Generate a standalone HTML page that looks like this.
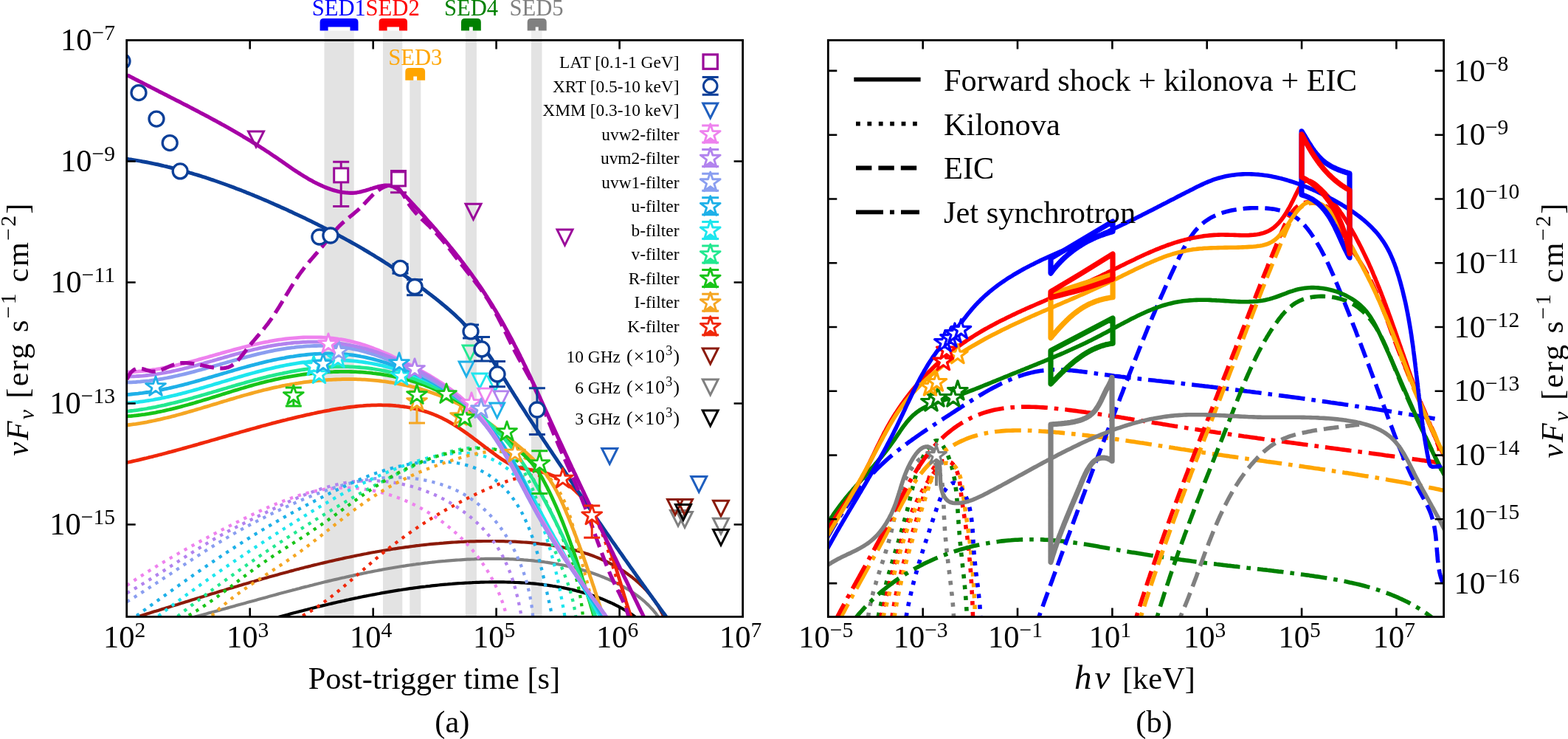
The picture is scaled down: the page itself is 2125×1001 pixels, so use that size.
<!DOCTYPE html><html><head><meta charset="utf-8"><style>html,body{margin:0;padding:0;background:#fff;}svg{display:block;}</style></head><body><svg width="2125" height="1001" viewBox="0 0 2125 1001" font-family="'Liberation Serif', serif">
<defs>
<clipPath id="clipL"><rect x="171.7" y="54.5" width="834.9000000000001" height="780.9"/></clipPath>
<clipPath id="clipR"><rect x="1122.3" y="54.5" width="834.3" height="781.0"/></clipPath>
</defs>
<rect width="2125" height="1001" fill="#fff"/>
<rect x="439.5" y="41.5" width="40.2" height="13" fill="#eeeeee"/>
<rect x="439.5" y="54.5" width="40.2" height="780.9" fill="#e3e3e3"/>
<rect x="519" y="41.5" width="26.3" height="13" fill="#eeeeee"/>
<rect x="519" y="54.5" width="26.3" height="780.9" fill="#e3e3e3"/>
<rect x="555.3" y="108.7" width="15" height="726.7" fill="#e3e3e3"/>
<rect x="630.8" y="41.5" width="15.1" height="13" fill="#eeeeee"/>
<rect x="630.8" y="54.5" width="15.1" height="780.9" fill="#e3e3e3"/>
<rect x="719.9" y="41.5" width="14.6" height="13" fill="#eeeeee"/>
<rect x="719.9" y="54.5" width="14.6" height="780.9" fill="#e3e3e3"/>
<g clip-path="url(#clipL)">
<path d="M144.9 847.7L147.8 846.9L150.7 846.0L153.6 845.2L156.5 844.3L159.4 843.5L162.2 842.6L165.1 841.8L168.0 840.9L170.9 840.0L173.8 839.2L176.7 838.3L179.6 837.4L182.5 836.6L185.3 835.7L188.2 834.8L191.1 833.9L194.0 833.1L196.9 832.2L199.8 831.3L202.7 830.4L205.5 829.5L208.4 828.6L211.3 827.8L214.2 826.9L217.1 826.0L220.0 825.1L222.9 824.2L225.8 823.3L228.6 822.4L231.5 821.5L234.4 820.6L237.3 819.7L240.2 818.9L243.1 818.0L246.0 817.1L248.9 816.2L251.7 815.3L254.6 814.4L257.5 813.5L260.4 812.6L263.3 811.7L266.2 810.8L269.1 809.9L272.0 809.1L274.9 808.2L277.7 807.3L280.6 806.4L283.5 805.5L286.4 804.6L289.3 803.8L292.2 802.9L295.1 802.0L298.0 801.1L300.9 800.2L303.8 799.4L306.7 798.5L309.6 797.6L312.5 796.8L315.4 795.9L318.3 795.0L321.2 794.2L324.1 793.3L327.0 792.5L329.9 791.6L332.8 790.8L335.7 789.9L338.6 789.1L341.5 788.2L344.4 787.4L347.3 786.5L350.2 785.7L353.1 784.9L356.0 784.0L358.9 783.2L361.8 782.4L364.7 781.6L367.6 780.8L370.5 780.0L373.4 779.2L376.3 778.4L379.2 777.6L382.1 776.8L385.1 776.0L388.0 775.2L390.9 774.4L393.8 773.6L396.7 772.9L399.6 772.1L402.6 771.3L405.5 770.6L408.4 769.8L411.3 769.1L414.2 768.3L417.2 767.6L420.1 766.9L423.0 766.1L425.9 765.4L428.8 764.7L431.8 764.0L434.7 763.3L437.6 762.6L440.6 761.9L443.5 761.2L446.4 760.5L449.4 759.9L452.3 759.2L455.2 758.5L458.2 757.9L461.1 757.2L464.0 756.6L467.0 755.9L469.9 755.3L472.9 754.7L475.8 754.1L478.8 753.5L481.7 752.9L484.6 752.3L487.6 751.7L490.5 751.1L493.5 750.5L496.4 750.0L499.4 749.4L502.4 748.8L505.3 748.3L508.3 747.8L511.2 747.2L514.2 746.7L517.2 746.2L520.1 745.7L523.1 745.2L526.0 744.7L529.0 744.3L532.0 743.8L535.0 743.3L537.9 742.9L540.9 742.4L543.9 742.0L546.8 741.6L549.8 741.2L552.8 740.8L555.8 740.4L558.8 740.0L561.8 739.6L564.7 739.2L567.7 738.9L570.7 738.5L573.7 738.2L576.7 737.8L579.7 737.5L582.7 737.2L585.7 736.9L588.7 736.6L591.7 736.3L594.7 736.1L597.7 735.8L600.7 735.6L603.7 735.3L606.7 735.1L609.7 734.9L612.7 734.7L615.7 734.5L618.8 734.3L621.8 734.1L624.8 734.0L627.8 733.8L630.8 733.7L633.9 733.6L636.9 733.4L639.9 733.3L643.0 733.3L646.0 733.2L649.0 733.1L652.1 733.1L655.1 733.0L658.1 733.0L661.2 733.0L664.2 733.0L667.3 733.0L670.3 733.0L673.4 733.0L676.4 733.1L679.5 733.1L682.5 733.2L685.6 733.3L688.7 733.4L691.7 733.5L694.8 733.6L697.8 733.7L700.9 733.9L704.0 734.1L707.0 734.3L710.1 734.5L713.1 734.7L716.2 734.9L719.2 735.2L722.3 735.5L725.3 735.8L728.4 736.1L731.4 736.5L734.4 736.8L737.5 737.2L740.5 737.6L743.5 738.0L746.5 738.5L749.5 739.0L752.5 739.5L755.5 740.0L758.4 740.6L761.4 741.1L764.4 741.8L767.3 742.4L770.2 743.1L773.2 743.7L776.1 744.5L779.0 745.2L781.9 746.0L784.8 746.8L787.6 747.6L790.5 748.5L793.3 749.4L796.2 750.3L799.0 751.3L801.8 752.3L804.5 753.3L807.3 754.4L810.1 755.5L812.8 756.6L815.5 757.8L818.2 759.0L820.9 760.2L823.6 761.5L826.2 762.8L828.8 764.2L831.5 765.6L834.0 767.0L836.6 768.5L839.2 770.0L841.7 771.5L844.2 773.1L846.7 774.8L849.1 776.4L851.5 778.2L853.9 779.9L856.3 781.7L858.6 783.6L860.9 785.4L863.2 787.4L865.4 789.3L867.6 791.4L869.8 793.4L871.9 795.5L874.0 797.7L876.0 799.9L878.0 802.1L880.0 804.4L881.9 806.7L883.7 809.1L885.5 811.6L887.3 814.0L889.0 816.6L890.7 819.1L892.3 821.7L893.8 824.4L895.3 827.1L896.8 829.9L898.1 832.7L899.5 835.6L900.7 838.5L901.9 841.5L903.1 844.5L904.1 847.5L905.2 850.7" fill="none" stroke="#8b1a0a" stroke-width="4.2" stroke-linejoin="round"/>
<path d="M214.9 848.4L217.9 847.7L220.8 846.9L223.8 846.2L226.7 845.4L229.7 844.7L232.6 843.9L235.6 843.2L238.5 842.4L241.5 841.6L244.4 840.9L247.3 840.1L250.3 839.3L253.2 838.5L256.2 837.8L259.1 837.0L262.0 836.2L265.0 835.4L267.9 834.6L270.8 833.8L273.8 833.0L276.7 832.2L279.6 831.4L282.5 830.6L285.5 829.8L288.4 829.0L291.3 828.2L294.2 827.4L297.2 826.6L300.1 825.8L303.0 825.0L305.9 824.2L308.9 823.4L311.8 822.6L314.7 821.7L317.6 820.9L320.5 820.1L323.5 819.3L326.4 818.5L329.3 817.7L332.2 816.9L335.1 816.1L338.0 815.3L341.0 814.5L343.9 813.7L346.8 812.9L349.7 812.1L352.6 811.3L355.5 810.5L358.5 809.7L361.4 808.9L364.3 808.1L367.2 807.3L370.1 806.5L373.0 805.7L376.0 804.9L378.9 804.1L381.8 803.3L384.7 802.5L387.6 801.8L390.5 801.0L393.5 800.2L396.4 799.4L399.3 798.7L402.2 797.9L405.1 797.2L408.1 796.4L411.0 795.6L413.9 794.9L416.8 794.2L419.7 793.4L422.7 792.7L425.6 791.9L428.5 791.2L431.4 790.5L434.4 789.8L437.3 789.0L440.2 788.3L443.1 787.6L446.1 786.9L449.0 786.2L451.9 785.5L454.8 784.9L457.8 784.2L460.7 783.5L463.6 782.8L466.6 782.2L469.5 781.5L472.5 780.9L475.4 780.2L478.3 779.6L481.3 778.9L484.2 778.3L487.2 777.7L490.1 777.1L493.0 776.5L496.0 775.9L498.9 775.3L501.9 774.7L504.8 774.1L507.8 773.5L510.7 773.0L513.7 772.4L516.7 771.9L519.6 771.3L522.6 770.8L525.5 770.3L528.5 769.8L531.5 769.3L534.4 768.8L537.4 768.3L540.4 767.8L543.3 767.3L546.3 766.8L549.3 766.4L552.3 765.9L555.2 765.5L558.2 765.1L561.2 764.7L564.2 764.2L567.2 763.8L570.2 763.5L573.2 763.1L576.2 762.7L579.2 762.4L582.2 762.0L585.2 761.7L588.2 761.3L591.2 761.0L594.2 760.7L597.2 760.4L600.2 760.1L603.2 759.9L606.2 759.6L609.3 759.3L612.3 759.1L615.3 758.9L618.3 758.7L621.4 758.5L624.4 758.3L627.4 758.1L630.5 757.9L633.5 757.7L636.5 757.6L639.6 757.5L642.6 757.4L645.7 757.2L648.8 757.2L651.8 757.1L654.9 757.0L657.9 756.9L661.0 756.9L664.1 756.9L667.1 756.9L670.2 756.9L673.3 756.9L676.3 756.9L679.4 757.0L682.5 757.0L685.6 757.1L688.6 757.2L691.7 757.3L694.8 757.4L697.9 757.6L700.9 757.8L704.0 757.9L707.0 758.1L710.1 758.4L713.2 758.6L716.2 758.9L719.3 759.1L722.3 759.4L725.4 759.8L728.4 760.1L731.4 760.4L734.5 760.8L737.5 761.2L740.5 761.7L743.5 762.1L746.5 762.6L749.5 763.1L752.5 763.6L755.5 764.1L758.5 764.7L761.5 765.2L764.4 765.8L767.4 766.5L770.3 767.1L773.3 767.8L776.2 768.5L779.1 769.2L782.0 770.0L784.9 770.8L787.8 771.6L790.7 772.4L793.6 773.3L796.4 774.2L799.3 775.1L802.1 776.0L804.9 777.0L807.7 778.0L810.5 779.0L813.3 780.1L816.1 781.2L818.9 782.3L821.6 783.5L824.3 784.6L827.0 785.9L829.7 787.1L832.4 788.4L835.1 789.7L837.8 791.0L840.4 792.4L843.0 793.8L845.6 795.2L848.2 796.7L850.7 798.2L853.3 799.8L855.8 801.4L858.2 803.0L860.7 804.7L863.1 806.4L865.5 808.2L867.8 810.0L870.1 811.9L872.4 813.8L874.6 815.8L876.8 817.9L879.0 819.9L881.1 822.1L883.1 824.3L885.2 826.5L887.1 828.9L889.0 831.2L890.9 833.7L892.7 836.2L894.5 838.8L896.2 841.4L897.8 844.1L899.4 846.9L900.9 849.7" fill="none" stroke="#808080" stroke-width="4.2" stroke-linejoin="round"/>
<path d="M334.9 847.9L337.8 847.1L340.7 846.2L343.6 845.4L346.6 844.6L349.5 843.7L352.4 842.9L355.3 842.1L358.2 841.2L361.2 840.4L364.1 839.6L367.0 838.8L369.9 838.0L372.9 837.2L375.8 836.4L378.7 835.6L381.6 834.8L384.5 834.0L387.5 833.2L390.4 832.4L393.3 831.6L396.2 830.8L399.2 830.0L402.1 829.3L405.0 828.5L407.9 827.7L410.9 827.0L413.8 826.2L416.7 825.5L419.7 824.7L422.6 824.0L425.5 823.3L428.5 822.5L431.4 821.8L434.3 821.1L437.3 820.4L440.2 819.7L443.1 819.0L446.1 818.3L449.0 817.6L451.9 816.9L454.9 816.2L457.8 815.5L460.8 814.9L463.7 814.2L466.6 813.6L469.6 812.9L472.5 812.3L475.5 811.6L478.4 811.0L481.4 810.4L484.3 809.8L487.3 809.1L490.2 808.5L493.2 807.9L496.1 807.4L499.1 806.8L502.0 806.2L505.0 805.6L508.0 805.1L510.9 804.5L513.9 804.0L516.8 803.4L519.8 802.9L522.8 802.4L525.7 801.9L528.7 801.4L531.7 800.9L534.6 800.4L537.6 799.9L540.6 799.4L543.6 799.0L546.6 798.5L549.5 798.1L552.5 797.6L555.5 797.2L558.5 796.8L561.5 796.4L564.5 796.0L567.4 795.6L570.4 795.2L573.4 794.8L576.4 794.5L579.4 794.1L582.4 793.8L585.4 793.4L588.4 793.1L591.4 792.8L594.4 792.5L597.4 792.2L600.4 791.9L603.5 791.6L606.5 791.4L609.5 791.1L612.5 790.9L615.5 790.6L618.5 790.4L621.6 790.2L624.6 790.0L627.6 789.8L630.7 789.6L633.7 789.5L636.7 789.3L639.8 789.2L642.8 789.0L645.8 788.9L648.9 788.8L651.9 788.7L655.0 788.6L658.0 788.5L661.1 788.5L664.1 788.4L667.2 788.4L670.3 788.4L673.3 788.4L676.4 788.4L679.4 788.4L682.5 788.4L685.5 788.5L688.6 788.6L691.7 788.6L694.7 788.7L697.8 788.9L700.8 789.0L703.9 789.1L706.9 789.3L710.0 789.5L713.0 789.7L716.0 789.9L719.1 790.2L722.1 790.4L725.1 790.7L728.2 791.0L731.2 791.4L734.2 791.7L737.2 792.1L740.2 792.5L743.2 792.9L746.2 793.3L749.2 793.8L752.2 794.2L755.2 794.7L758.2 795.3L761.1 795.8L764.1 796.4L767.0 797.0L770.0 797.6L772.9 798.3L775.8 798.9L778.8 799.6L781.7 800.4L784.6 801.1L787.5 801.9L790.4 802.7L793.2 803.6L796.1 804.4L798.9 805.3L801.8 806.2L804.6 807.2L807.5 808.2L810.3 809.2L813.1 810.3L815.8 811.3L818.6 812.4L821.4 813.6L824.1 814.8L826.8 816.0L829.5 817.2L832.2 818.5L834.9 819.8L837.5 821.2L840.2 822.6L842.8 824.0L845.4 825.5L847.9 827.0L850.5 828.6L853.0 830.2L855.5 831.8L858.0 833.5L860.4 835.2L862.8 837.0L865.2 838.8L867.6 840.6L869.9 842.6L872.2 844.5L874.5 846.5L876.7 848.5" fill="none" stroke="#000000" stroke-width="4.2" stroke-linejoin="round"/>
<path d="M172.0 792.9L174.5 791.2L177.0 789.5L179.6 787.8L182.1 786.1L184.6 784.4L187.2 782.8L189.7 781.1L192.3 779.5L194.8 777.9L197.4 776.3L199.9 774.6L202.5 773.0L205.1 771.5L207.6 769.9L210.2 768.3L212.8 766.7L215.3 765.2L217.9 763.6L220.5 762.1L223.1 760.5L225.7 759.0L228.2 757.5L230.8 756.0L233.4 754.5L236.0 753.0L238.6 751.5L241.2 750.0L243.8 748.5L246.4 747.0L249.0 745.5L251.6 744.1L254.3 742.6L256.9 741.2L259.5 739.7L262.1 738.3L264.8 736.8L267.4 735.4L270.0 734.0L272.7 732.5L275.3 731.1L278.0 729.7L280.6 728.3L283.3 726.9L285.9 725.5L288.6 724.1L291.3 722.7L293.9 721.3L296.6 719.9L299.3 718.5L302.0 717.1L304.7 715.7L307.4 714.3L310.0 712.9L312.7 711.6L315.4 710.2L318.2 708.8L320.9 707.4L323.6 706.1L326.3 704.7L329.0 703.4L331.8 702.0L334.5 700.7L337.2 699.4L340.0 698.0L342.7 696.7L345.5 695.4L348.2 694.1L351.0 692.8L353.8 691.6L356.6 690.3L359.3 689.0L362.1 687.8L364.9 686.6L367.7 685.3L370.5 684.1L373.3 683.0L376.2 681.8L379.0 680.6L381.8 679.5L384.6 678.4L387.5 677.3L390.3 676.3L393.2 675.2L396.0 674.2L398.9 673.2L401.7 672.3L404.6 671.3L407.5 670.4L410.3 669.6L413.2 668.7L416.1 667.9L419.0 667.2L421.9 666.5L424.8 665.8L427.7 665.1L430.6 664.5L433.5 663.9L436.4 663.4L439.3 662.9L442.3 662.5L445.2 662.1L448.1 661.8L451.1 661.5L454.0 661.2L457.0 661.0L459.9 660.9L462.9 660.8L465.8 660.7L468.8 660.7L471.7 660.8L474.7 660.9L477.6 661.0L480.6 661.2L483.6 661.4L486.5 661.7L489.5 662.0L492.4 662.4L495.4 662.8L498.3 663.2L501.3 663.7L504.2 664.3L507.1 664.9L510.0 665.5L513.0 666.2L515.9 666.9L518.8 667.6L521.7 668.4L524.6 669.3L527.5 670.1L530.3 671.0L533.2 672.0L536.1 673.0L538.9 674.0L541.7 675.1L544.6 676.2L547.4 677.3L550.2 678.5L553.0 679.7L555.7 681.0L558.5 682.3L561.2 683.6L564.0 685.0L566.7 686.4L569.4 687.8L572.1 689.3L574.7 690.8L577.4 692.3L580.0 693.9L582.6 695.5L585.2 697.1L587.8 698.8L590.3 700.5L592.8 702.2L595.3 704.0L597.8 705.8L600.3 707.6L602.7 709.5L605.2 711.3L607.6 713.3L609.9 715.2L612.3 717.2L614.6 719.2L616.9 721.2L619.2 723.2L621.4 725.3L623.6 727.4L625.8 729.5L628.0 731.7L630.1 733.9L632.2 736.1L634.3 738.3L636.3 740.6L638.3 742.9L640.3 745.2L642.2 747.5L644.2 749.8L646.0 752.2L647.9 754.6L649.7 757.0L651.5 759.4L653.2 761.9L654.9 764.4L656.6 766.9L658.3 769.4L659.9 771.9L661.4 774.5L663.0 777.1L664.5 779.7L665.9 782.3L667.4 784.9L668.8 787.6L670.1 790.2L671.4 792.9L672.7 795.6L674.0 798.3L675.2 801.1L676.4 803.8L677.5 806.6L678.6 809.4L679.6 812.2L680.7 815.0L681.7 817.9L682.6 820.7L683.5 823.6L684.4 826.5L685.2 829.4L686.0 832.3L686.8 835.2L687.5 838.1L688.2 841.1L688.8 844.0L689.4 847.0L690.0 850.0" fill="none" stroke="#ee82ee" stroke-width="4.3" stroke-dasharray="4.3 7.1" stroke-linejoin="round"/>
<path d="M172.0 803.3L174.6 801.8L177.2 800.4L179.8 798.9L182.5 797.3L185.1 795.8L187.7 794.3L190.3 792.7L192.9 791.2L195.4 789.6L198.0 788.0L200.6 786.4L203.2 784.9L205.7 783.3L208.3 781.7L210.9 780.0L213.4 778.4L216.0 776.8L218.6 775.2L221.1 773.6L223.7 771.9L226.2 770.3L228.8 768.7L231.3 767.0L233.9 765.4L236.4 763.8L238.9 762.1L241.5 760.5L244.0 758.8L246.6 757.2L249.1 755.6L251.7 753.9L254.2 752.3L256.8 750.7L259.4 749.1L261.9 747.5L264.5 745.9L267.0 744.3L269.6 742.7L272.2 741.1L274.8 739.5L277.3 737.9L279.9 736.4L282.5 734.8L285.1 733.3L287.7 731.8L290.3 730.2L292.9 728.7L295.5 727.2L298.2 725.7L300.8 724.3L303.4 722.8L306.1 721.4L308.7 719.9L311.4 718.5L314.0 717.1L316.7 715.7L319.4 714.4L322.1 713.0L324.8 711.6L327.5 710.3L330.2 709.0L332.9 707.6L335.6 706.3L338.3 705.0L341.0 703.6L343.8 702.3L346.5 701.0L349.2 699.6L351.9 698.3L354.7 697.0L357.4 695.7L360.2 694.3L362.9 693.0L365.7 691.7L368.4 690.3L371.2 689.0L373.9 687.7L376.7 686.4L379.4 685.1L382.2 683.8L385.0 682.5L387.8 681.2L390.5 679.9L393.3 678.7L396.1 677.4L398.9 676.2L401.7 675.0L404.5 673.8L407.3 672.6L410.1 671.5L412.9 670.3L415.7 669.2L418.6 668.1L421.4 667.0L424.2 666.0L427.1 665.0L429.9 664.0L432.8 663.0L435.7 662.1L438.5 661.2L441.4 660.3L444.3 659.5L447.2 658.7L450.1 657.9L453.0 657.2L455.9 656.5L458.8 655.8L461.7 655.2L464.6 654.6L467.6 654.0L470.5 653.5L473.5 653.1L476.4 652.7L479.4 652.3L482.4 652.0L485.4 651.7L488.4 651.5L491.4 651.3L494.4 651.2L497.4 651.1L500.4 651.1L503.4 651.1L506.4 651.1L509.4 651.2L512.5 651.4L515.5 651.6L518.5 651.8L521.5 652.1L524.6 652.4L527.6 652.8L530.6 653.2L533.6 653.6L536.6 654.1L539.6 654.7L542.6 655.3L545.6 655.9L548.6 656.6L551.6 657.3L554.6 658.0L557.5 658.8L560.5 659.7L563.4 660.6L566.4 661.5L569.3 662.4L572.2 663.4L575.1 664.5L577.9 665.6L580.8 666.7L583.6 667.8L586.5 669.0L589.3 670.3L592.1 671.6L594.8 672.9L597.6 674.2L600.3 675.6L603.0 677.0L605.7 678.5L608.4 680.0L611.0 681.6L613.6 683.1L616.2 684.8L618.8 686.4L621.3 688.1L623.8 689.8L626.3 691.6L628.8 693.4L631.2 695.2L633.6 697.0L636.0 698.9L638.3 700.9L640.6 702.8L642.9 704.8L645.1 706.9L647.3 708.9L649.5 711.0L651.6 713.2L653.7 715.3L655.8 717.5L657.8 719.8L659.8 722.0L661.7 724.3L663.6 726.6L665.5 729.0L667.3 731.4L669.1 733.8L670.8 736.2L672.5 738.7L674.1 741.2L675.7 743.7L677.3 746.3L678.8 748.9L680.2 751.5L681.7 754.1L683.0 756.8L684.3 759.5L685.6 762.2L686.9 765.0L688.1 767.7L689.2 770.5L690.4 773.3L691.5 776.2L692.5 779.0L693.5 781.9L694.5 784.7L695.4 787.6L696.4 790.5L697.2 793.5L698.1 796.4L698.9 799.3L699.7 802.3L700.4 805.2L701.2 808.2L701.9 811.2L702.6 814.2L703.2 817.1L703.8 820.1L704.5 823.1L705.0 826.1L705.6 829.1L706.1 832.1L706.7 835.1L707.2 838.1L707.7 841.1L708.1 844.1L708.6 847.0L709.0 850.0" fill="none" stroke="#b283ee" stroke-width="4.3" stroke-dasharray="4.3 7.1" stroke-linejoin="round"/>
<path d="M172.0 815.1L174.6 813.5L177.2 812.0L179.7 810.4L182.3 808.8L184.9 807.2L187.4 805.6L190.0 804.0L192.5 802.4L195.1 800.7L197.6 799.1L200.1 797.5L202.7 795.8L205.2 794.2L207.7 792.6L210.3 790.9L212.8 789.3L215.3 787.6L217.8 786.0L220.4 784.3L222.9 782.6L225.4 781.0L227.9 779.3L230.4 777.7L233.0 776.0L235.5 774.3L238.0 772.7L240.5 771.0L243.0 769.3L245.5 767.7L248.0 766.0L250.6 764.3L253.1 762.7L255.6 761.0L258.1 759.4L260.6 757.7L263.2 756.1L265.7 754.5L268.2 752.8L270.7 751.2L273.3 749.6L275.8 747.9L278.3 746.3L280.9 744.7L283.4 743.1L286.0 741.5L288.5 739.9L291.1 738.3L293.6 736.8L296.2 735.2L298.8 733.6L301.3 732.1L303.9 730.6L306.5 729.0L309.1 727.5L311.6 726.0L314.2 724.5L316.8 723.0L319.4 721.5L322.0 720.0L324.7 718.6L327.3 717.1L329.9 715.7L332.5 714.2L335.2 712.8L337.8 711.4L340.4 710.0L343.1 708.6L345.7 707.2L348.4 705.8L351.1 704.4L353.7 703.1L356.4 701.7L359.1 700.4L361.8 699.0L364.5 697.7L367.2 696.4L369.9 695.0L372.6 693.7L375.3 692.4L378.0 691.2L380.8 689.9L383.5 688.6L386.2 687.3L389.0 686.1L391.7 684.8L394.5 683.6L397.2 682.4L400.0 681.1L402.8 679.9L405.6 678.7L408.4 677.5L411.2 676.3L414.0 675.2L416.8 674.0L419.6 672.8L422.4 671.7L425.2 670.6L428.1 669.5L430.9 668.4L433.7 667.3L436.6 666.3L439.5 665.2L442.3 664.2L445.2 663.2L448.1 662.3L451.0 661.3L453.8 660.4L456.7 659.5L459.6 658.6L462.6 657.7L465.5 656.9L468.4 656.1L471.3 655.3L474.3 654.6L477.2 653.9L480.2 653.2L483.1 652.5L486.1 651.9L489.0 651.3L492.0 650.7L495.0 650.2L498.0 649.7L501.0 649.2L504.0 648.8L507.0 648.4L510.0 648.1L513.1 647.8L516.1 647.5L519.1 647.3L522.2 647.1L525.2 646.9L528.3 646.8L531.3 646.7L534.4 646.7L537.4 646.7L540.4 646.7L543.5 646.8L546.5 647.0L549.6 647.1L552.6 647.3L555.6 647.6L558.6 647.9L561.6 648.2L564.6 648.6L567.6 649.0L570.6 649.5L573.6 650.0L576.5 650.6L579.5 651.2L582.4 651.8L585.3 652.5L588.2 653.3L591.1 654.0L594.0 654.9L596.8 655.7L599.7 656.7L602.5 657.6L605.3 658.6L608.0 659.7L610.8 660.8L613.5 661.9L616.2 663.2L618.9 664.4L621.5 665.7L624.1 667.1L626.7 668.4L629.3 669.9L631.8 671.4L634.3 672.9L636.8 674.5L639.2 676.2L641.6 677.9L644.0 679.6L646.4 681.4L648.7 683.3L650.9 685.2L653.2 687.1L655.4 689.1L657.5 691.1L659.7 693.1L661.8 695.3L663.9 697.4L665.9 699.6L667.9 701.8L669.9 704.1L671.8 706.4L673.7 708.7L675.6 711.1L677.4 713.5L679.2 715.9L681.0 718.4L682.7 720.9L684.4 723.4L686.0 726.0L687.7 728.6L689.2 731.2L690.8 733.8L692.3 736.5L693.8 739.2L695.2 741.9L696.7 744.6L698.0 747.4L699.4 750.2L700.7 753.0L701.9 755.8L703.2 758.6L704.4 761.5L705.5 764.3L706.6 767.2L707.7 770.1L708.8 773.0L709.8 775.9L710.8 778.9L711.7 781.8L712.6 784.8L713.5 787.7L714.3 790.7L715.1 793.7L715.8 796.6L716.5 799.6L717.2 802.6L717.9 805.6L718.5 808.6L719.0 811.6L719.6 814.6L720.0 817.5L720.5 820.5L720.9 823.5L721.3 826.5L721.6 829.5L721.9 832.4L722.2 835.4L722.4 838.3L722.6 841.3L722.7 844.2L722.8 847.1L722.9 850.0" fill="none" stroke="#8a9ef0" stroke-width="4.3" stroke-dasharray="4.3 7.1" stroke-linejoin="round"/>
<path d="M185.1 834.1L187.6 832.4L190.0 830.6L192.4 828.8L194.8 827.1L197.3 825.3L199.7 823.5L202.1 821.8L204.5 820.0L207.0 818.3L209.4 816.5L211.8 814.7L214.3 813.0L216.7 811.2L219.2 809.4L221.6 807.7L224.1 805.9L226.5 804.2L229.0 802.4L231.4 800.7L233.9 798.9L236.3 797.2L238.8 795.4L241.2 793.7L243.7 791.9L246.2 790.2L248.6 788.4L251.1 786.7L253.6 784.9L256.0 783.2L258.5 781.5L261.0 779.7L263.5 778.0L266.0 776.3L268.4 774.6L270.9 772.9L273.4 771.1L275.9 769.4L278.4 767.7L280.9 766.0L283.4 764.3L285.9 762.6L288.4 760.9L290.9 759.2L293.4 757.5L295.9 755.9L298.4 754.2L300.9 752.5L303.5 750.8L306.0 749.2L308.5 747.5L311.0 745.9L313.6 744.2L316.1 742.6L318.6 740.9L321.2 739.3L323.7 737.7L326.3 736.0L328.8 734.4L331.3 732.8L333.9 731.2L336.4 729.6L339.0 728.0L341.6 726.4L344.1 724.8L346.7 723.2L349.3 721.7L351.8 720.1L354.4 718.5L357.0 717.0L359.6 715.4L362.1 713.9L364.7 712.4L367.3 710.9L369.9 709.3L372.5 707.8L375.1 706.3L377.7 704.8L380.3 703.3L382.9 701.9L385.5 700.4L388.1 698.9L390.8 697.5L393.4 696.0L396.0 694.6L398.6 693.2L401.2 691.7L403.9 690.3L406.5 688.9L409.2 687.5L411.8 686.1L414.4 684.7L417.1 683.4L419.7 682.0L422.4 680.6L425.1 679.3L427.7 677.9L430.4 676.6L433.0 675.2L435.7 673.9L438.4 672.5L441.1 671.2L443.7 669.9L446.4 668.5L449.1 667.2L451.8 665.9L454.5 664.6L457.2 663.3L459.9 662.0L462.6 660.7L465.3 659.4L468.0 658.2L470.8 656.9L473.5 655.6L476.2 654.4L479.0 653.2L481.8 652.0L484.5 650.8L487.3 649.6L490.1 648.4L492.9 647.3L495.7 646.2L498.6 645.0L501.4 644.0L504.3 642.9L507.1 641.8L510.0 640.8L512.9 639.8L515.8 638.8L518.8 637.9L521.7 636.9L524.7 636.0L527.6 635.2L530.6 634.3L533.6 633.5L536.7 632.7L539.7 632.0L542.7 631.3L545.8 630.6L548.8 629.9L551.9 629.3L554.9 628.7L558.0 628.2L561.0 627.7L564.1 627.2L567.2 626.8L570.3 626.4L573.3 626.1L576.4 625.8L579.4 625.6L582.5 625.4L585.5 625.2L588.6 625.1L591.6 625.1L594.6 625.1L597.6 625.1L600.6 625.2L603.6 625.4L606.6 625.6L609.6 625.8L612.5 626.2L615.4 626.6L618.3 627.0L621.2 627.5L624.1 628.1L626.9 628.7L629.7 629.4L632.5 630.1L635.3 630.9L638.1 631.8L640.8 632.8L643.5 633.8L646.1 634.9L648.7 636.0L651.3 637.3L653.9 638.6L656.4 639.9L658.9 641.4L661.4 642.9L663.8 644.5L666.2 646.1L668.6 647.9L670.9 649.6L673.1 651.5L675.4 653.4L677.6 655.3L679.7 657.3L681.8 659.4L683.9 661.5L685.9 663.7L687.9 665.9L689.8 668.2L691.7 670.5L693.5 672.9L695.3 675.3L697.1 677.7L698.8 680.2L700.4 682.7L702.0 685.3L703.6 687.9L705.1 690.5L706.5 693.1L708.0 695.8L709.3 698.5L710.7 701.3L712.0 704.1L713.2 706.8L714.5 709.6L715.7 712.5L716.8 715.3L718.0 718.2L719.1 721.1L720.1 724.0L721.2 726.9L722.2 729.8L723.2 732.7L724.1 735.7L725.1 738.6L726.0 741.6L726.9 744.5L727.7 747.5L728.6 750.4L729.4 753.4L730.2 756.3L731.0 759.3L731.8 762.2L732.6 765.2L733.3 768.1L734.1 771.1L734.8 774.0L735.5 777.0L736.2 779.9L736.9 782.9L737.6 785.8L738.3 788.7L738.9 791.7L739.6 794.6L740.2 797.5L740.9 800.4L741.5 803.4L742.2 806.3L742.8 809.2L743.4 812.1L744.1 815.0L744.7 817.9L745.4 820.7L746.0 823.6L746.6 826.5L747.3 829.3L747.9 832.2L748.6 835.0L749.2 837.9L749.9 840.7L750.6 843.5L751.3 846.3L752.0 849.1" fill="none" stroke="#1eb0e8" stroke-width="4.3" stroke-dasharray="4.3 7.1" stroke-linejoin="round"/>
<path d="M214.6 834.4L216.9 832.6L219.3 830.8L221.6 829.0L224.0 827.2L226.4 825.4L228.7 823.6L231.1 821.8L233.5 820.0L235.9 818.2L238.3 816.4L240.7 814.6L243.1 812.9L245.5 811.1L247.9 809.3L250.4 807.5L252.8 805.7L255.2 804.0L257.7 802.2L260.1 800.4L262.6 798.7L265.0 796.9L267.5 795.1L269.9 793.4L272.4 791.6L274.9 789.9L277.3 788.1L279.8 786.4L282.3 784.6L284.8 782.9L287.2 781.1L289.7 779.4L292.2 777.6L294.7 775.9L297.2 774.2L299.7 772.5L302.2 770.7L304.7 769.0L307.2 767.3L309.7 765.6L312.3 763.9L314.8 762.2L317.3 760.4L319.8 758.7L322.3 757.0L324.9 755.4L327.4 753.7L329.9 752.0L332.4 750.3L335.0 748.6L337.5 746.9L340.0 745.2L342.6 743.6L345.1 741.9L347.6 740.2L350.2 738.6L352.7 736.9L355.2 735.3L357.8 733.6L360.3 732.0L362.9 730.3L365.4 728.7L368.0 727.0L370.5 725.4L373.0 723.8L375.6 722.2L378.1 720.5L380.7 718.9L383.2 717.3L385.7 715.7L388.3 714.1L390.8 712.5L393.4 710.9L395.9 709.3L398.4 707.7L401.0 706.2L403.5 704.6L406.0 703.0L408.6 701.4L411.1 699.9L413.6 698.3L416.2 696.8L418.7 695.2L421.3 693.7L423.8 692.1L426.3 690.6L428.9 689.1L431.4 687.6L434.0 686.0L436.6 684.5L439.1 683.0L441.7 681.6L444.3 680.1L446.8 678.6L449.4 677.1L452.0 675.7L454.6 674.2L457.2 672.8L459.8 671.3L462.4 669.9L465.0 668.5L467.7 667.0L470.3 665.6L472.9 664.2L475.6 662.8L478.2 661.5L480.9 660.1L483.6 658.7L486.3 657.4L489.0 656.0L491.7 654.7L494.4 653.4L497.1 652.1L499.9 650.8L502.6 649.5L505.4 648.2L508.2 646.9L510.9 645.7L513.7 644.4L516.6 643.2L519.4 641.9L522.2 640.7L525.1 639.5L527.9 638.3L530.8 637.1L533.7 636.0L536.6 634.8L539.6 633.7L542.5 632.5L545.5 631.4L548.5 630.3L551.4 629.2L554.4 628.2L557.4 627.1L560.5 626.1L563.5 625.1L566.5 624.2L569.6 623.2L572.6 622.3L575.7 621.5L578.7 620.6L581.8 619.8L584.8 619.1L587.9 618.4L590.9 617.7L594.0 617.1L597.0 616.5L600.1 616.0L603.1 615.5L606.1 615.1L609.2 614.7L612.2 614.4L615.2 614.1L618.2 613.9L621.1 613.8L624.1 613.7L627.1 613.7L630.0 613.8L632.9 613.9L635.8 614.2L638.7 614.4L641.5 614.8L644.4 615.2L647.2 615.8L650.0 616.4L652.8 617.1L655.5 617.8L658.2 618.7L660.9 619.6L663.6 620.7L666.2 621.8L668.8 623.0L671.4 624.2L673.9 625.6L676.4 627.0L678.8 628.5L681.2 630.1L683.6 631.8L685.9 633.5L688.2 635.3L690.4 637.1L692.6 639.1L694.7 641.1L696.8 643.1L698.8 645.2L700.8 647.4L702.7 649.7L704.6 652.0L706.4 654.3L708.2 656.7L709.9 659.2L711.6 661.7L713.2 664.2L714.8 666.8L716.4 669.5L717.9 672.1L719.3 674.8L720.8 677.6L722.2 680.3L723.5 683.1L724.8 685.9L726.1 688.8L727.3 691.6L728.6 694.5L729.8 697.4L730.9 700.3L732.0 703.3L733.1 706.2L734.2 709.1L735.3 712.1L736.3 715.0L737.3 717.9L738.3 720.9L739.3 723.8L740.3 726.7L741.2 729.7L742.1 732.6L743.0 735.5L743.9 738.4L744.7 741.4L745.6 744.3L746.4 747.2L747.2 750.1L748.0 753.0L748.8 755.9L749.6 758.9L750.3 761.8L751.1 764.7L751.8 767.6L752.5 770.5L753.2 773.4L753.9 776.4L754.5 779.3L755.2 782.2L755.8 785.1L756.5 788.0L757.1 790.9L757.7 793.8L758.3 796.8L758.9 799.7L759.5 802.6L760.0 805.5L760.6 808.4L761.2 811.4L761.7 814.3L762.2 817.2L762.8 820.1L763.3 823.1L763.8 826.0L764.3 828.9L764.9 831.9L765.4 834.8L765.9 837.7L766.4 840.7L766.8 843.6L767.3 846.6L767.8 849.5" fill="none" stroke="#1ee6ee" stroke-width="4.3" stroke-dasharray="4.3 7.1" stroke-linejoin="round"/>
<path d="M240.6 834.7L243.0 832.9L245.3 831.0L247.7 829.2L250.1 827.3L252.5 825.5L254.9 823.7L257.3 821.8L259.6 820.0L262.0 818.2L264.4 816.3L266.8 814.5L269.3 812.7L271.7 810.9L274.1 809.1L276.5 807.3L278.9 805.5L281.3 803.6L283.7 801.8L286.2 800.0L288.6 798.3L291.0 796.5L293.5 794.7L295.9 792.9L298.3 791.1L300.8 789.3L303.2 787.6L305.7 785.8L308.1 784.0L310.6 782.3L313.0 780.5L315.5 778.7L317.9 777.0L320.4 775.2L322.9 773.5L325.3 771.7L327.8 770.0L330.3 768.3L332.8 766.5L335.2 764.8L337.7 763.1L340.2 761.4L342.7 759.6L345.2 757.9L347.7 756.2L350.1 754.5L352.6 752.8L355.1 751.1L357.6 749.4L360.1 747.7L362.6 746.0L365.1 744.3L367.7 742.7L370.2 741.0L372.7 739.3L375.2 737.6L377.7 736.0L380.2 734.3L382.7 732.7L385.3 731.0L387.8 729.4L390.3 727.7L392.8 726.1L395.4 724.4L397.9 722.8L400.4 721.2L403.0 719.5L405.5 717.9L408.1 716.3L410.6 714.7L413.1 713.1L415.7 711.5L418.2 709.9L420.8 708.3L423.3 706.7L425.9 705.1L428.5 703.5L431.0 702.0L433.6 700.4L436.1 698.8L438.7 697.3L441.3 695.7L443.8 694.2L446.4 692.6L449.0 691.1L451.5 689.5L454.1 688.0L456.7 686.5L459.3 684.9L461.9 683.4L464.5 681.9L467.1 680.4L469.6 678.9L472.2 677.4L474.8 675.9L477.4 674.4L480.1 672.9L482.7 671.5L485.3 670.0L487.9 668.5L490.5 667.1L493.1 665.6L495.8 664.2L498.4 662.7L501.1 661.3L503.7 659.9L506.3 658.4L509.0 657.0L511.7 655.6L514.3 654.2L517.0 652.8L519.6 651.4L522.3 650.0L525.0 648.6L527.7 647.2L530.4 645.9L533.1 644.5L535.8 643.2L538.5 641.8L541.2 640.5L543.9 639.1L546.6 637.8L549.4 636.5L552.1 635.2L554.9 633.8L557.6 632.5L560.4 631.2L563.1 630.0L565.9 628.7L568.7 627.4L571.4 626.2L574.2 624.9L577.0 623.7L579.8 622.5L582.7 621.3L585.5 620.2L588.3 619.1L591.2 618.0L594.0 616.9L596.9 615.9L599.8 614.9L602.7 614.0L605.6 613.1L608.5 612.2L611.5 611.4L614.4 610.6L617.4 609.9L620.4 609.3L623.4 608.7L626.4 608.2L629.4 607.7L632.5 607.3L635.5 606.9L638.6 606.7L641.6 606.5L644.7 606.3L647.7 606.3L650.8 606.3L653.8 606.4L656.8 606.6L659.8 606.9L662.7 607.3L665.6 607.8L668.5 608.4L671.3 609.1L674.1 609.9L676.8 610.8L679.4 611.8L682.0 612.9L684.5 614.1L687.0 615.5L689.4 616.9L691.7 618.5L693.9 620.2L696.0 622.1L698.1 624.0L700.1 626.0L702.0 628.2L703.9 630.4L705.7 632.7L707.4 635.1L709.1 637.6L710.7 640.1L712.2 642.7L713.7 645.4L715.2 648.1L716.6 650.9L717.9 653.7L719.3 656.6L720.5 659.5L721.8 662.4L723.0 665.3L724.1 668.3L725.3 671.3L726.3 674.3L727.4 677.3L728.5 680.2L729.5 683.2L730.5 686.2L731.5 689.2L732.4 692.1L733.4 695.1L734.4 698.0L735.3 700.9L736.3 703.9L737.2 706.8L738.2 709.7L739.2 712.6L740.2 715.4L741.2 718.3L742.3 721.2L743.3 724.0L744.4 726.8L745.5 729.6L746.6 732.5L747.7 735.3L748.9 738.1L750.0 740.9L751.1 743.6L752.3 746.4L753.4 749.2L754.6 752.0L755.7 754.7L756.8 757.5L758.0 760.3L759.1 763.1L760.2 765.8L761.3 768.6L762.4 771.4L763.5 774.2L764.6 776.9L765.6 779.7L766.7 782.5L767.7 785.3L768.7 788.1L769.7 790.9L770.6 793.8L771.5 796.6L772.4 799.4L773.3 802.3L774.1 805.2L774.9 808.1L775.6 810.9L776.4 813.9L777.1 816.8L777.7 819.7L778.3 822.7L778.8 825.7L779.4 828.7L779.8 831.7L780.2 834.7L780.6 837.8L780.9 840.8L781.1 843.9L781.3 847.1L781.5 850.2" fill="none" stroke="#22e890" stroke-width="4.3" stroke-dasharray="4.3 7.1" stroke-linejoin="round"/>
<path d="M255.7 833.6L258.4 832.1L261.0 830.6L263.5 829.1L266.1 827.5L268.6 825.9L271.2 824.3L273.7 822.7L276.2 821.0L278.7 819.4L281.2 817.7L283.7 816.0L286.1 814.2L288.6 812.5L291.0 810.7L293.5 809.0L295.9 807.2L298.3 805.4L300.8 803.6L303.2 801.8L305.6 800.0L308.0 798.2L310.4 796.4L312.8 794.6L315.2 792.7L317.6 790.9L320.0 789.1L322.4 787.3L324.8 785.4L327.2 783.6L329.6 781.8L332.0 780.0L334.4 778.2L336.9 776.4L339.3 774.6L341.7 772.8L344.2 771.0L346.6 769.3L349.1 767.5L351.5 765.8L354.0 764.1L356.5 762.4L359.0 760.7L361.5 759.0L364.0 757.3L366.5 755.6L369.0 753.9L371.5 752.3L374.0 750.6L376.6 749.0L379.1 747.4L381.6 745.7L384.2 744.1L386.7 742.5L389.2 740.9L391.8 739.2L394.3 737.6L396.9 736.0L399.4 734.4L402.0 732.8L404.5 731.1L407.0 729.5L409.6 727.9L412.1 726.2L414.6 724.6L417.2 723.0L419.7 721.3L422.2 719.7L424.7 718.0L427.2 716.3L429.7 714.6L432.2 713.0L434.7 711.3L437.2 709.5L439.7 707.8L442.1 706.1L444.6 704.4L447.1 702.6L449.5 700.9L452.0 699.1L454.4 697.4L456.9 695.6L459.3 693.9L461.8 692.1L464.2 690.3L466.7 688.6L469.1 686.8L471.5 685.1L474.0 683.3L476.4 681.6L478.9 679.8L481.3 678.1L483.8 676.3L486.2 674.6L488.7 672.9L491.2 671.1L493.6 669.4L496.1 667.7L498.6 666.0L501.1 664.3L503.5 662.7L506.0 661.0L508.5 659.3L511.0 657.7L513.6 656.1L516.1 654.5L518.6 652.9L521.2 651.3L523.7 649.7L526.3 648.2L528.9 646.7L531.5 645.1L534.1 643.7L536.7 642.2L539.3 640.7L541.9 639.3L544.6 637.9L547.2 636.5L549.9 635.2L552.6 633.9L555.3 632.5L558.0 631.3L560.8 630.0L563.5 628.8L566.3 627.6L569.1 626.4L571.9 625.3L574.7 624.2L577.6 623.1L580.4 622.0L583.3 621.0L586.2 620.0L589.1 619.1L592.0 618.1L594.9 617.2L597.8 616.4L600.8 615.6L603.8 614.8L606.7 614.0L609.7 613.3L612.7 612.6L615.8 611.9L618.8 611.3L621.9 610.7L624.9 610.1L628.0 609.6L631.1 609.1L634.2 608.6L637.3 608.3L640.4 607.9L643.5 607.6L646.6 607.4L649.6 607.2L652.7 607.2L655.7 607.2L658.7 607.2L661.7 607.4L664.6 607.7L667.5 608.1L670.3 608.6L673.1 609.2L675.8 609.9L678.5 610.7L681.1 611.7L683.7 612.7L686.2 613.9L688.6 615.2L691.0 616.6L693.4 618.1L695.7 619.7L697.9 621.3L700.1 623.1L702.3 625.0L704.4 626.9L706.5 628.9L708.5 631.0L710.5 633.2L712.4 635.4L714.3 637.7L716.2 640.1L718.0 642.5L719.8 645.0L721.6 647.5L723.3 650.1L725.0 652.7L726.6 655.3L728.3 658.0L729.9 660.8L731.4 663.5L733.0 666.3L734.5 669.1L736.0 671.9L737.5 674.7L739.0 677.6L740.4 680.4L741.8 683.3L743.2 686.1L744.6 689.0L746.0 691.8L747.3 694.7L748.7 697.5L750.0 700.3L751.3 703.1L752.6 705.9L753.9 708.7L755.2 711.5L756.4 714.3L757.6 717.1L758.8 719.9L760.0 722.7L761.2 725.5L762.4 728.3L763.5 731.1L764.6 733.8L765.7 736.6L766.8 739.4L767.9 742.2L768.9 745.0L770.0 747.7L771.0 750.5L772.0 753.3L772.9 756.1L773.9 758.9L774.8 761.7L775.7 764.5L776.6 767.3L777.4 770.1L778.2 773.0L779.0 775.8L779.8 778.6L780.6 781.5L781.3 784.3L782.0 787.2L782.7 790.1L783.4 792.9L784.0 795.8L784.6 798.7L785.2 801.6L785.8 804.6L786.3 807.5L786.8 810.5L787.3 813.4L787.8 816.4L788.2 819.4L788.6 822.4L789.0 825.4L789.3 828.5L789.6 831.5L789.9 834.6L790.2 837.7L790.4 840.8L790.6 843.9L790.8 847.1L790.9 850.2" fill="none" stroke="#18c418" stroke-width="4.3" stroke-dasharray="4.3 7.1" stroke-linejoin="round"/>
<path d="M287.0 834.0L289.2 831.9L291.5 829.8L293.7 827.7L296.0 825.7L298.2 823.6L300.5 821.7L302.9 819.7L305.2 817.8L307.5 815.8L309.9 813.9L312.3 812.1L314.6 810.2L317.0 808.4L319.4 806.6L321.9 804.8L324.3 803.0L326.7 801.3L329.2 799.5L331.6 797.8L334.1 796.1L336.6 794.4L339.1 792.7L341.5 791.0L344.0 789.3L346.5 787.7L349.0 786.0L351.5 784.4L354.0 782.7L356.6 781.1L359.1 779.4L361.6 777.8L364.1 776.1L366.6 774.5L369.1 772.9L371.7 771.2L374.2 769.6L376.7 767.9L379.2 766.3L381.7 764.6L384.2 762.9L386.7 761.3L389.2 759.6L391.7 757.9L394.2 756.2L396.6 754.5L399.1 752.7L401.6 751.0L404.0 749.2L406.5 747.4L408.9 745.6L411.3 743.8L413.8 742.0L416.2 740.2L418.6 738.4L421.0 736.5L423.4 734.7L425.8 732.8L428.2 731.0L430.6 729.1L433.0 727.2L435.4 725.4L437.8 723.5L440.1 721.6L442.5 719.7L444.9 717.9L447.3 716.0L449.7 714.1L452.1 712.2L454.4 710.3L456.8 708.5L459.2 706.6L461.6 704.7L464.0 702.9L466.4 701.0L468.8 699.2L471.2 697.4L473.6 695.5L476.0 693.7L478.4 691.9L480.8 690.1L483.2 688.3L485.7 686.6L488.1 684.8L490.6 683.1L493.0 681.3L495.5 679.6L497.9 677.9L500.4 676.3L502.9 674.6L505.4 673.0L507.9 671.3L510.4 669.8L512.9 668.2L515.5 666.6L518.0 665.1L520.6 663.6L523.1 662.1L525.7 660.6L528.3 659.1L530.9 657.7L533.5 656.3L536.1 654.9L538.8 653.5L541.4 652.2L544.1 650.8L546.7 649.5L549.4 648.2L552.1 646.9L554.8 645.7L557.5 644.4L560.2 643.2L563.0 642.0L565.7 640.8L568.5 639.6L571.3 638.4L574.1 637.3L576.9 636.2L579.7 635.1L582.5 634.0L585.3 632.9L588.2 631.8L591.1 630.8L593.9 629.7L596.8 628.7L599.7 627.7L602.6 626.8L605.6 625.8L608.5 624.8L611.5 623.9L614.4 623.0L617.4 622.1L620.4 621.2L623.4 620.3L626.5 619.4L629.5 618.6L632.6 617.7L635.6 616.9L638.7 616.2L641.8 615.4L644.8 614.7L647.9 614.1L651.0 613.5L654.1 612.9L657.1 612.5L660.2 612.1L663.2 611.7L666.3 611.5L669.3 611.3L672.3 611.2L675.3 611.2L678.3 611.3L681.2 611.5L684.1 611.9L687.0 612.3L689.9 612.8L692.7 613.5L695.6 614.2L698.3 615.0L701.1 616.0L703.8 617.0L706.5 618.1L709.2 619.3L711.8 620.6L714.4 622.0L716.9 623.4L719.4 625.0L721.9 626.6L724.3 628.3L726.7 630.0L729.0 631.8L731.3 633.7L733.6 635.7L735.8 637.7L737.9 639.8L740.0 642.0L742.1 644.2L744.1 646.4L746.1 648.7L748.0 651.1L749.8 653.5L751.6 656.0L753.3 658.5L755.0 661.0L756.6 663.6L758.2 666.2L759.7 668.8L761.1 671.5L762.5 674.2L763.8 676.9L765.1 679.7L766.3 682.5L767.4 685.3L768.5 688.1L769.6 690.9L770.6 693.8L771.6 696.7L772.6 699.6L773.5 702.5L774.3 705.4L775.2 708.4L776.0 711.3L776.8 714.3L777.6 717.2L778.4 720.2L779.1 723.2L779.8 726.2L780.6 729.1L781.3 732.1L782.0 735.1L782.7 738.1L783.4 741.1L784.1 744.0L784.8 747.0L785.5 749.9L786.3 752.9L787.0 755.8L787.8 758.7L788.5 761.6L789.3 764.6L790.1 767.4L790.9 770.3L791.6 773.2L792.4 776.1L793.2 779.0L794.0 781.8L794.7 784.7L795.5 787.6L796.2 790.5L796.9 793.3L797.6 796.2L798.3 799.1L799.0 802.0L799.6 804.9L800.2 807.8L800.8 810.7L801.3 813.7L801.9 816.6L802.3 819.6L802.8 822.6L803.2 825.5L803.5 828.6L803.8 831.6L804.1 834.6L804.3 837.7L804.4 840.8L804.5 843.9L804.5 847.1L804.5 850.2" fill="none" stroke="#f5a623" stroke-width="4.3" stroke-dasharray="4.3 7.1" stroke-linejoin="round"/>
<path d="M410.1 834.1L412.7 832.6L415.2 831.2L417.8 829.7L420.4 828.2L422.9 826.6L425.4 825.0L427.9 823.4L430.4 821.7L432.9 820.0L435.4 818.3L437.8 816.5L440.3 814.8L442.7 813.0L445.1 811.1L447.5 809.3L450.0 807.4L452.4 805.5L454.7 803.6L457.1 801.7L459.5 799.8L461.9 797.8L464.2 795.9L466.6 793.9L468.9 791.9L471.3 789.9L473.6 787.9L475.9 785.9L478.3 783.9L480.6 781.9L482.9 779.9L485.2 777.8L487.5 775.8L489.8 773.8L492.2 771.8L494.5 769.8L496.8 767.8L499.1 765.8L501.4 763.8L503.7 761.8L506.0 759.8L508.4 757.8L510.7 755.9L513.0 754.0L515.3 752.0L517.7 750.1L520.0 748.2L522.3 746.4L524.7 744.5L527.0 742.6L529.4 740.8L531.7 739.0L534.1 737.2L536.5 735.4L538.8 733.6L541.2 731.8L543.6 730.0L546.0 728.3L548.4 726.5L550.8 724.8L553.2 723.1L555.6 721.4L558.1 719.7L560.5 718.0L562.9 716.3L565.4 714.7L567.8 713.0L570.3 711.4L572.8 709.8L575.3 708.2L577.8 706.6L580.3 705.0L582.8 703.4L585.3 701.8L587.9 700.3L590.4 698.7L593.0 697.2L595.5 695.7L598.1 694.1L600.7 692.6L603.3 691.1L605.9 689.7L608.6 688.2L611.2 686.7L613.9 685.3L616.6 683.8L619.2 682.4L621.9 680.9L624.7 679.5L627.4 678.1L630.1 676.7L632.9 675.3L635.7 673.9L638.4 672.6L641.2 671.2L644.1 669.8L646.9 668.5L649.8 667.1L652.6 665.8L655.5 664.5L658.4 663.2L661.3 661.9L664.2 660.6L667.2 659.4L670.1 658.2L673.1 657.0L676.0 655.8L679.0 654.7L682.0 653.6L684.9 652.6L687.9 651.6L690.9 650.7L693.8 649.8L696.8 648.9L699.8 648.1L702.7 647.4L705.7 646.8L708.6 646.2L711.5 645.7L714.5 645.2L717.4 644.8L720.3 644.5L723.1 644.3L726.0 644.2L728.9 644.2L731.7 644.2L734.5 644.4L737.3 644.6L740.1 644.9L742.8 645.4L745.5 646.0L748.2 646.6L750.9 647.4L753.5 648.3L756.1 649.3L758.7 650.4L761.2 651.7L763.7 653.1L766.2 654.6L768.7 656.2L771.1 657.9L773.4 659.7L775.7 661.6L778.0 663.6L780.2 665.6L782.4 667.8L784.6 670.0L786.7 672.3L788.7 674.7L790.7 677.1L792.7 679.6L794.6 682.2L796.4 684.7L798.2 687.4L799.9 690.0L801.6 692.7L803.2 695.4L804.8 698.2L806.3 700.9L807.7 703.7L809.1 706.5L810.4 709.3L811.7 712.1L813.0 714.9L814.1 717.8L815.3 720.7L816.4 723.5L817.5 726.4L818.6 729.3L819.6 732.2L820.6 735.1L821.5 738.0L822.5 740.9L823.4 743.8L824.3 746.7L825.2 749.6L826.1 752.5L827.0 755.4L827.9 758.3L828.7 761.2L829.6 764.1L830.5 767.0L831.4 769.9L832.2 772.8L833.1 775.6L834.0 778.5L834.9 781.3L835.9 784.2L836.8 787.0L837.7 789.8L838.7 792.7L839.6 795.5L840.6 798.3L841.6 801.1L842.5 803.9L843.5 806.8L844.4 809.6L845.4 812.4L846.4 815.2L847.3 818.1L848.3 820.9L849.3 823.8L850.2 826.6L851.2 829.5L852.1 832.3L853.1 835.2L854.0 838.1L854.9 841.0L855.8 844.0L856.7 846.9L857.6 849.9" fill="none" stroke="#f0280a" stroke-width="4.3" stroke-dasharray="4.3 7.1" stroke-linejoin="round"/>
<path d="M171.5 626.7L174.5 626.0L177.6 625.4L180.6 624.7L183.6 624.0L186.6 623.3L189.6 622.6L192.6 621.9L195.6 621.2L198.5 620.5L201.5 619.7L204.5 619.0L207.4 618.3L210.4 617.5L213.3 616.8L216.3 616.0L219.2 615.3L222.2 614.5L225.1 613.7L228.0 612.9L230.9 612.2L233.9 611.4L236.8 610.6L239.7 609.8L242.6 609.0L245.5 608.2L248.4 607.4L251.3 606.6L254.2 605.8L257.0 605.0L259.9 604.2L262.8 603.4L265.7 602.6L268.6 601.8L271.4 600.9L274.3 600.1L277.2 599.3L280.1 598.5L282.9 597.7L285.8 596.8L288.7 596.0L291.5 595.2L294.4 594.4L297.3 593.5L300.1 592.7L303.0 591.9L305.8 591.1L308.7 590.2L311.6 589.4L314.4 588.6L317.3 587.8L320.2 587.0L323.0 586.2L325.9 585.3L328.8 584.5L331.6 583.7L334.5 582.9L337.4 582.1L340.2 581.3L343.1 580.5L346.0 579.7L348.9 578.9L351.8 578.1L354.6 577.3L357.5 576.5L360.4 575.8L363.3 575.0L366.2 574.2L369.1 573.4L372.0 572.7L374.9 571.9L377.8 571.2L380.8 570.4L383.7 569.7L386.6 569.0L389.5 568.2L392.5 567.5L395.4 566.8L398.3 566.1L401.3 565.4L404.3 564.7L407.2 564.0L410.2 563.3L413.2 562.6L416.1 561.9L419.1 561.3L422.1 560.6L425.1 560.0L428.1 559.3L431.1 558.7L434.1 558.1L437.1 557.5L440.2 556.9L443.2 556.3L446.2 555.8L449.3 555.2L452.3 554.7L455.3 554.2L458.4 553.7L461.4 553.2L464.4 552.8L467.5 552.3L470.5 551.9L473.6 551.5L476.6 551.1L479.6 550.8L482.7 550.5L485.7 550.2L488.8 549.9L491.8 549.7L494.8 549.4L497.9 549.2L500.9 549.1L503.9 548.9L506.9 548.8L509.9 548.8L512.9 548.7L516.0 548.7L518.9 548.8L521.9 548.8L524.9 548.9L527.9 549.0L530.9 549.2L533.8 549.4L536.8 549.7L539.8 549.9L542.7 550.3L545.6 550.6L548.6 551.0L551.5 551.5L554.4 552.0L557.3 552.5L560.2 553.1L563.0 553.7L565.9 554.4L568.7 555.1L571.6 555.9L574.4 556.7L577.2 557.6L580.0 558.5L582.8 559.5L585.6 560.5L588.3 561.6L591.1 562.7L593.8 563.9L596.5 565.1L599.2 566.4L601.9 567.8L604.6 569.2L607.2 570.6L609.9 572.1L612.5 573.7L615.1 575.3L617.7 576.9L620.3 578.6L622.9 580.3L625.4 582.0L628.0 583.7L630.5 585.5L633.0 587.3L635.6 589.1L638.1 591.0L640.6 592.8L643.0 594.7L645.5 596.5L648.0 598.4L650.4 600.3L652.9 602.1L655.3 604.0L657.8 605.9L660.2 607.7L662.7 609.5L665.1 611.3L667.5 613.1L669.9 614.9L672.3 616.7L674.7 618.4L677.1 620.1L679.5 621.7L682.0 623.3L684.4 624.8L686.9 626.3L689.4 627.7L692.0 629.0L694.6 630.2L697.2 631.3L700.0 632.3L702.8 633.2L705.6 633.9L708.5 634.6L711.5 635.2L714.5 635.7L717.5 636.2L720.5 636.7L723.5 637.2L726.6 637.7L729.6 638.3L732.6 638.9L735.5 639.6L738.4 640.4L741.3 641.3L744.1 642.3L746.9 643.4L749.7 644.5L752.4 645.8L755.0 647.1L757.6 648.5L760.2 650.0L762.7 651.5L765.1 653.1L767.6 654.8L769.9 656.5L772.2 658.3L774.5 660.2L776.7 662.1L778.9 664.1L781.0 666.1L783.1 668.1L785.1 670.2L787.1 672.4L789.0 674.6L790.9 676.8L792.7 679.1L794.5 681.4L796.3 683.8L798.0 686.2L799.7 688.6L801.3 691.1L802.9 693.6L804.4 696.1L805.9 698.7L807.4 701.3L808.9 703.9L810.3 706.6L811.7 709.3L813.0 712.0L814.3 714.7L815.6 717.5L816.9 720.2L818.1 723.0L819.3 725.9L820.5 728.7L821.6 731.6L822.8 734.4L823.9 737.3L825.0 740.2L826.0 743.1L827.1 746.1L828.1 749.0L829.1 751.9L830.1 754.9L831.1 757.9L832.1 760.8L833.0 763.8L834.0 766.8L834.9 769.8L835.8 772.7L836.7 775.7L837.6 778.7L838.5 781.7L839.4 784.6L840.3 787.6L841.2 790.6L842.0 793.5L842.9 796.5L843.8 799.4L844.6 802.3L845.5 805.2L846.4 808.1L847.3 811.0L848.1 813.9L849.0 816.7L849.9 819.6L850.8 822.4L851.7 825.2L852.6 827.9L853.5 830.7L854.5 833.4L855.4 836.1L856.4 838.8L857.4 841.4L858.3 844.0L859.3 846.6L860.4 849.2" fill="none" stroke="#f0280a" stroke-width="4.8" stroke-linejoin="round"/>
<path d="M171.9 575.9L174.9 575.5L177.9 575.1L180.9 574.7L183.9 574.3L186.9 573.8L189.9 573.4L192.9 572.8L195.8 572.3L198.8 571.8L201.8 571.2L204.7 570.6L207.7 570.0L210.7 569.4L213.6 568.7L216.6 568.1L219.5 567.4L222.4 566.7L225.4 566.0L228.3 565.3L231.2 564.6L234.1 563.8L237.1 563.1L240.0 562.3L242.9 561.5L245.8 560.7L248.7 559.9L251.6 559.1L254.5 558.3L257.4 557.4L260.3 556.6L263.2 555.8L266.1 554.9L269.0 554.0L271.9 553.2L274.8 552.3L277.7 551.4L280.6 550.6L283.5 549.7L286.4 548.8L289.3 547.9L292.2 547.1L295.1 546.2L298.0 545.3L300.9 544.4L303.8 543.5L306.7 542.7L309.6 541.8L312.5 540.9L315.4 540.1L318.3 539.2L321.2 538.3L324.1 537.5L327.0 536.6L329.9 535.8L332.8 535.0L335.7 534.2L338.7 533.4L341.6 532.6L344.5 531.8L347.4 531.0L350.4 530.2L353.3 529.5L356.2 528.7L359.2 528.0L362.1 527.3L365.1 526.6L368.0 525.9L371.0 525.2L373.9 524.6L376.9 524.0L379.9 523.3L382.8 522.7L385.8 522.2L388.8 521.6L391.8 521.1L394.8 520.5L397.8 520.0L400.8 519.5L403.8 519.1L406.8 518.6L409.8 518.2L412.8 517.7L415.8 517.3L418.8 517.0L421.8 516.6L424.8 516.3L427.8 515.9L430.8 515.6L433.8 515.4L436.9 515.1L439.9 514.9L442.9 514.6L445.9 514.4L448.9 514.3L451.9 514.1L455.0 514.0L458.0 513.9L461.0 513.8L464.0 513.7L467.0 513.7L470.0 513.6L473.0 513.6L476.1 513.6L479.1 513.7L482.1 513.7L485.1 513.8L488.1 513.9L491.1 514.1L494.1 514.2L497.1 514.4L500.1 514.6L503.0 514.8L506.0 515.1L509.0 515.4L512.0 515.7L515.0 516.0L517.9 516.4L520.9 516.7L523.9 517.1L526.8 517.6L529.8 518.0L532.7 518.5L535.6 519.0L538.6 519.5L541.5 520.1L544.4 520.7L547.4 521.3L550.3 521.9L553.2 522.6L556.1 523.2L559.0 524.0L561.9 524.7L564.7 525.5L567.6 526.3L570.5 527.1L573.3 528.0L576.2 528.8L579.0 529.7L581.9 530.7L584.7 531.7L587.5 532.7L590.3 533.7L593.1 534.7L595.9 535.8L598.7 536.9L601.5 538.1L604.2 539.3L607.0 540.5L609.7 541.7L612.5 543.0L615.2 544.2L617.9 545.6L620.6 546.9L623.3 548.3L626.0 549.7L628.7 551.2L631.3 552.7L634.0 554.2L636.6 555.7L639.2 557.3L641.8 558.9L644.5 560.5L647.0 562.2L649.6 563.9L652.2 565.6L654.7 567.4L657.3 569.1L659.8 570.9L662.3 572.7L664.9 574.5L667.4 576.3L669.8 578.2L672.3 580.1L674.8 581.9L677.2 583.8L679.7 585.7L682.1 587.6L684.5 589.5L687.0 591.4L689.4 593.4L691.7 595.3L694.1 597.2L696.5 599.1L698.9 601.1L701.2 603.0L703.5 604.9L705.8 606.8L708.1 608.8L710.4 610.8L712.6 612.7L714.8 614.7L717.0 616.7L719.2 618.8L721.3 620.8L723.4 622.9L725.4 625.0L727.4 627.2L729.4 629.3L731.3 631.5L733.2 633.8L735.0 636.0L736.8 638.3L738.6 640.6L740.4 643.0L742.1 645.4L743.7 647.8L745.4 650.2L746.9 652.7L748.5 655.2L750.0 657.7L751.5 660.2L752.9 662.8L754.4 665.4L755.7 668.1L757.1 670.8L758.4 673.5L759.7 676.2L760.9 678.9L762.2 681.7L763.4 684.4L764.6 687.2L765.8 690.0L767.0 692.8L768.1 695.6L769.3 698.4L770.5 701.2L771.6 704.0L772.7 706.9L773.9 709.7L775.0 712.5L776.1 715.4L777.2 718.2L778.3 721.0L779.4 723.9L780.5 726.7L781.6 729.6L782.6 732.4L783.7 735.3L784.8 738.1L785.8 741.0L786.9 743.9L787.9 746.7L788.9 749.6L790.0 752.4L791.0 755.3L792.0 758.2L793.0 761.0L794.0 763.9L795.0 766.8L796.0 769.7L797.0 772.5L798.0 775.4L799.0 778.3L799.9 781.2L800.9 784.0L801.9 786.9L802.8 789.8L803.8 792.7L804.8 795.5L805.7 798.4L806.6 801.3L807.6 804.1L808.5 807.0L809.4 809.9L810.4 812.7L811.3 815.6L812.2 818.5L813.1 821.3L814.0 824.2L814.9 827.0L815.9 829.9L816.8 832.7L817.7 835.6L818.6 838.4L819.4 841.3L820.3 844.1L821.2 847.0L822.1 849.8" fill="none" stroke="#f5a623" stroke-width="4.8" stroke-linejoin="round"/>
<path d="M171.7 563.9L174.8 563.7L177.8 563.5L180.9 563.2L183.9 562.8L186.9 562.5L190.0 562.1L193.0 561.7L196.0 561.3L199.0 560.8L202.0 560.4L204.9 559.8L207.9 559.3L210.9 558.8L213.8 558.2L216.8 557.6L219.8 557.0L222.7 556.3L225.6 555.7L228.6 555.0L231.5 554.3L234.4 553.6L237.4 552.9L240.3 552.1L243.2 551.4L246.1 550.6L249.0 549.8L251.9 549.0L254.8 548.2L257.7 547.4L260.6 546.6L263.5 545.8L266.4 544.9L269.3 544.0L272.1 543.2L275.0 542.3L277.9 541.4L280.8 540.6L283.7 539.7L286.5 538.8L289.4 537.9L292.3 537.0L295.2 536.1L298.1 535.2L300.9 534.3L303.8 533.4L306.7 532.5L309.6 531.6L312.5 530.7L315.3 529.8L318.2 528.9L321.1 528.1L324.0 527.2L326.9 526.3L329.8 525.5L332.7 524.6L335.6 523.8L338.5 522.9L341.4 522.1L344.3 521.3L347.2 520.5L350.1 519.7L353.0 518.9L355.9 518.2L358.9 517.4L361.8 516.7L364.7 516.0L367.7 515.3L370.6 514.6L373.6 513.9L376.5 513.3L379.5 512.6L382.5 512.0L385.5 511.4L388.4 510.9L391.4 510.3L394.4 509.8L397.4 509.3L400.4 508.8L403.4 508.3L406.4 507.9L409.4 507.4L412.4 507.0L415.4 506.6L418.4 506.3L421.4 505.9L424.4 505.6L427.5 505.3L430.5 505.0L433.5 504.7L436.5 504.5L439.5 504.3L442.6 504.1L445.6 503.9L448.6 503.8L451.6 503.7L454.6 503.5L457.7 503.5L460.7 503.4L463.7 503.4L466.7 503.4L469.7 503.4L472.7 503.4L475.8 503.5L478.8 503.6L481.8 503.7L484.8 503.8L487.8 504.0L490.8 504.2L493.7 504.4L496.7 504.7L499.7 504.9L502.7 505.2L505.7 505.6L508.6 505.9L511.6 506.3L514.6 506.7L517.5 507.1L520.5 507.6L523.4 508.0L526.4 508.6L529.3 509.1L532.2 509.7L535.1 510.3L538.0 510.9L540.9 511.5L543.8 512.2L546.7 512.9L549.6 513.7L552.5 514.4L555.3 515.2L558.2 516.1L561.0 516.9L563.9 517.8L566.7 518.7L569.5 519.7L572.3 520.6L575.1 521.6L577.9 522.7L580.7 523.8L583.4 524.9L586.2 526.0L588.9 527.2L591.7 528.4L594.4 529.6L597.1 530.8L599.8 532.1L602.5 533.5L605.2 534.8L607.8 536.2L610.5 537.6L613.1 539.1L615.7 540.6L618.3 542.1L620.9 543.7L623.5 545.3L626.0 546.9L628.6 548.6L631.1 550.3L633.6 552.0L636.1 553.8L638.6 555.6L641.1 557.4L643.6 559.3L646.0 561.2L648.4 563.1L650.8 565.0L653.2 567.0L655.6 568.9L658.0 570.9L660.4 573.0L662.8 575.0L665.1 577.0L667.5 579.0L669.8 581.1L672.1 583.1L674.5 585.2L676.8 587.2L679.1 589.2L681.4 591.3L683.7 593.3L686.0 595.3L688.3 597.3L690.6 599.3L692.9 601.2L695.2 603.2L697.5 605.1L699.8 607.1L702.0 609.0L704.3 610.9L706.5 612.9L708.6 614.9L710.8 616.9L712.9 618.9L714.9 621.0L716.9 623.1L718.9 625.3L720.8 627.5L722.7 629.7L724.5 632.0L726.2 634.4L727.9 636.8L729.6 639.2L731.2 641.7L732.8 644.2L734.3 646.8L735.8 649.3L737.2 652.0L738.6 654.6L740.0 657.3L741.4 659.9L742.7 662.6L744.1 665.3L745.4 668.1L746.7 670.8L748.0 673.5L749.2 676.2L750.5 679.0L751.7 681.7L753.0 684.5L754.2 687.3L755.4 690.0L756.6 692.8L757.8 695.6L758.9 698.4L760.1 701.2L761.2 704.0L762.4 706.8L763.5 709.6L764.6 712.5L765.7 715.3L766.8 718.1L767.9 721.0L768.9 723.8L770.0 726.6L771.0 729.5L772.1 732.3L773.1 735.2L774.1 738.1L775.2 740.9L776.2 743.8L777.2 746.6L778.2 749.5L779.1 752.4L780.1 755.3L781.1 758.1L782.0 761.0L783.0 763.9L783.9 766.8L784.9 769.7L785.8 772.5L786.8 775.4L787.7 778.3L788.6 781.2L789.5 784.1L790.4 787.0L791.3 789.8L792.2 792.7L793.1 795.6L794.0 798.5L794.9 801.4L795.8 804.3L796.7 807.1L797.5 810.0L798.4 812.9L799.3 815.7L800.2 818.6L801.0 821.5L801.9 824.3L802.8 827.2L803.6 830.1L804.5 832.9L805.4 835.8L806.2 838.6L807.1 841.4L808.0 844.3L808.8 847.1L809.7 849.9" fill="none" stroke="#18c418" stroke-width="4.8" stroke-linejoin="round"/>
<path d="M172.0 557.2L175.0 556.9L178.0 556.5L181.0 556.2L184.0 555.8L187.0 555.4L190.0 554.9L192.9 554.5L195.9 554.0L198.9 553.5L201.8 552.9L204.8 552.4L207.7 551.8L210.7 551.3L213.6 550.7L216.6 550.0L219.5 549.4L222.5 548.8L225.4 548.1L228.3 547.4L231.3 546.7L234.2 546.0L237.1 545.3L240.0 544.6L243.0 543.8L245.9 543.1L248.8 542.3L251.7 541.5L254.6 540.8L257.5 540.0L260.4 539.2L263.3 538.3L266.2 537.5L269.1 536.7L272.0 535.9L274.9 535.0L277.8 534.2L280.7 533.4L283.6 532.5L286.5 531.7L289.4 530.8L292.3 530.0L295.2 529.1L298.1 528.2L301.0 527.4L303.9 526.5L306.8 525.7L309.7 524.8L312.6 524.0L315.5 523.1L318.4 522.3L321.3 521.4L324.2 520.6L327.1 519.8L330.0 519.0L332.9 518.1L335.8 517.3L338.7 516.5L341.6 515.7L344.5 514.9L347.4 514.2L350.3 513.4L353.3 512.6L356.2 511.9L359.1 511.2L362.0 510.4L364.9 509.7L367.9 509.0L370.8 508.3L373.7 507.7L376.7 507.0L379.6 506.4L382.6 505.8L385.5 505.1L388.5 504.6L391.4 504.0L394.4 503.4L397.3 502.9L400.3 502.4L403.2 501.9L406.2 501.4L409.1 500.9L412.1 500.5L415.1 500.1L418.0 499.7L421.0 499.3L424.0 498.9L426.9 498.6L429.9 498.3L432.9 498.0L435.9 497.7L438.9 497.5L441.8 497.3L444.8 497.1L447.8 497.0L450.8 496.8L453.8 496.7L456.8 496.7L459.8 496.6L462.7 496.6L465.7 496.6L468.7 496.6L471.7 496.7L474.7 496.8L477.7 496.9L480.7 497.1L483.7 497.3L486.7 497.5L489.7 497.8L492.7 498.1L495.7 498.4L498.7 498.7L501.7 499.1L504.7 499.5L507.7 500.0L510.7 500.5L513.7 501.0L516.7 501.5L519.7 502.1L522.7 502.7L525.6 503.3L528.6 504.0L531.6 504.6L534.5 505.4L537.5 506.1L540.4 506.9L543.4 507.7L546.3 508.5L549.2 509.4L552.1 510.3L555.0 511.2L557.9 512.1L560.8 513.1L563.7 514.1L566.5 515.2L569.4 516.2L572.2 517.3L575.1 518.4L577.9 519.6L580.7 520.8L583.5 522.0L586.3 523.2L589.0 524.4L591.8 525.7L594.5 527.0L597.2 528.4L599.9 529.7L602.6 531.1L605.3 532.5L608.0 534.0L610.6 535.4L613.2 536.9L615.8 538.5L618.4 540.0L621.0 541.6L623.5 543.2L626.1 544.8L628.6 546.4L631.1 548.1L633.6 549.8L636.0 551.5L638.5 553.3L640.9 555.0L643.3 556.8L645.7 558.7L648.0 560.5L650.4 562.4L652.7 564.3L655.0 566.2L657.2 568.1L659.5 570.1L661.7 572.1L663.9 574.1L666.1 576.1L668.3 578.2L670.4 580.3L672.5 582.4L674.6 584.5L676.7 586.7L678.7 588.8L680.7 591.0L682.7 593.2L684.7 595.5L686.6 597.7L688.5 600.0L690.4 602.3L692.3 604.7L694.1 607.0L695.9 609.4L697.7 611.8L699.5 614.2L701.2 616.6L703.0 619.0L704.7 621.5L706.4 624.0L708.0 626.5L709.7 629.0L711.3 631.5L712.9 634.0L714.5 636.5L716.1 639.1L717.7 641.7L719.2 644.2L720.8 646.8L722.3 649.4L723.8 652.0L725.3 654.7L726.8 657.3L728.3 659.9L729.8 662.5L731.2 665.2L732.7 667.8L734.2 670.5L735.6 673.1L737.0 675.8L738.5 678.5L739.9 681.1L741.3 683.8L742.7 686.5L744.1 689.2L745.5 691.9L746.9 694.5L748.3 697.2L749.6 699.9L751.0 702.6L752.4 705.3L753.7 708.1L755.0 710.8L756.4 713.5L757.7 716.2L759.0 718.9L760.3 721.7L761.6 724.4L762.9 727.1L764.2 729.9L765.5 732.6L766.8 735.4L768.0 738.1L769.3 740.9L770.5 743.6L771.8 746.4L773.0 749.1L774.2 751.9L775.4 754.6L776.7 757.4L777.9 760.2L779.1 763.0L780.2 765.7L781.4 768.5L782.6 771.3L783.7 774.1L784.9 776.9L786.0 779.6L787.2 782.4L788.3 785.2L789.4 788.0L790.6 790.8L791.7 793.6L792.8 796.4L793.9 799.2L794.9 802.0L796.0 804.8L797.1 807.6L798.1 810.4L799.2 813.2L800.2 816.0L801.3 818.8L802.3 821.6L803.3 824.4L804.3 827.3L805.3 830.1L806.3 832.9L807.3 835.7L808.3 838.5L809.2 841.3L810.2 844.1L811.2 847.0L812.1 849.8" fill="none" stroke="#22e890" stroke-width="4.8" stroke-linejoin="round"/>
<path d="M172.1 546.0L175.1 545.7L178.1 545.5L181.1 545.2L184.0 544.9L187.0 544.6L190.0 544.2L193.0 543.8L196.0 543.4L198.9 542.9L201.9 542.5L204.9 542.0L207.8 541.5L210.8 540.9L213.7 540.4L216.7 539.8L219.6 539.2L222.6 538.6L225.5 538.0L228.5 537.3L231.4 536.7L234.3 536.0L237.3 535.3L240.2 534.6L243.1 533.8L246.0 533.1L249.0 532.3L251.9 531.6L254.8 530.8L257.7 530.0L260.6 529.2L263.5 528.4L266.5 527.6L269.4 526.8L272.3 525.9L275.2 525.1L278.1 524.2L281.0 523.4L283.9 522.5L286.8 521.7L289.7 520.8L292.6 519.9L295.5 519.1L298.4 518.2L301.3 517.3L304.2 516.5L307.1 515.6L310.0 514.7L312.9 513.9L315.8 513.0L318.7 512.1L321.7 511.3L324.6 510.4L327.5 509.6L330.4 508.7L333.3 507.9L336.2 507.1L339.1 506.3L342.0 505.5L344.9 504.7L347.9 503.9L350.8 503.1L353.7 502.4L356.6 501.6L359.5 500.9L362.5 500.2L365.4 499.5L368.3 498.8L371.3 498.1L374.2 497.4L377.1 496.8L380.1 496.2L383.0 495.6L385.9 495.0L388.9 494.4L391.8 493.9L394.8 493.3L397.7 492.8L400.7 492.4L403.7 491.9L406.6 491.4L409.6 491.0L412.5 490.6L415.5 490.3L418.5 489.9L421.4 489.6L424.4 489.3L427.4 489.0L430.3 488.8L433.3 488.6L436.3 488.4L439.3 488.2L442.2 488.1L445.2 488.0L448.2 487.9L451.2 487.9L454.1 487.8L457.1 487.9L460.1 487.9L463.1 488.0L466.1 488.1L469.0 488.2L472.0 488.4L475.0 488.6L478.0 488.8L481.0 489.1L483.9 489.4L486.9 489.8L489.9 490.2L492.9 490.6L495.9 491.0L498.9 491.5L501.8 492.0L504.8 492.5L507.8 493.1L510.8 493.7L513.7 494.3L516.7 495.0L519.7 495.7L522.6 496.4L525.6 497.2L528.5 497.9L531.5 498.7L534.4 499.6L537.4 500.4L540.3 501.3L543.3 502.2L546.2 503.1L549.1 504.1L552.1 505.1L555.0 506.1L557.9 507.1L560.8 508.2L563.7 509.3L566.6 510.4L569.4 511.5L572.3 512.7L575.1 513.9L578.0 515.1L580.8 516.4L583.6 517.6L586.4 518.9L589.1 520.3L591.9 521.6L594.6 523.0L597.3 524.5L600.0 525.9L602.7 527.4L605.3 528.9L607.9 530.4L610.5 532.0L613.1 533.6L615.6 535.2L618.2 536.9L620.7 538.6L623.1 540.3L625.6 542.1L628.0 543.8L630.3 545.7L632.7 547.5L635.0 549.4L637.3 551.3L639.5 553.2L641.7 555.2L643.9 557.2L646.1 559.2L648.2 561.3L650.3 563.4L652.3 565.5L654.4 567.7L656.4 569.8L658.3 572.0L660.3 574.2L662.2 576.5L664.1 578.8L666.0 581.1L667.8 583.4L669.6 585.7L671.4 588.1L673.2 590.5L675.0 592.9L676.7 595.3L678.4 597.7L680.1 600.2L681.8 602.7L683.4 605.1L685.1 607.7L686.7 610.2L688.3 612.7L689.9 615.3L691.5 617.8L693.0 620.4L694.6 623.0L696.1 625.6L697.6 628.2L699.1 630.9L700.6 633.5L702.1 636.1L703.6 638.8L705.1 641.5L706.5 644.1L708.0 646.8L709.4 649.5L710.9 652.2L712.3 654.8L713.7 657.5L715.1 660.2L716.5 662.9L718.0 665.6L719.4 668.3L720.8 671.0L722.2 673.8L723.6 676.5L725.0 679.2L726.4 681.9L727.8 684.6L729.2 687.3L730.6 689.9L732.0 692.6L733.5 695.3L734.9 698.0L736.3 700.7L737.8 703.3L739.2 706.0L740.6 708.6L742.1 711.3L743.5 713.9L745.0 716.6L746.4 719.2L747.9 721.8L749.4 724.5L750.8 727.1L752.3 729.7L753.8 732.3L755.2 734.9L756.7 737.5L758.2 740.1L759.7 742.7L761.2 745.3L762.7 747.9L764.1 750.5L765.6 753.1L767.1 755.7L768.6 758.3L770.1 760.9L771.6 763.5L773.1 766.1L774.6 768.7L776.1 771.3L777.7 773.8L779.2 776.4L780.7 779.0L782.2 781.6L783.7 784.2L785.2 786.8L786.7 789.3L788.2 791.9L789.7 794.5L791.3 797.1L792.8 799.7L794.3 802.3L795.8 804.9L797.3 807.5L798.8 810.1L800.4 812.7L801.9 815.3L803.4 817.9L804.9 820.5L806.4 823.1L807.9 825.7L809.4 828.3L811.0 830.9L812.5 833.5L814.0 836.1L815.5 838.8L817.0 841.4L818.5 844.0L820.0 846.7L821.5 849.3" fill="none" stroke="#1ee6ee" stroke-width="4.8" stroke-linejoin="round"/>
<path d="M172.1 534.5L175.1 534.3L178.1 534.0L181.1 533.7L184.1 533.4L187.1 533.1L190.0 532.7L193.0 532.4L196.0 531.9L199.0 531.5L201.9 531.1L204.9 530.6L207.8 530.1L210.8 529.5L213.7 529.0L216.7 528.4L219.6 527.8L222.5 527.2L225.5 526.6L228.4 526.0L231.3 525.3L234.2 524.7L237.1 524.0L240.0 523.3L243.0 522.5L245.9 521.8L248.8 521.1L251.7 520.3L254.6 519.6L257.5 518.8L260.4 518.0L263.3 517.2L266.1 516.4L269.0 515.6L271.9 514.8L274.8 513.9L277.7 513.1L280.6 512.3L283.5 511.4L286.4 510.6L289.3 509.7L292.1 508.9L295.0 508.1L297.9 507.2L300.8 506.4L303.7 505.5L306.6 504.7L309.5 503.8L312.4 503.0L315.3 502.1L318.2 501.3L321.0 500.5L323.9 499.6L326.8 498.8L329.7 498.0L332.6 497.2L335.6 496.4L338.5 495.6L341.4 494.8L344.3 494.1L347.2 493.3L350.1 492.6L353.0 491.8L356.0 491.1L358.9 490.4L361.8 489.7L364.8 489.0L367.7 488.4L370.6 487.7L373.6 487.1L376.5 486.5L379.5 485.9L382.5 485.3L385.4 484.8L388.4 484.2L391.4 483.7L394.3 483.2L397.3 482.8L400.3 482.3L403.3 481.9L406.3 481.5L409.2 481.1L412.2 480.8L415.2 480.5L418.2 480.2L421.2 479.9L424.2 479.7L427.2 479.5L430.2 479.3L433.2 479.2L436.2 479.1L439.1 479.0L442.1 478.9L445.1 478.9L448.1 478.9L451.1 479.0L454.1 479.0L457.1 479.2L460.1 479.3L463.0 479.5L466.0 479.7L469.0 480.0L472.0 480.3L474.9 480.6L477.9 481.0L480.9 481.4L483.8 481.9L486.8 482.4L489.7 483.0L492.7 483.5L495.6 484.1L498.6 484.8L501.5 485.5L504.4 486.2L507.3 486.9L510.3 487.7L513.2 488.5L516.1 489.4L519.0 490.3L521.9 491.1L524.8 492.1L527.6 493.0L530.5 494.0L533.4 495.0L536.2 496.0L539.1 497.0L541.9 498.1L544.8 499.2L547.6 500.3L550.4 501.4L553.2 502.5L556.0 503.7L558.8 504.9L561.6 506.1L564.4 507.3L567.1 508.5L569.9 509.8L572.6 511.1L575.3 512.4L578.0 513.7L580.7 515.1L583.4 516.5L586.1 517.9L588.7 519.3L591.3 520.8L594.0 522.3L596.6 523.8L599.1 525.3L601.7 526.8L604.3 528.4L606.8 530.0L609.3 531.7L611.8 533.3L614.3 535.0L616.7 536.7L619.2 538.5L621.6 540.2L624.0 542.0L626.3 543.8L628.7 545.7L631.0 547.6L633.3 549.5L635.6 551.4L637.8 553.4L640.1 555.4L642.3 557.4L644.5 559.5L646.6 561.5L648.8 563.6L650.9 565.8L653.0 567.9L655.0 570.1L657.1 572.3L659.1 574.6L661.1 576.8L663.0 579.1L665.0 581.4L666.9 583.7L668.8 586.1L670.7 588.5L672.5 590.9L674.3 593.3L676.1 595.7L677.9 598.1L679.6 600.6L681.4 603.1L683.1 605.6L684.7 608.1L686.4 610.7L688.0 613.2L689.6 615.8L691.2 618.4L692.8 621.0L694.3 623.6L695.8 626.2L697.3 628.8L698.7 631.5L700.2 634.1L701.6 636.8L702.9 639.5L704.3 642.2L705.6 644.8L707.0 647.6L708.3 650.3L709.6 653.0L710.9 655.7L712.1 658.4L713.4 661.1L714.7 663.9L715.9 666.6L717.2 669.3L718.5 672.1L719.7 674.8L721.0 677.5L722.2 680.2L723.5 682.9L724.8 685.7L726.1 688.4L727.4 691.1L728.7 693.8L730.1 696.4L731.4 699.1L732.8 701.8L734.2 704.4L735.6 707.1L737.0 709.7L738.5 712.3L739.9 714.9L741.4 717.5L742.9 720.1L744.4 722.7L746.0 725.3L747.5 727.9L749.0 730.5L750.6 733.0L752.2 735.6L753.8 738.2L755.3 740.7L757.0 743.3L758.6 745.8L760.2 748.3L761.8 750.9L763.4 753.4L765.1 755.9L766.7 758.4L768.4 760.9L770.0 763.5L771.7 766.0L773.4 768.5L775.0 771.0L776.7 773.5L778.4 776.0L780.1 778.5L781.7 781.0L783.4 783.5L785.1 786.0L786.8 788.5L788.4 791.0L790.1 793.5L791.8 796.0L793.5 798.5L795.1 801.0L796.8 803.5L798.4 806.1L800.1 808.6L801.7 811.1L803.3 813.6L805.0 816.1L806.6 818.7L808.2 821.2L809.8 823.7L811.4 826.3L813.0 828.8L814.5 831.4L816.1 833.9L817.6 836.5L819.2 839.1L820.7 841.6L822.2 844.2L823.7 846.8L825.1 849.4" fill="none" stroke="#1eb0e8" stroke-width="4.8" stroke-linejoin="round"/>
<path d="M171.9 517.9L175.0 517.9L178.0 517.8L181.1 517.6L184.1 517.5L187.1 517.2L190.1 517.0L193.2 516.7L196.2 516.4L199.2 516.1L202.2 515.8L205.1 515.4L208.1 515.0L211.1 514.5L214.1 514.1L217.0 513.6L220.0 513.1L223.0 512.5L225.9 512.0L228.9 511.4L231.8 510.8L234.8 510.2L237.7 509.5L240.6 508.9L243.6 508.2L246.5 507.5L249.4 506.8L252.3 506.1L255.2 505.4L258.2 504.6L261.1 503.9L264.0 503.1L266.9 502.3L269.8 501.5L272.7 500.8L275.6 500.0L278.5 499.1L281.4 498.3L284.3 497.5L287.2 496.7L290.1 495.9L293.0 495.0L295.9 494.2L298.8 493.4L301.7 492.5L304.6 491.7L307.5 490.9L310.4 490.0L313.3 489.2L316.3 488.4L319.2 487.6L322.1 486.8L325.0 486.0L327.9 485.2L330.8 484.4L333.7 483.6L336.6 482.8L339.6 482.1L342.5 481.3L345.4 480.6L348.3 479.9L351.3 479.2L354.2 478.5L357.1 477.8L360.1 477.2L363.0 476.5L366.0 475.9L368.9 475.3L371.9 474.7L374.8 474.2L377.8 473.6L380.8 473.1L383.8 472.6L386.7 472.2L389.7 471.7L392.7 471.3L395.7 470.9L398.7 470.6L401.7 470.2L404.7 469.9L407.6 469.6L410.6 469.4L413.6 469.1L416.6 468.9L419.6 468.8L422.6 468.6L425.6 468.5L428.6 468.5L431.6 468.4L434.6 468.4L437.6 468.4L440.5 468.5L443.5 468.6L446.5 468.7L449.5 468.9L452.4 469.1L455.4 469.4L458.4 469.6L461.3 470.0L464.3 470.3L467.2 470.7L470.1 471.2L473.1 471.7L476.0 472.2L478.9 472.8L481.8 473.4L484.7 474.0L487.6 474.7L490.5 475.4L493.4 476.2L496.3 477.0L499.1 477.9L502.0 478.7L504.9 479.6L507.7 480.6L510.6 481.6L513.4 482.5L516.3 483.6L519.1 484.6L521.9 485.7L524.8 486.8L527.6 487.9L530.4 489.1L533.2 490.2L536.1 491.4L538.9 492.6L541.7 493.8L544.5 495.0L547.3 496.3L550.1 497.5L552.9 498.8L555.7 500.1L558.5 501.4L561.2 502.7L564.0 504.1L566.8 505.4L569.5 506.8L572.3 508.2L575.0 509.6L577.7 511.0L580.4 512.5L583.1 514.0L585.7 515.5L588.4 517.0L591.0 518.5L593.7 520.1L596.3 521.7L598.8 523.3L601.4 524.9L603.9 526.6L606.4 528.3L608.9 530.0L611.4 531.7L613.9 533.5L616.3 535.2L618.7 537.0L621.0 538.9L623.4 540.7L625.7 542.6L628.0 544.6L630.2 546.5L632.5 548.5L634.6 550.5L636.8 552.5L638.9 554.6L641.0 556.7L643.1 558.8L645.1 561.0L647.1 563.2L649.1 565.4L651.0 567.6L652.9 569.9L654.8 572.2L656.6 574.5L658.5 576.8L660.3 579.2L662.1 581.5L663.8 583.9L665.5 586.4L667.3 588.8L668.9 591.3L670.6 593.7L672.3 596.2L673.9 598.7L675.5 601.3L677.1 603.8L678.7 606.4L680.3 608.9L681.8 611.5L683.3 614.1L684.9 616.7L686.4 619.3L687.9 621.9L689.4 624.6L690.8 627.2L692.3 629.9L693.8 632.5L695.2 635.2L696.6 637.9L698.1 640.5L699.5 643.2L700.9 645.9L702.4 648.6L703.8 651.3L705.2 654.0L706.6 656.7L708.0 659.3L709.4 662.0L710.9 664.7L712.3 667.4L713.7 670.1L715.1 672.8L716.5 675.4L718.0 678.1L719.4 680.8L720.9 683.4L722.3 686.1L723.8 688.7L725.2 691.4L726.7 694.0L728.1 696.6L729.6 699.3L731.1 701.9L732.6 704.5L734.1 707.1L735.6 709.7L737.1 712.3L738.6 714.9L740.2 717.5L741.7 720.0L743.2 722.6L744.8 725.2L746.3 727.7L747.9 730.3L749.5 732.9L751.1 735.4L752.7 737.9L754.3 740.5L755.9 743.0L757.5 745.5L759.1 748.0L760.8 750.5L762.4 753.1L764.1 755.6L765.8 758.0L767.5 760.5L769.2 763.0L770.9 765.5L772.6 768.0L774.3 770.4L776.1 772.9L777.8 775.4L779.6 777.8L781.3 780.3L783.1 782.7L784.9 785.1L786.7 787.6L788.5 790.0L790.3 792.4L792.1 794.9L793.9 797.3L795.7 799.7L797.5 802.2L799.2 804.6L801.0 807.1L802.8 809.5L804.6 811.9L806.3 814.4L808.1 816.8L809.8 819.3L811.5 821.8L813.2 824.2L814.9 826.7L816.5 829.2L818.2 831.7L819.8 834.2L821.4 836.7L823.0 839.2L824.5 841.7L826.1 844.3L827.6 846.8L829.0 849.4" fill="none" stroke="#8a9ef0" stroke-width="4.8" stroke-linejoin="round"/>
<path d="M172.0 504.0L175.1 503.9L178.1 503.8L181.1 503.6L184.1 503.4L187.2 503.2L190.2 502.9L193.2 502.6L196.2 502.3L199.2 502.0L202.1 501.6L205.1 501.2L208.1 500.7L211.1 500.3L214.0 499.8L217.0 499.3L219.9 498.7L222.9 498.2L225.8 497.6L228.8 497.0L231.7 496.4L234.7 495.7L237.6 495.1L240.5 494.4L243.5 493.7L246.4 493.0L249.3 492.3L252.2 491.5L255.1 490.8L258.1 490.0L261.0 489.3L263.9 488.5L266.8 487.7L269.7 486.9L272.6 486.1L275.5 485.3L278.4 484.5L281.3 483.7L284.2 482.9L287.1 482.1L290.0 481.2L293.0 480.4L295.9 479.6L298.8 478.8L301.7 477.9L304.6 477.1L307.5 476.3L310.4 475.5L313.3 474.7L316.2 473.9L319.1 473.1L322.1 472.3L325.0 471.6L327.9 470.8L330.8 470.0L333.8 469.3L336.7 468.6L339.6 467.9L342.6 467.2L345.5 466.5L348.4 465.8L351.4 465.2L354.3 464.5L357.3 463.9L360.3 463.3L363.2 462.8L366.2 462.2L369.2 461.7L372.1 461.2L375.1 460.7L378.1 460.2L381.1 459.8L384.1 459.4L387.1 459.0L390.1 458.7L393.1 458.4L396.1 458.1L399.1 457.8L402.1 457.6L405.1 457.4L408.1 457.2L411.2 457.0L414.2 456.9L417.2 456.8L420.2 456.8L423.2 456.8L426.2 456.8L429.2 456.8L432.2 456.9L435.2 457.0L438.2 457.2L441.1 457.4L444.1 457.6L447.1 457.8L450.1 458.1L453.0 458.5L456.0 458.8L458.9 459.3L461.9 459.7L464.8 460.2L467.7 460.7L470.6 461.3L473.5 461.9L476.4 462.6L479.3 463.3L482.2 464.0L485.0 464.8L487.9 465.6L490.7 466.5L493.5 467.4L496.4 468.3L499.2 469.3L502.0 470.3L504.8 471.3L507.6 472.4L510.4 473.5L513.2 474.6L515.9 475.7L518.7 476.9L521.5 478.1L524.3 479.3L527.0 480.5L529.8 481.8L532.5 483.1L535.3 484.4L538.1 485.7L540.8 487.0L543.6 488.3L546.3 489.6L549.1 491.0L551.8 492.4L554.6 493.7L557.3 495.1L560.1 496.6L562.8 498.0L565.5 499.4L568.2 500.9L570.9 502.3L573.6 503.8L576.3 505.3L579.0 506.9L581.7 508.4L584.3 510.0L586.9 511.6L589.6 513.2L592.2 514.8L594.7 516.4L597.3 518.1L599.9 519.8L602.4 521.5L604.9 523.2L607.4 525.0L609.8 526.7L612.3 528.5L614.7 530.3L617.1 532.2L619.5 534.1L621.8 535.9L624.1 537.9L626.4 539.8L628.7 541.8L630.9 543.8L633.1 545.8L635.2 547.8L637.4 549.9L639.5 552.0L641.5 554.2L643.6 556.3L645.6 558.5L647.5 560.7L649.5 563.0L651.4 565.2L653.3 567.5L655.1 569.8L657.0 572.1L658.8 574.5L660.5 576.9L662.3 579.3L664.0 581.7L665.8 584.1L667.5 586.5L669.1 589.0L670.8 591.5L672.4 594.0L674.0 596.5L675.6 599.0L677.2 601.6L678.8 604.1L680.3 606.7L681.9 609.3L683.4 611.9L684.9 614.5L686.4 617.1L687.9 619.7L689.4 622.3L690.9 624.9L692.3 627.6L693.8 630.2L695.2 632.9L696.7 635.6L698.1 638.2L699.5 640.9L701.0 643.6L702.4 646.2L703.8 648.9L705.3 651.6L706.7 654.3L708.1 656.9L709.5 659.6L711.0 662.3L712.4 665.0L713.8 667.6L715.3 670.3L716.7 673.0L718.2 675.6L719.6 678.3L721.1 680.9L722.6 683.6L724.1 686.2L725.5 688.8L727.0 691.5L728.5 694.1L730.0 696.7L731.5 699.3L733.1 701.9L734.6 704.5L736.1 707.1L737.6 709.7L739.2 712.3L740.7 714.9L742.3 717.5L743.8 720.1L745.4 722.6L747.0 725.2L748.5 727.8L750.1 730.3L751.7 732.9L753.3 735.4L754.9 738.0L756.5 740.5L758.1 743.1L759.7 745.6L761.3 748.1L763.0 750.7L764.6 753.2L766.2 755.7L767.9 758.2L769.5 760.7L771.2 763.2L772.8 765.7L774.5 768.2L776.2 770.7L777.8 773.2L779.5 775.7L781.2 778.2L782.9 780.7L784.6 783.2L786.3 785.6L788.0 788.1L789.7 790.6L791.4 793.1L793.1 795.5L794.8 798.0L796.5 800.4L798.2 802.9L800.0 805.3L801.7 807.8L803.5 810.2L805.2 812.7L806.9 815.1L808.7 817.6L810.5 820.0L812.2 822.4L814.0 824.9L815.8 827.3L817.5 829.7L819.3 832.1L821.1 834.5L822.9 837.0L824.7 839.4L826.4 841.8L828.2 844.2L830.0 846.6L831.8 849.0" fill="none" stroke="#ee82ee" stroke-width="4.8" stroke-linejoin="round"/>
<path d="M172.1 510.0L175.1 510.0L178.1 509.9L181.2 509.8L184.2 509.7L187.2 509.5L190.2 509.3L193.2 509.1L196.2 508.8L199.1 508.5L202.1 508.2L205.1 507.8L208.1 507.4L211.1 507.0L214.0 506.5L217.0 506.0L219.9 505.5L222.9 505.0L225.9 504.4L228.8 503.9L231.7 503.3L234.7 502.6L237.6 502.0L240.6 501.3L243.5 500.7L246.4 500.0L249.4 499.2L252.3 498.5L255.2 497.8L258.2 497.0L261.1 496.3L264.0 495.5L266.9 494.7L269.8 493.9L272.8 493.1L275.7 492.3L278.6 491.4L281.5 490.6L284.4 489.8L287.3 489.0L290.3 488.1L293.2 487.3L296.1 486.4L299.0 485.6L301.9 484.8L304.8 483.9L307.8 483.1L310.7 482.3L313.6 481.4L316.5 480.6L319.4 479.8L322.3 479.0L325.3 478.2L328.2 477.5L331.1 476.7L334.0 475.9L337.0 475.2L339.9 474.5L342.8 473.7L345.8 473.0L348.7 472.4L351.6 471.7L354.6 471.0L357.5 470.4L360.5 469.8L363.4 469.2L366.4 468.7L369.3 468.1L372.3 467.6L375.3 467.1L378.2 466.7L381.2 466.3L384.2 465.8L387.2 465.5L390.1 465.1L393.1 464.8L396.1 464.5L399.1 464.2L402.1 464.0L405.0 463.8L408.0 463.6L411.0 463.4L414.0 463.3L417.0 463.2L420.0 463.1L423.0 463.1L426.0 463.1L428.9 463.1L431.9 463.2L434.9 463.3L437.9 463.4L440.9 463.5L443.9 463.7L446.8 463.9L449.8 464.2L452.8 464.5L455.7 464.8L458.7 465.1L461.7 465.5L464.6 465.9L467.6 466.4L470.5 466.9L473.5 467.4L476.4 468.0L479.3 468.5L482.3 469.2L485.2 469.8L488.1 470.5L491.0 471.3L493.9 472.0L496.8 472.8L499.7 473.7L502.6 474.5L505.5 475.4L508.4 476.4L511.3 477.3L514.1 478.3L517.0 479.3L519.8 480.3L522.7 481.4L525.5 482.5L528.3 483.6L531.1 484.8L533.9 485.9L536.7 487.1L539.5 488.4L542.3 489.6L545.1 490.9L547.9 492.1L550.6 493.5L553.4 494.8L556.1 496.1L558.8 497.5L561.5 498.9L564.2 500.3L566.9 501.8L569.6 503.3L572.3 504.8L574.9 506.3L577.6 507.8L580.2 509.4L582.8 510.9L585.4 512.5L588.0 514.2L590.5 515.8L593.1 517.5L595.6 519.2L598.1 520.9L600.6 522.6L603.0 524.4L605.5 526.2L607.9 528.0L610.3 529.8L612.7 531.6L615.1 533.5L617.5 535.4L619.8 537.3L622.1 539.3L624.4 541.2L626.6 543.2L628.9 545.2L631.1 547.2L633.3 549.3L635.5 551.4L637.6 553.4L639.7 555.6L641.8 557.7L643.9 559.8L645.9 562.0L647.9 564.2L649.9 566.4L651.9 568.7L653.8 570.9L655.7 573.2L657.6 575.5L659.5 577.8L661.3 580.2L663.2 582.5L665.0 584.9L666.7 587.3L668.5 589.7L670.2 592.2L671.9 594.6L673.6 597.1L675.2 599.6L676.9 602.1L678.5 604.6L680.0 607.1L681.6 609.7L683.2 612.2L684.7 614.8L686.2 617.4L687.7 620.0L689.2 622.6L690.7 625.2L692.1 627.9L693.6 630.5L695.0 633.2L696.4 635.8L697.8 638.5L699.3 641.1L700.7 643.8L702.1 646.5L703.5 649.2L704.9 651.9L706.3 654.6L707.6 657.2L709.0 659.9L710.4 662.6L711.8 665.3L713.2 668.0L714.6 670.7L716.0 673.3L717.5 676.0L718.9 678.7L720.3 681.4L721.7 684.0L723.2 686.7L724.6 689.3L726.1 692.0L727.6 694.6L729.1 697.2L730.5 699.9L732.0 702.5L733.5 705.1L735.0 707.7L736.6 710.3L738.1 712.9L739.6 715.5L741.2 718.1L742.7 720.7L744.3 723.3L745.8 725.9L747.4 728.5L749.0 731.0L750.6 733.6L752.2 736.1L753.8 738.7L755.4 741.2L757.0 743.8L758.6 746.3L760.3 748.8L761.9 751.4L763.6 753.9L765.3 756.4L766.9 758.9L768.6 761.4L770.3 763.9L772.0 766.4L773.7 768.8L775.4 771.3L777.2 773.8L778.9 776.2L780.6 778.7L782.4 781.2L784.1 783.6L785.9 786.0L787.7 788.5L789.4 790.9L791.2 793.3L793.0 795.8L794.8 798.2L796.6 800.6L798.3 803.0L800.1 805.5L801.9 807.9L803.7 810.3L805.5 812.7L807.3 815.1L809.0 817.5L810.8 819.9L812.6 822.4L814.3 824.8L816.1 827.2L817.8 829.6L819.6 832.0L821.3 834.5L823.0 836.9L824.8 839.3L826.5 841.8L828.2 844.2L829.9 846.6L831.5 849.1" fill="none" stroke="#b283ee" stroke-width="4.8" stroke-linejoin="round"/>
<path d="M171.9 215.2L174.9 215.7L177.9 216.1L180.9 216.6L183.9 217.1L186.9 217.6L189.9 218.1L192.9 218.7L195.9 219.2L198.8 219.8L201.8 220.4L204.8 221.0L207.7 221.6L210.7 222.2L213.6 222.8L216.6 223.5L219.5 224.2L222.4 224.9L225.4 225.5L228.3 226.3L231.2 227.0L234.2 227.7L237.1 228.5L240.0 229.2L242.9 230.0L245.8 230.8L248.7 231.6L251.6 232.4L254.5 233.2L257.4 234.1L260.3 234.9L263.2 235.8L266.1 236.6L268.9 237.5L271.8 238.4L274.7 239.3L277.5 240.2L280.4 241.2L283.3 242.1L286.1 243.1L289.0 244.0L291.8 245.0L294.7 246.0L297.5 247.0L300.4 248.0L303.2 249.0L306.0 250.0L308.8 251.0L311.7 252.1L314.5 253.1L317.3 254.2L320.1 255.3L322.9 256.3L325.8 257.4L328.6 258.5L331.4 259.6L334.2 260.8L337.0 261.9L339.8 263.0L342.6 264.1L345.3 265.3L348.1 266.4L350.9 267.6L353.7 268.8L356.5 270.0L359.2 271.1L362.0 272.3L364.8 273.5L367.5 274.7L370.3 275.9L373.1 277.2L375.8 278.4L378.6 279.6L381.3 280.9L384.1 282.1L386.8 283.3L389.6 284.6L392.3 285.9L395.1 287.1L397.8 288.4L400.5 289.7L403.3 291.0L406.0 292.2L408.7 293.5L411.4 294.8L414.2 296.1L416.9 297.5L419.6 298.8L422.3 300.1L425.0 301.4L427.7 302.8L430.4 304.1L433.1 305.5L435.8 306.8L438.5 308.2L441.2 309.5L443.8 310.9L446.5 312.3L449.2 313.7L451.9 315.1L454.5 316.5L457.2 317.9L459.9 319.3L462.5 320.8L465.2 322.2L467.8 323.6L470.4 325.1L473.1 326.5L475.7 328.0L478.3 329.5L480.9 330.9L483.6 332.4L486.2 333.9L488.8 335.4L491.4 336.9L494.0 338.5L496.6 340.0L499.1 341.5L501.7 343.1L504.3 344.6L506.9 346.2L509.4 347.8L512.0 349.3L514.5 350.9L517.1 352.5L519.6 354.1L522.1 355.8L524.7 357.4L527.2 359.0L529.7 360.7L532.2 362.3L534.7 364.0L537.2 365.6L539.7 367.3L542.2 369.0L544.7 370.7L547.1 372.4L549.6 374.1L552.0 375.9L554.5 377.6L556.9 379.4L559.4 381.1L561.8 382.9L564.2 384.6L566.7 386.4L569.1 388.2L571.5 390.0L573.9 391.8L576.3 393.6L578.7 395.4L581.1 397.2L583.5 399.1L585.9 400.9L588.2 402.8L590.6 404.6L593.0 406.5L595.3 408.4L597.6 410.3L599.9 412.2L602.3 414.1L604.5 416.0L606.8 418.0L609.1 419.9L611.3 421.9L613.6 423.9L615.8 425.9L618.0 427.9L620.1 430.0L622.3 432.0L624.4 434.1L626.5 436.2L628.6 438.4L630.7 440.5L632.7 442.7L634.7 444.9L636.7 447.1L638.7 449.3L640.6 451.6L642.5 453.9L644.4 456.2L646.3 458.5L648.1 460.9L649.9 463.3L651.8 465.6L653.5 468.0L655.3 470.5L657.1 472.9L658.8 475.3L660.5 477.8L662.2 480.3L663.9 482.7L665.6 485.2L667.3 487.7L668.9 490.3L670.6 492.8L672.2 495.3L673.9 497.9L675.5 500.4L677.1 503.0L678.7 505.5L680.3 508.1L681.9 510.7L683.5 513.2L685.1 515.8L686.7 518.4L688.3 521.0L689.9 523.5L691.5 526.1L693.1 528.7L694.7 531.2L696.3 533.8L697.9 536.4L699.6 538.9L701.2 541.5L702.8 544.0L704.4 546.6L706.0 549.1L707.7 551.7L709.3 554.2L711.0 556.7L712.6 559.3L714.2 561.8L715.9 564.3L717.5 566.9L719.2 569.4L720.8 571.9L722.5 574.4L724.1 577.0L725.8 579.5L727.5 582.0L729.1 584.5L730.8 587.0L732.4 589.6L734.1 592.1L735.8 594.6L737.4 597.1L739.1 599.6L740.8 602.1L742.4 604.6L744.1 607.1L745.8 609.7L747.5 612.2L749.1 614.7L750.8 617.2L752.5 619.7L754.2 622.2L755.8 624.7L757.5 627.2L759.2 629.7L760.9 632.2L762.5 634.7L764.2 637.2L765.9 639.7L767.6 642.2L769.3 644.7L771.0 647.2L772.7 649.7L774.3 652.2L776.0 654.7L777.7 657.2L779.4 659.7L781.1 662.2L782.8 664.7L784.5 667.2L786.2 669.7L787.9 672.2L789.6 674.7L791.3 677.2L793.0 679.7L794.7 682.2L796.4 684.7L798.1 687.1L799.8 689.6L801.5 692.1L803.2 694.6L804.9 697.1L806.6 699.6L808.3 702.1L810.0 704.5L811.7 707.0L813.5 709.5L815.2 712.0L816.9 714.5L818.6 716.9L820.3 719.4L822.0 721.9L823.8 724.4L825.5 726.8L827.2 729.3L828.9 731.8L830.6 734.3L832.4 736.7L834.1 739.2L835.8 741.7L837.6 744.1L839.3 746.6L841.0 749.1L842.8 751.5L844.5 754.0L846.2 756.5L848.0 758.9L849.7 761.4L851.4 763.8L853.2 766.3L854.9 768.8L856.7 771.2L858.4 773.7L860.2 776.1L861.9 778.6L863.6 781.0L865.4 783.5L867.1 785.9L868.9 788.4L870.7 790.8L872.4 793.3L874.2 795.7L875.9 798.2L877.7 800.6L879.4 803.1L881.2 805.5L883.0 807.9L884.7 810.4L886.5 812.8L888.3 815.3L890.0 817.7L891.8 820.1L893.6 822.6L895.3 825.0L897.1 827.4L898.9 829.9L900.7 832.3L902.4 834.7L904.2 837.2L906.0 839.6L907.8 842.0L909.6 844.4L911.3 846.9L913.1 849.3" fill="none" stroke="#0b3f98" stroke-width="5.0" stroke-linejoin="round"/>
<path d="M172.0 513.9L174.4 509.0L176.8 505.3L179.4 502.5L181.9 500.7L184.6 499.6L187.2 499.1L189.9 499.2L192.7 499.6L195.4 500.3L198.2 501.2L201.0 502.0L203.8 502.7L206.7 503.2L209.5 503.2L212.3 502.9L215.1 502.3L218.0 501.3L220.8 500.2L223.6 499.0L226.5 497.7L229.3 496.4L232.2 495.2L235.1 494.1L238.0 493.2L240.9 492.5L243.8 492.0L246.7 491.7L249.6 491.6L252.6 491.7L255.5 491.8L258.5 492.1L261.5 492.5L264.5 493.0L267.5 493.6L270.6 494.2L273.6 494.8L276.7 495.5L279.7 496.1L282.8 496.8L285.9 497.4L289.0 497.9L292.0 498.3L295.1 498.7L298.1 498.8L301.0 498.8L303.9 498.6L306.7 498.1L309.4 497.4L312.0 496.3L314.5 494.9L316.9 493.3L319.2 491.3L321.4 489.2L323.5 486.9L325.5 484.6L327.4 482.2L329.3 479.8L331.2 477.4L333.0 475.0L334.9 472.6L336.7 470.2L338.6 467.8L340.5 465.5L342.4 463.2L344.4 460.9L346.3 458.6L348.3 456.3L350.3 454.0L352.2 451.7L354.1 449.4L356.1 447.2L358.0 444.8L359.8 442.5L361.7 440.1L363.5 437.8L365.3 435.3L367.0 432.9L368.7 430.4L370.4 428.0L372.1 425.5L373.7 422.9L375.3 420.4L376.9 417.8L378.5 415.3L380.1 412.7L381.7 410.1L383.2 407.5L384.8 404.9L386.4 402.3L387.9 399.7L389.5 397.2L391.0 394.6L392.6 392.0L394.2 389.4L395.8 386.8L397.4 384.3L399.0 381.7L400.7 379.2L402.3 376.7L404.0 374.2L405.7 371.7L407.5 369.3L409.3 366.9L411.1 364.5L412.9 362.1L414.8 359.8L416.7 357.5L418.6 355.1L420.6 352.8L422.5 350.6L424.5 348.3L426.4 346.0L428.4 343.7L430.4 341.5L432.4 339.2L434.3 336.9L436.3 334.6L438.2 332.2L440.1 329.9L442.0 327.5L443.9 325.2L445.7 322.8L447.6 320.4L449.5 318.0L451.4 315.7L453.3 313.4L455.3 311.1L457.3 308.9L459.4 306.7L461.5 304.6L463.7 302.5L465.9 300.5L468.2 298.6L470.5 296.6L472.8 294.7L475.2 292.8L477.5 290.9L479.8 289.0L482.1 287.1L484.4 285.1L486.6 283.1L488.8 281.1L491.0 279.0L493.0 276.8L495.1 274.6L497.1 272.4L499.2 270.2L501.2 268.0L503.4 265.8L505.5 263.7L507.8 261.6L510.2 259.6L512.7 257.8L515.3 256.0L518.1 254.4L520.9 253.1L523.8 252.0L526.7 251.3L529.5 251.0L532.2 251.2L534.8 251.9L537.2 253.0L539.3 254.6L541.4 256.6L543.3 258.9L545.0 261.4L546.8 264.1L548.5 266.9L550.1 269.8L551.8 272.7L553.5 275.5L555.3 278.2L557.2 280.8L559.1 283.3L561.1 285.7L563.1 288.0L565.1 290.2L567.2 292.4L569.3 294.5L571.4 296.6L573.5 298.7L575.7 300.7L577.8 302.7L579.9 304.7L582.1 306.7L584.2 308.8L586.3 310.8L588.3 312.9L590.4 315.1L592.4 317.2L594.4 319.4L596.4 321.7L598.3 323.9L600.3 326.2L602.2 328.5L604.1 330.9L606.0 333.2L607.9 335.6L609.8 338.0L611.6 340.3L613.5 342.7L615.3 345.2L617.2 347.6L619.0 350.0L620.9 352.4L622.8 354.8L624.6 357.2L626.5 359.6L628.4 362.0L630.3 364.4L632.1 366.8L634.0 369.1L635.9 371.5L637.8 373.9L639.7 376.2L641.5 378.6L643.4 381.0L645.2 383.4L647.1 385.8L648.9 388.2L650.7 390.6L652.4 393.0L654.2 395.5L655.9 397.9L657.6 400.4L659.2 402.9L660.9 405.4L662.5 407.9L664.0 410.5L665.6 413.1L667.1 415.7L668.6 418.3L670.0 420.9L671.5 423.5L672.9 426.2L674.3 428.8L675.7 431.5L677.1 434.2L678.4 436.9L679.8 439.6L681.1 442.3L682.5 445.0L683.8 447.7L685.1 450.4L686.5 453.1L687.8 455.8L689.1 458.5L690.4 461.2L691.8 464.0L693.1 466.7L694.5 469.4L695.9 472.0L697.2 474.7L698.6 477.4L700.1 480.1L701.5 482.7L702.9 485.4L704.4 488.0L705.9 490.6L707.3 493.2L708.8 495.9L710.3 498.5L711.8 501.1L713.2 503.7L714.7 506.4L716.1 509.0L717.6 511.6L719.0 514.3L720.4 517.0L721.7 519.6L723.1 522.3L724.4 525.0L725.6 527.8L726.9 530.5L728.1 533.2L729.3 536.0L730.5 538.8L731.7 541.5L732.8 544.3L734.0 547.1L735.1 549.9L736.3 552.7L737.4 555.5L738.5 558.3L739.6 561.1L740.7 563.9L741.8 566.7L743.0 569.5L744.1 572.3L745.2 575.1L746.4 577.9L747.5 580.7L748.7 583.5L749.8 586.2L751.0 589.0L752.2 591.8L753.4 594.6L754.6 597.3L755.8 600.1L757.0 602.9L758.2 605.6L759.4 608.4L760.6 611.1L761.8 613.9L763.0 616.6L764.3 619.4L765.5 622.2L766.7 624.9L767.9 627.7L769.1 630.4L770.4 633.2L771.6 635.9L772.8 638.7L774.0 641.4L775.2 644.2L776.4 647.0L777.6 649.7L778.8 652.5L780.0 655.3L781.2 658.0L782.3 660.8L783.5 663.6L784.7 666.3L785.8 669.1L787.0 671.9L788.1 674.7L789.2 677.5L790.3 680.3L791.4 683.1L792.5 685.9L793.6 688.7L794.7 691.5L795.7 694.3L796.8 697.1L797.8 700.0L798.9 702.8L799.9 705.6L800.9 708.5L801.9 711.3L802.9 714.1L804.0 717.0L805.0 719.8L806.0 722.6L807.0 725.5L808.0 728.3L809.0 731.2L810.0 734.0L811.1 736.8L812.1 739.7L813.1 742.5L814.2 745.3L815.2 748.1L816.3 751.0L817.3 753.8L818.4 756.6L819.5 759.4L820.6 762.2L821.7 765.0L822.8 767.8L824.0 770.6L825.1 773.4L826.3 776.1L827.5 778.9L828.7 781.6L830.0 784.4L831.2 787.1L832.5 789.9L833.8 792.6L835.1 795.3L836.5 798.0L837.8 800.7L839.2 803.4L840.5 806.1L841.8 808.8L843.1 811.6L844.4 814.3L845.6 817.1L846.8 819.8L847.9 822.6L848.9 825.5L849.9 828.3L850.7 831.2L851.5 834.1L852.2 837.1L852.8 840.1" fill="none" stroke="#a600a6" stroke-width="5.2" stroke-dasharray="19 8.3" stroke-linejoin="round"/>
<path d="M172.5 101.7L175.2 103.1L177.9 104.5L180.5 105.9L183.2 107.3L185.9 108.6L188.6 110.0L191.3 111.4L194.0 112.8L196.6 114.2L199.3 115.5L202.0 116.9L204.7 118.3L207.4 119.7L210.1 121.0L212.7 122.4L215.4 123.8L218.1 125.1L220.8 126.5L223.5 127.9L226.2 129.2L228.9 130.6L231.5 132.0L234.2 133.3L236.9 134.7L239.6 136.1L242.3 137.4L244.9 138.8L247.6 140.2L250.3 141.6L253.0 142.9L255.6 144.3L258.3 145.7L261.0 147.1L263.6 148.5L266.3 149.9L269.0 151.3L271.6 152.7L274.3 154.1L277.0 155.5L279.6 156.9L282.3 158.3L284.9 159.7L287.6 161.2L290.2 162.6L292.9 164.0L295.5 165.5L298.1 166.9L300.8 168.4L303.4 169.8L306.0 171.3L308.7 172.8L311.3 174.3L313.9 175.8L316.5 177.3L319.1 178.8L321.7 180.3L324.3 181.8L326.9 183.3L329.5 184.9L332.1 186.4L334.7 188.0L337.3 189.5L339.9 191.1L342.4 192.7L345.0 194.3L347.6 195.9L350.1 197.5L352.7 199.1L355.2 200.8L357.8 202.4L360.3 204.1L362.9 205.7L365.4 207.4L367.9 209.1L370.4 210.8L373.0 212.5L375.5 214.2L378.0 216.0L380.5 217.7L383.0 219.4L385.5 221.2L388.0 222.9L390.5 224.7L393.0 226.4L395.5 228.1L398.0 229.8L400.6 231.5L403.1 233.1L405.7 234.8L408.2 236.4L410.8 238.0L413.4 239.6L416.0 241.1L418.6 242.7L421.2 244.1L423.8 245.6L426.5 247.0L429.2 248.3L431.9 249.7L434.6 250.9L437.3 252.2L440.1 253.3L442.9 254.5L445.7 255.5L448.5 256.5L451.4 257.4L454.2 258.3L457.1 259.0L460.0 259.7L463.0 260.3L465.9 260.7L468.8 261.0L471.8 261.2L474.8 261.3L477.7 261.3L480.7 261.1L483.7 260.8L486.7 260.3L489.7 259.6L492.7 258.8L495.7 258.0L498.7 257.1L501.6 256.1L504.6 255.2L507.5 254.2L510.3 253.4L513.2 252.6L516.0 252.0L518.7 251.5L521.4 251.2L524.1 251.1L526.7 251.3L529.2 251.7L531.6 252.4L534.0 253.4L536.3 254.6L538.6 256.0L540.9 257.6L543.1 259.4L545.2 261.4L547.4 263.4L549.5 265.6L551.6 267.8L553.6 270.0L555.7 272.3L557.8 274.5L559.9 276.7L561.9 279.0L564.0 281.3L566.1 283.5L568.1 285.8L570.2 288.0L572.2 290.3L574.3 292.6L576.3 294.8L578.3 297.1L580.3 299.4L582.4 301.7L584.4 304.0L586.4 306.3L588.4 308.5L590.4 310.8L592.4 313.1L594.3 315.5L596.3 317.8L598.3 320.1L600.2 322.4L602.2 324.7L604.1 327.0L606.1 329.4L608.0 331.7L609.9 334.1L611.9 336.4L613.8 338.8L615.7 341.1L617.5 343.5L619.4 345.8L621.3 348.2L623.2 350.6L625.0 353.0L626.9 355.4L628.7 357.8L630.5 360.2L632.3 362.6L634.1 365.0L635.9 367.4L637.7 369.8L639.5 372.3L641.2 374.7L643.0 377.2L644.7 379.6L646.5 382.1L648.2 384.6L649.9 387.0L651.6 389.5L653.3 392.0L654.9 394.5L656.6 397.0L658.2 399.5L659.9 402.0L661.5 404.6L663.1 407.1L664.7 409.6L666.3 412.2L667.9 414.7L669.4 417.3L671.0 419.9L672.5 422.4L674.1 425.0L675.6 427.6L677.1 430.2L678.6 432.8L680.1 435.4L681.6 438.0L683.0 440.6L684.5 443.3L685.9 445.9L687.4 448.5L688.8 451.2L690.2 453.8L691.7 456.5L693.1 459.1L694.5 461.8L695.9 464.4L697.2 467.1L698.6 469.8L700.0 472.5L701.4 475.1L702.7 477.8L704.1 480.5L705.4 483.2L706.8 485.9L708.1 488.6L709.4 491.3L710.7 494.0L712.1 496.7L713.4 499.5L714.7 502.2L716.0 504.9L717.3 507.6L718.6 510.3L719.9 513.1L721.1 515.8L722.4 518.5L723.7 521.3L725.0 524.0L726.2 526.7L727.5 529.5L728.8 532.2L730.0 535.0L731.3 537.7L732.6 540.5L733.8 543.2L735.1 546.0L736.3 548.7L737.6 551.5L738.8 554.2L740.1 557.0L741.3 559.7L742.6 562.5L743.8 565.2L745.1 568.0L746.3 570.7L747.6 573.5L748.8 576.2L750.1 579.0L751.3 581.7L752.6 584.5L753.8 587.2L755.1 590.0L756.3 592.7L757.6 595.5L758.8 598.2L760.1 600.9L761.4 603.7L762.6 606.4L763.9 609.2L765.2 611.9L766.4 614.7L767.7 617.4L769.0 620.1L770.2 622.9L771.5 625.6L772.8 628.3L774.1 631.1L775.3 633.8L776.6 636.5L777.9 639.3L779.2 642.0L780.5 644.7L781.7 647.4L783.0 650.2L784.3 652.9L785.6 655.6L786.9 658.4L788.2 661.1L789.5 663.8L790.8 666.5L792.1 669.3L793.3 672.0L794.6 674.7L795.9 677.4L797.2 680.1L798.5 682.9L799.8 685.6L801.1 688.3L802.4 691.0L803.7 693.7L805.0 696.5L806.3 699.2L807.6 701.9L808.9 704.6L810.3 707.3L811.6 710.0L812.9 712.8L814.2 715.5L815.5 718.2L816.8 720.9L818.1 723.6L819.4 726.3L820.7 729.0L822.0 731.8L823.3 734.5L824.7 737.2L826.0 739.9L827.3 742.6L828.6 745.3L829.9 748.0L831.2 750.7L832.5 753.5L833.9 756.2L835.2 758.9L836.5 761.6L837.8 764.3L839.1 767.0L840.4 769.7L841.8 772.4L843.1 775.1L844.4 777.9L845.7 780.6L847.0 783.3L848.4 786.0L849.7 788.7L851.0 791.4L852.3 794.1L853.6 796.8L854.9 799.6L856.3 802.3L857.6 805.0L858.9 807.7L860.2 810.4L861.5 813.1L862.9 815.8L864.2 818.6L865.5 821.3L866.8 824.0L868.1 826.7L869.5 829.4L870.8 832.1L872.1 834.8L873.4 837.6L874.7 840.3L876.1 843.0" fill="none" stroke="#a600a6" stroke-width="5.2" stroke-linejoin="round"/>
<path d="M627 468L647 468L637 488Z" fill="none" stroke="#22e890" stroke-width="2.8"/>
<path d="M622 490L642 490L632 510Z" fill="none" stroke="#1eb0e8" stroke-width="2.8"/>
<path d="M640 506L660 506L650 526Z" fill="none" stroke="#1ee6ee" stroke-width="2.8"/>
<path d="M661 509.8L681 509.8L671 529.8Z" fill="none" stroke="#1ee6ee" stroke-width="2.8"/>
<path d="M647.5 526.2L667.5 526.2L657.5 546.2Z" fill="none" stroke="#ee82ee" stroke-width="2.8"/>
<path d="M669.1 529.8L689.1 529.8L679.1 549.8Z" fill="none" stroke="#b283ee" stroke-width="2.8"/>
<path d="M663.7 546L683.7 546L673.7 566Z" fill="none" stroke="#1eb0e8" stroke-width="2.8"/>
<path d="M211 509.9L214.2 519.6L224.4 519.6L216.1 525.7L219.3 535.4L211 529.4L202.7 535.4L205.9 525.7L197.6 519.6L207.8 519.6Z" fill="#fff" stroke="#1eb0e8" stroke-width="2.9" stroke-linejoin="round"/>
<path d="M397.8 525V550M386.8 525h22M386.8 550h22" stroke="#18c418" stroke-width="3" fill="none"/>
<path d="M397.8 521.9L401 531.6L411.2 531.6L402.9 537.7L406.1 547.4L397.8 541.4L389.5 547.4L392.7 537.7L384.4 531.6L394.6 531.6Z" fill="#fff" stroke="#18c418" stroke-width="2.9" stroke-linejoin="round"/>
<path d="M425.2 482.2L428.4 491.9L438.6 491.9L430.3 498L433.5 507.7L425.2 501.7L416.9 507.7L420.1 498L411.8 491.9L422 491.9Z" fill="#fff" stroke="#1ee6ee" stroke-width="2.9" stroke-linejoin="round"/>
<path d="M432.4 493L435.6 502.7L445.8 502.7L437.5 508.8L440.7 518.5L432.4 512.5L424.1 518.5L427.3 508.8L419 502.7L429.2 502.7Z" fill="#fff" stroke="#1ee6ee" stroke-width="2.9" stroke-linejoin="round"/>
<path d="M438 478.9L441.2 488.6L451.4 488.6L443.1 494.7L446.3 504.4L438 498.4L429.7 504.4L432.9 494.7L424.6 488.6L434.8 488.6Z" fill="#fff" stroke="#1eb0e8" stroke-width="2.9" stroke-linejoin="round"/>
<path d="M458 471.9L461.2 481.6L471.4 481.6L463.1 487.7L466.3 497.4L458 491.4L449.7 497.4L452.9 487.7L444.6 481.6L454.8 481.6Z" fill="#fff" stroke="#1ee6ee" stroke-width="2.9" stroke-linejoin="round"/>
<path d="M459 461.9L462.2 471.6L472.4 471.6L464.1 477.7L467.3 487.4L459 481.4L450.7 487.4L453.9 477.7L445.6 471.6L455.8 471.6Z" fill="#fff" stroke="#8a9ef0" stroke-width="2.9" stroke-linejoin="round"/>
<path d="M445 451.9L448.2 461.6L458.4 461.6L450.1 467.7L453.3 477.4L445 471.4L436.7 477.4L439.9 467.7L431.6 461.6L441.8 461.6Z" fill="#fff" stroke="#ee82ee" stroke-width="2.9" stroke-linejoin="round"/>
<path d="M565 530V573M554 530h22M554 573h22" stroke="#f5a623" stroke-width="3" fill="none"/>
<path d="M565 529.9L568.2 539.6L578.4 539.6L570.1 545.7L573.3 555.4L565 549.4L556.7 555.4L559.9 545.7L551.6 539.6L561.8 539.6Z" fill="#fff" stroke="#f5a623" stroke-width="2.9" stroke-linejoin="round"/>
<path d="M543.8 495.4L547 505.1L557.2 505.1L548.9 511.2L552.1 520.9L543.8 514.9L535.5 520.9L538.7 511.2L530.4 505.1L540.6 505.1Z" fill="#fff" stroke="#1ee6ee" stroke-width="2.9" stroke-linejoin="round"/>
<path d="M541 477.9L544.2 487.6L554.4 487.6L546.1 493.7L549.3 503.4L541 497.4L532.7 503.4L535.9 493.7L527.6 487.6L537.8 487.6Z" fill="#fff" stroke="#1eb0e8" stroke-width="2.9" stroke-linejoin="round"/>
<path d="M562 485.9L565.2 495.6L575.4 495.6L567.1 501.7L570.3 511.4L562 505.4L553.7 511.4L556.9 501.7L548.6 495.6L558.8 495.6Z" fill="#fff" stroke="#b283ee" stroke-width="2.9" stroke-linejoin="round"/>
<path d="M565 520.9L568.2 530.6L578.4 530.6L570.1 536.7L573.3 546.4L565 540.4L556.7 546.4L559.9 536.7L551.6 530.6L561.8 530.6Z" fill="#fff" stroke="#18c418" stroke-width="2.9" stroke-linejoin="round"/>
<path d="M605 519.9L608.2 529.6L618.4 529.6L610.1 535.7L613.3 545.4L605 539.4L596.7 545.4L599.9 535.7L591.6 529.6L601.8 529.6Z" fill="#fff" stroke="#18c418" stroke-width="2.9" stroke-linejoin="round"/>
<path d="M624 549.9L627.2 559.6L637.4 559.6L629.1 565.7L632.3 575.4L624 569.4L615.7 575.4L618.9 565.7L610.6 559.6L620.8 559.6Z" fill="#fff" stroke="#f5a623" stroke-width="2.9" stroke-linejoin="round"/>
<path d="M630 551.9L633.2 561.6L643.4 561.6L635.1 567.7L638.3 577.4L630 571.4L621.7 577.4L624.9 567.7L616.6 561.6L626.8 561.6Z" fill="#fff" stroke="#18c418" stroke-width="2.9" stroke-linejoin="round"/>
<path d="M639 531.9L642.2 541.6L652.4 541.6L644.1 547.7L647.3 557.4L639 551.4L630.7 557.4L633.9 547.7L625.6 541.6L635.8 541.6Z" fill="#fff" stroke="#ee82ee" stroke-width="2.9" stroke-linejoin="round"/>
<path d="M652 539.9L655.2 549.6L665.4 549.6L657.1 555.7L660.3 565.4L652 559.4L643.7 565.4L646.9 555.7L638.6 549.6L648.8 549.6Z" fill="#fff" stroke="#8a9ef0" stroke-width="2.9" stroke-linejoin="round"/>
<path d="M687 570.9L690.2 580.6L700.4 580.6L692.1 586.7L695.3 596.4L687 590.4L678.7 596.4L681.9 586.7L673.6 580.6L683.8 580.6Z" fill="#fff" stroke="#18c418" stroke-width="2.9" stroke-linejoin="round"/>
<path d="M698 599.4L701.2 609.1L711.4 609.1L703.1 615.2L706.3 624.9L698 618.9L689.7 624.9L692.9 615.2L684.6 609.1L694.8 609.1Z" fill="#fff" stroke="#f5a623" stroke-width="2.9" stroke-linejoin="round"/>
<path d="M731.3 610.8V668.4M720.3 610.8h22M720.3 668.4h22" stroke="#18c418" stroke-width="3" fill="none"/>
<path d="M731.3 613.9L734.5 623.6L744.7 623.6L736.4 629.7L739.6 639.4L731.3 633.4L723 639.4L726.2 629.7L717.9 623.6L728.1 623.6Z" fill="#fff" stroke="#18c418" stroke-width="2.9" stroke-linejoin="round"/>
<path d="M762.7 634.5L765.9 644.2L776.1 644.2L767.8 650.3L771 660L762.7 654L754.4 660L757.6 650.3L749.3 644.2L759.5 644.2Z" fill="#fff" stroke="#f0280a" stroke-width="2.9" stroke-linejoin="round"/>
<path d="M802.2 685.1V728.2M791.2 685.1h22M791.2 728.2h22" stroke="#f0280a" stroke-width="3" fill="none"/>
<path d="M802.2 684.2L805.4 693.9L815.6 693.9L807.3 700L810.5 709.7L802.2 703.7L793.9 709.7L797.1 700L788.8 693.9L799 693.9Z" fill="#fff" stroke="#f0280a" stroke-width="2.9" stroke-linejoin="round"/>
<path d="M336.5 178L357.5 178L347 199Z" fill="none" stroke="#9a0a9a" stroke-width="3"/>
<path d="M631 276.2L652 276.2L641.5 297.2Z" fill="none" stroke="#9a0a9a" stroke-width="3"/>
<path d="M755 311.1L776 311.1L765.5 332.1Z" fill="none" stroke="#9a0a9a" stroke-width="3"/>
<path d="M815.7 607.5L836.7 607.5L826.2 628.5Z" fill="none" stroke="#1f5fbf" stroke-width="3"/>
<path d="M936.7 645.5L957.7 645.5L947.2 666.5Z" fill="none" stroke="#1f5fbf" stroke-width="3"/>
<path d="M908.5 691.5L929.5 691.5L919 712.5Z" fill="none" stroke="#808080" stroke-width="3"/>
<path d="M917.5 693.5L938.5 693.5L928 714.5Z" fill="none" stroke="#808080" stroke-width="3"/>
<path d="M904.5 676.5L925.5 676.5L915 697.5Z" fill="none" stroke="#8b1a0a" stroke-width="3"/>
<path d="M917.5 676.5L938.5 676.5L928 697.5Z" fill="none" stroke="#8b1a0a" stroke-width="3"/>
<path d="M915.5 683.5L936.5 683.5L926 704.5Z" fill="none" stroke="#000000" stroke-width="3"/>
<path d="M966.5 678.2L987.5 678.2L977 699.2Z" fill="none" stroke="#8b1a0a" stroke-width="3"/>
<path d="M966.5 702.2L987.5 702.2L977 723.2Z" fill="none" stroke="#808080" stroke-width="3"/>
<path d="M966.5 717.5L987.5 717.5L977 738.5Z" fill="none" stroke="#000000" stroke-width="3"/>
<circle cx="166" cy="83" r="10" fill="#fff" stroke="#0b3f98" stroke-width="3.3"/>
<circle cx="188" cy="125.6" r="10" fill="#fff" stroke="#0b3f98" stroke-width="3.3"/>
<circle cx="212" cy="161.1" r="10" fill="#fff" stroke="#0b3f98" stroke-width="3.3"/>
<circle cx="230.2" cy="193.6" r="10" fill="#fff" stroke="#0b3f98" stroke-width="3.3"/>
<circle cx="244.2" cy="231.9" r="10" fill="#fff" stroke="#0b3f98" stroke-width="3.3"/>
<circle cx="432.9" cy="321" r="10" fill="#fff" stroke="#0b3f98" stroke-width="3.3"/>
<circle cx="447.9" cy="319" r="10" fill="#fff" stroke="#0b3f98" stroke-width="3.3"/>
<path d="M542.5 357.7V370.3M531.5 357.7h22M531.5 370.3h22" stroke="#0b3f98" stroke-width="3" fill="none"/>
<circle cx="542.5" cy="363.3" r="10" fill="#fff" stroke="#0b3f98" stroke-width="3.3"/>
<path d="M562.1 378.7V399.7M551.1 378.7h22M551.1 399.7h22" stroke="#0b3f98" stroke-width="3" fill="none"/>
<circle cx="562.1" cy="388.5" r="10" fill="#fff" stroke="#0b3f98" stroke-width="3.3"/>
<path d="M638 439.9V457.9M627 439.9h22M627 457.9h22" stroke="#0b3f98" stroke-width="3" fill="none"/>
<circle cx="638" cy="448.9" r="10" fill="#fff" stroke="#0b3f98" stroke-width="3.3"/>
<path d="M653 456.5V488.9M642 456.5h22M642 488.9h22" stroke="#0b3f98" stroke-width="3" fill="none"/>
<circle cx="653" cy="472.9" r="10" fill="#fff" stroke="#0b3f98" stroke-width="3.3"/>
<path d="M674 489.5V523.8M663 489.5h22M663 523.8h22" stroke="#0b3f98" stroke-width="3" fill="none"/>
<circle cx="674" cy="506.9" r="10" fill="#fff" stroke="#0b3f98" stroke-width="3.3"/>
<path d="M727.9 525.8V588.5M716.9 525.8h22M716.9 588.5h22" stroke="#0b3f98" stroke-width="3" fill="none"/>
<circle cx="727.9" cy="555" r="10" fill="#fff" stroke="#0b3f98" stroke-width="3.3"/>
<path d="M462.2 219.2V279.4M451.2 219.2h22M451.2 279.4h22" stroke="#9a0a9a" stroke-width="3" fill="none"/>
<rect x="452.7" y="227.9" width="19" height="19" fill="#fff" stroke="#9a0a9a" stroke-width="3"/>
<path d="M540 231.6V260.8M529 231.6h22M529 260.8h22" stroke="#9a0a9a" stroke-width="3" fill="none"/>
<rect x="530.5" y="232.9" width="19" height="19" fill="#fff" stroke="#9a0a9a" stroke-width="3"/>
</g>
<path d="M433.6 41.5L433.6 30Q433.6 25 438.6 25L480.5 25Q485.5 25 485.5 30L485.5 41.5L474.5 41.5L474.5 36.5L444.6 36.5L444.6 41.5Z" fill="#0000ff"/>
<path d="M513.6 41.5L513.6 30Q513.6 25 518.6 25L547 25Q552 25 552 30L552 41.5L541 41.5L541 36.5L524.6 36.5L524.6 41.5Z" fill="#ff0000"/>
<path d="M549.3 108.7L549.3 97.1Q549.3 92.1 554.3 92.1L571.1 92.1Q576.1 92.1 576.1 97.1L576.1 108.7L565.1 108.7L565.1 103.6L560.3 103.6L560.3 108.7Z" fill="#ffa500"/>
<path d="M625 41.5L625 30Q625 25 630 25L646.8 25Q651.8 25 651.8 30L651.8 41.5L640.8 41.5L640.8 36.5L636 36.5L636 41.5Z" fill="#008000"/>
<path d="M714.7 41.5L714.7 30Q714.7 25 719.7 25L735.7 25Q740.7 25 740.7 30L740.7 41.5L729.7 41.5L729.7 36.5L725.7 36.5L725.7 41.5Z" fill="#808080"/>
<text x="422.8" y="20.6" fill="#0000ff" font-size="30.6">SED1</text>
<text x="495.6" y="20.6" fill="#ff0000" font-size="30.6">SED2</text>
<text x="526.3" y="87.6" fill="#ffa500" font-size="30.6">SED3</text>
<text x="602" y="20.6" fill="#008000" font-size="30.6">SED4</text>
<text x="690.5" y="20.6" fill="#808080" font-size="30.6">SED5</text>
<path d="M338.7 54.5v12M338.7 835.4v-12M505.7 54.5v12M505.7 835.4v-12M672.6 54.5v12M672.6 835.4v-12M839.6 54.5v12M839.6 835.4v-12" stroke="#000" stroke-width="2.6" fill="none"/>
<path d="M171.7 218.5h12M1006.6 218.5h-12M171.7 382.5h12M1006.6 382.5h-12M171.7 546.5h12M1006.6 546.5h-12M171.7 710.5h12M1006.6 710.5h-12" stroke="#000" stroke-width="2.6" fill="none"/>
<rect x="171.7" y="54.5" width="834.9" height="780.9" fill="none" stroke="#000" stroke-width="2.8"/>
<text x="168.7" y="876.8" text-anchor="middle" font-size="42.4">10<tspan dy="-14" font-size="29.6">2</tspan></text>
<text x="335.7" y="876.8" text-anchor="middle" font-size="42.4">10<tspan dy="-14" font-size="29.6">3</tspan></text>
<text x="502.7" y="876.8" text-anchor="middle" font-size="42.4">10<tspan dy="-14" font-size="29.6">4</tspan></text>
<text x="669.6" y="876.8" text-anchor="middle" font-size="42.4">10<tspan dy="-14" font-size="29.6">5</tspan></text>
<text x="836.6" y="876.8" text-anchor="middle" font-size="42.4">10<tspan dy="-14" font-size="29.6">6</tspan></text>
<text x="1003.6" y="876.8" text-anchor="middle" font-size="42.4">10<tspan dy="-14" font-size="29.6">7</tspan></text>
<text x="156" y="68.4" text-anchor="end" font-size="42.4">10<tspan dy="-14" font-size="29.6">−7</tspan></text>
<text x="156" y="232.4" text-anchor="end" font-size="42.4">10<tspan dy="-14" font-size="29.6">−9</tspan></text>
<text x="156" y="396.4" text-anchor="end" font-size="42.4">10<tspan dy="-14" font-size="29.6">−11</tspan></text>
<text x="156" y="560.4" text-anchor="end" font-size="42.4">10<tspan dy="-14" font-size="29.6">−13</tspan></text>
<text x="156" y="724.4" text-anchor="end" font-size="42.4">10<tspan dy="-14" font-size="29.6">−15</tspan></text>
<text x="920.5" y="92.1" text-anchor="end" font-size="23.4">LAT [0.1-1 GeV]</text>
<text x="920.5" y="124.6" text-anchor="end" font-size="23.4">XRT [0.5-10 keV]</text>
<text x="920.5" y="157.1" text-anchor="end" font-size="23.4">XMM [0.3-10 keV]</text>
<text x="920.5" y="189.6" text-anchor="end" font-size="23.4">uvw2-filter</text>
<text x="920.5" y="222.1" text-anchor="end" font-size="23.4">uvm2-filter</text>
<text x="920.5" y="254.6" text-anchor="end" font-size="23.4">uvw1-filter</text>
<text x="920.5" y="287.1" text-anchor="end" font-size="23.4">u-filter</text>
<text x="920.5" y="319.6" text-anchor="end" font-size="23.4">b-filter</text>
<text x="920.5" y="352.1" text-anchor="end" font-size="23.4">v-filter</text>
<text x="920.5" y="384.6" text-anchor="end" font-size="23.4">R-filter</text>
<text x="920.5" y="417.1" text-anchor="end" font-size="23.4">I-filter</text>
<text x="920.5" y="449.6" text-anchor="end" font-size="23.4">K-filter</text>
<text x="841" y="490.5" text-anchor="end" font-size="23.4">10 GHz</text>
<text x="849" y="490.5" font-size="25.5" letter-spacing="1.2">(×10<tspan dy="-10" font-size="18">3</tspan><tspan dy="10">)</tspan></text>
<text x="841" y="532.5" text-anchor="end" font-size="23.4">6 GHz</text>
<text x="849" y="532.5" font-size="25.5" letter-spacing="1.2">(×10<tspan dy="-10" font-size="18">3</tspan><tspan dy="10">)</tspan></text>
<text x="841" y="574.5" text-anchor="end" font-size="23.4">3 GHz</text>
<text x="849" y="574.5" font-size="25.5" letter-spacing="1.2">(×10<tspan dy="-10" font-size="18">3</tspan><tspan dy="10">)</tspan></text>
<rect x="953.0" y="73.89999999999999" width="19.4" height="19.4" fill="none" stroke="#9a0a9a" stroke-width="3.2"/>
<path d="M962.7 104.5V128.2M951.7 104.5h22M951.7 128.2h22" stroke="#0b3f98" stroke-width="3" fill="none"/>
<circle cx="962.7" cy="116.4" r="9.3" fill="#fff" stroke="#0b3f98" stroke-width="3"/>
<path d="M952.7 140L972.7 140L962.7 160Z" fill="none" stroke="#1f5fbf" stroke-width="3"/>
<path d="M962.7 170V193M951.2 170h23M951.2 193h23" stroke="#ee82ee" stroke-width="3" fill="none"/>
<path d="M962.7 167.9L965.9 177.6L976.1 177.6L967.8 183.7L971 193.4L962.7 187.4L954.4 193.4L957.6 183.7L949.3 177.6L959.5 177.6Z" fill="#fff" stroke="#ee82ee" stroke-width="2.9" stroke-linejoin="round"/>
<path d="M954.2 193.0L962.7 187.0L971.2 193.0Z" fill="#ee82ee"/>
<path d="M962.7 202.6V225.6M951.2 202.6h23M951.2 225.6h23" stroke="#b283ee" stroke-width="3" fill="none"/>
<path d="M962.7 200.5L965.9 210.2L976.1 210.2L967.8 216.3L971 226L962.7 220L954.4 226L957.6 216.3L949.3 210.2L959.5 210.2Z" fill="#fff" stroke="#b283ee" stroke-width="2.9" stroke-linejoin="round"/>
<path d="M954.2 225.6L962.7 219.6L971.2 225.6Z" fill="#b283ee"/>
<path d="M962.7 235.2V258.2M951.2 235.2h23M951.2 258.2h23" stroke="#8a9ef0" stroke-width="3" fill="none"/>
<path d="M962.7 233.1L965.9 242.8L976.1 242.8L967.8 248.9L971 258.6L962.7 252.6L954.4 258.6L957.6 248.9L949.3 242.8L959.5 242.8Z" fill="#fff" stroke="#8a9ef0" stroke-width="2.9" stroke-linejoin="round"/>
<path d="M954.2 258.2L962.7 252.2L971.2 258.2Z" fill="#8a9ef0"/>
<path d="M962.7 267.8V290.8M951.2 267.8h23M951.2 290.8h23" stroke="#1eb0e8" stroke-width="3" fill="none"/>
<path d="M962.7 265.7L965.9 275.4L976.1 275.4L967.8 281.5L971 291.2L962.7 285.2L954.4 291.2L957.6 281.5L949.3 275.4L959.5 275.4Z" fill="#fff" stroke="#1eb0e8" stroke-width="2.9" stroke-linejoin="round"/>
<path d="M954.2 290.8L962.7 284.8L971.2 290.8Z" fill="#1eb0e8"/>
<path d="M962.7 300.4V323.4M951.2 300.4h23M951.2 323.4h23" stroke="#1ee6ee" stroke-width="3" fill="none"/>
<path d="M962.7 298.3L965.9 308L976.1 308L967.8 314.1L971 323.8L962.7 317.8L954.4 323.8L957.6 314.1L949.3 308L959.5 308Z" fill="#fff" stroke="#1ee6ee" stroke-width="2.9" stroke-linejoin="round"/>
<path d="M954.2 323.4L962.7 317.4L971.2 323.4Z" fill="#1ee6ee"/>
<path d="M962.7 333V356M951.2 333h23M951.2 356h23" stroke="#22e890" stroke-width="3" fill="none"/>
<path d="M962.7 330.9L965.9 340.6L976.1 340.6L967.8 346.7L971 356.4L962.7 350.4L954.4 356.4L957.6 346.7L949.3 340.6L959.5 340.6Z" fill="#fff" stroke="#22e890" stroke-width="2.9" stroke-linejoin="round"/>
<path d="M954.2 356.0L962.7 350.0L971.2 356.0Z" fill="#22e890"/>
<path d="M962.7 365.6V388.6M951.2 365.6h23M951.2 388.6h23" stroke="#18c418" stroke-width="3" fill="none"/>
<path d="M962.7 363.5L965.9 373.2L976.1 373.2L967.8 379.3L971 389L962.7 383L954.4 389L957.6 379.3L949.3 373.2L959.5 373.2Z" fill="#fff" stroke="#18c418" stroke-width="2.9" stroke-linejoin="round"/>
<path d="M954.2 388.6L962.7 382.6L971.2 388.6Z" fill="#18c418"/>
<path d="M962.7 398.2V421.2M951.2 398.2h23M951.2 421.2h23" stroke="#f5a623" stroke-width="3" fill="none"/>
<path d="M962.7 396.1L965.9 405.8L976.1 405.8L967.8 411.9L971 421.6L962.7 415.6L954.4 421.6L957.6 411.9L949.3 405.8L959.5 405.8Z" fill="#fff" stroke="#f5a623" stroke-width="2.9" stroke-linejoin="round"/>
<path d="M954.2 421.20000000000005L962.7 415.20000000000005L971.2 421.20000000000005Z" fill="#f5a623"/>
<path d="M962.7 430.8V453.8M951.2 430.8h23M951.2 453.8h23" stroke="#f0280a" stroke-width="3" fill="none"/>
<path d="M962.7 428.7L965.9 438.4L976.1 438.4L967.8 444.5L971 454.2L962.7 448.2L954.4 454.2L957.6 444.5L949.3 438.4L959.5 438.4Z" fill="#fff" stroke="#f0280a" stroke-width="2.9" stroke-linejoin="round"/>
<path d="M954.2 453.8L962.7 447.8L971.2 453.8Z" fill="#f0280a"/>
<path d="M952.2 472L973.2 472L962.7 493Z" fill="none" stroke="#8b1a0a" stroke-width="3"/>
<path d="M952.2 514L973.2 514L962.7 535Z" fill="none" stroke="#808080" stroke-width="3"/>
<path d="M952.2 556L973.2 556L962.7 577Z" fill="none" stroke="#000000" stroke-width="3"/>
<text x="588.5" y="932.9" text-anchor="middle" font-size="42.4">Post-trigger time [s]</text>
<text x="612.8" y="992" text-anchor="middle" font-size="42.4">(a)</text>
<text transform="translate(38,446.5) rotate(-90)" text-anchor="middle" font-size="42.4" textLength="342" lengthAdjust="spacing"><tspan font-style="italic">νF</tspan><tspan font-style="italic" font-size="29.6" dy="8">ν</tspan><tspan dy="-8"> [erg s</tspan><tspan dy="-17" font-size="29.6">−1</tspan><tspan dy="17"> cm</tspan><tspan dy="-17" font-size="29.6">−2</tspan><tspan dy="17">]</tspan></text>
<g clip-path="url(#clipR)">
<path d="M1175.2 850.1L1175.4 847.0L1175.6 843.9L1175.9 840.9L1176.3 837.8L1176.7 834.8L1177.1 831.8L1177.6 828.7L1178.1 825.7L1178.6 822.8L1179.2 819.8L1179.9 816.8L1180.5 813.9L1181.2 810.9L1181.9 808.0L1182.7 805.1L1183.4 802.1L1184.2 799.2L1185.1 796.3L1185.9 793.4L1186.8 790.5L1187.6 787.6L1188.5 784.7L1189.4 781.9L1190.3 779.0L1191.2 776.1L1192.2 773.2L1193.1 770.4L1194.0 767.5L1194.9 764.6L1195.9 761.7L1196.8 758.9L1197.7 756.0L1198.6 753.1L1199.5 750.2L1200.4 747.3L1201.3 744.4L1202.2 741.5L1203.1 738.6L1203.9 735.7L1204.7 732.8L1205.5 729.8L1206.3 726.9L1207.0 723.9L1207.7 721.0L1208.4 718.0L1209.1 715.0L1209.7 712.1L1210.4 709.1L1211.0 706.1L1211.6 703.1L1212.2 700.1L1212.8 697.1L1213.4 694.1L1214.1 691.0L1214.7 688.0L1215.4 685.0L1216.1 682.1L1216.8 679.1L1217.6 676.1L1218.4 673.1L1219.3 670.1L1220.2 667.2L1221.1 664.3L1222.1 661.3L1223.2 658.4L1224.3 655.5L1225.5 652.6L1226.8 649.8L1228.2 646.9L1229.7 644.1L1231.2 641.3L1232.8 638.6L1234.6 635.8L1236.4 633.2L1238.3 630.6L1240.2 628.2L1242.2 625.9L1244.3 623.9L1246.3 622.1L1248.4 620.6L1250.5 619.4L1252.6 618.6L1254.7 618.2L1256.7 618.2L1258.7 618.7L1260.7 619.7L1262.6 621.2L1264.4 623.1L1266.2 625.4L1267.8 627.9L1269.3 630.7L1270.8 633.7L1272.0 636.8L1273.2 639.9L1274.2 643.0L1275.1 646.1L1275.8 649.3L1276.5 652.5L1277.0 655.6L1277.4 658.8L1277.8 662.0L1278.1 665.1L1278.3 668.3L1278.5 671.5L1278.7 674.7L1278.8 677.8L1278.9 681.0L1278.9 684.1L1279.0 687.2L1279.1 690.4L1279.2 693.4L1279.3 696.5L1279.4 699.6L1279.6 702.6L1279.7 705.7L1279.9 708.7L1280.1 711.7L1280.3 714.7L1280.5 717.7L1280.7 720.7L1281.0 723.7L1281.2 726.6L1281.5 729.6L1281.8 732.6L1282.0 735.5L1282.3 738.5L1282.6 741.5L1282.9 744.4L1283.2 747.4L1283.6 750.3L1283.9 753.3L1284.2 756.3L1284.6 759.2L1284.9 762.2L1285.3 765.2L1285.6 768.2L1286.0 771.2L1286.4 774.2L1286.7 777.2L1287.1 780.2L1287.5 783.3L1287.9 786.3L1288.2 789.4L1288.6 792.4L1289.0 795.5L1289.3 798.5L1289.6 801.6L1290.0 804.6L1290.3 807.7L1290.6 810.7L1290.9 813.8L1291.2 816.8L1291.5 819.9L1291.7 822.9L1291.9 825.9L1292.1 829.0L1292.3 832.0L1292.5 835.0L1292.6 838.0L1292.7 841.0L1292.8 844.0L1292.9 847.0L1292.9 849.9" fill="none" stroke="#808080" stroke-width="5.6" stroke-dasharray="5.6 9.2" stroke-linejoin="round"/>
<path d="M1187.7 849.9L1188.2 846.9L1188.7 843.9L1189.2 841.0L1189.7 838.0L1190.3 835.1L1190.9 832.1L1191.5 829.1L1192.1 826.2L1192.8 823.2L1193.4 820.3L1194.1 817.3L1194.8 814.4L1195.5 811.4L1196.2 808.5L1196.9 805.6L1197.7 802.6L1198.4 799.7L1199.2 796.7L1200.0 793.8L1200.8 790.9L1201.6 787.9L1202.4 785.0L1203.2 782.1L1204.0 779.2L1204.8 776.2L1205.7 773.3L1206.5 770.4L1207.4 767.5L1208.2 764.6L1209.1 761.6L1209.9 758.7L1210.8 755.8L1211.7 752.9L1212.5 750.0L1213.4 747.1L1214.3 744.2L1215.2 741.2L1216.0 738.3L1216.9 735.4L1217.8 732.5L1218.6 729.6L1219.5 726.7L1220.3 723.8L1221.2 720.9L1222.0 718.0L1222.9 715.1L1223.7 712.2L1224.5 709.3L1225.3 706.4L1226.1 703.5L1226.9 700.6L1227.7 697.7L1228.5 694.8L1229.3 691.9L1230.0 689.0L1230.8 686.0L1231.5 683.1L1232.2 680.2L1232.9 677.3L1233.6 674.4L1234.3 671.5L1234.9 668.6L1235.6 665.7L1236.3 662.8L1237.0 659.9L1237.7 656.9L1238.4 654.0L1239.2 651.1L1240.0 648.1L1240.9 645.1L1241.8 642.2L1242.7 639.2L1243.8 636.1L1244.9 633.1L1246.0 630.1L1247.3 627.0L1248.6 623.9L1250.1 620.8L1251.6 617.7L1253.2 614.5L1255.0 611.4L1256.8 608.4L1258.7 605.5L1260.6 602.9L1262.5 600.7L1264.5 598.9L1266.5 597.5L1268.4 596.8L1270.3 596.7L1272.1 597.3L1273.8 598.6L1275.5 600.4L1277.1 602.5L1278.6 604.9L1280.0 607.4L1281.4 610.0L1282.7 612.5L1283.9 615.2L1285.0 617.9L1286.1 620.6L1287.1 623.3L1288.1 626.1L1288.9 628.9L1289.8 631.8L1290.5 634.7L1291.3 637.6L1291.9 640.5L1292.5 643.5L1293.1 646.5L1293.7 649.5L1294.1 652.6L1294.6 655.6L1295.0 658.7L1295.4 661.8L1295.8 664.9L1296.1 668.0L1296.4 671.1L1296.7 674.2L1297.0 677.4L1297.2 680.5L1297.4 683.7L1297.7 686.8L1297.9 690.0L1298.1 693.1L1298.3 696.2L1298.5 699.4L1298.7 702.5L1298.9 705.6L1299.1 708.7L1299.3 711.8L1299.6 714.9L1299.8 717.9L1300.1 721.0L1300.3 724.0L1300.6 727.0L1300.9 730.1L1301.1 733.1L1301.4 736.1L1301.7 739.0L1302.0 742.0L1302.3 745.0L1302.6 748.0L1302.9 750.9L1303.3 753.9L1303.6 756.8L1303.9 759.8L1304.2 762.7L1304.5 765.7L1304.8 768.6L1305.2 771.6L1305.5 774.5L1305.8 777.4L1306.1 780.4L1306.4 783.3L1306.7 786.3L1307.0 789.2L1307.3 792.2L1307.6 795.2L1307.8 798.1L1308.1 801.1L1308.4 804.1L1308.6 807.1L1308.9 810.1L1309.1 813.1L1309.3 816.1L1309.5 819.2L1309.7 822.2L1309.9 825.3L1310.1 828.4L1310.3 831.5L1310.4 834.6L1310.6 837.7L1310.7 840.8L1310.8 844.0L1310.9 847.1L1310.9 850.3" fill="none" stroke="#008000" stroke-width="5.6" stroke-dasharray="5.6 9.2" stroke-linejoin="round"/>
<path d="M1207.0 850.5L1207.4 847.3L1207.8 844.1L1208.2 840.9L1208.7 837.7L1209.1 834.6L1209.6 831.4L1210.1 828.3L1210.6 825.3L1211.1 822.2L1211.6 819.1L1212.2 816.1L1212.7 813.1L1213.3 810.1L1213.9 807.1L1214.5 804.2L1215.1 801.2L1215.7 798.3L1216.4 795.4L1217.0 792.5L1217.7 789.6L1218.4 786.7L1219.1 783.8L1219.8 780.9L1220.5 778.1L1221.2 775.2L1221.9 772.4L1222.7 769.5L1223.4 766.7L1224.2 763.9L1225.0 761.0L1225.8 758.2L1226.6 755.4L1227.4 752.6L1228.2 749.7L1229.0 746.9L1229.8 744.1L1230.6 741.3L1231.5 738.4L1232.3 735.6L1233.2 732.8L1234.0 729.9L1234.9 727.1L1235.8 724.2L1236.6 721.3L1237.5 718.5L1238.4 715.6L1239.3 712.7L1240.2 709.8L1241.1 706.9L1242.0 704.0L1242.9 701.0L1243.8 698.1L1244.7 695.1L1245.6 692.1L1246.5 689.1L1247.4 686.1L1248.4 683.1L1249.3 680.0L1250.2 677.0L1251.1 673.9L1252.0 670.8L1253.0 667.6L1253.9 664.5L1254.8 661.3L1255.7 658.1L1256.7 654.9L1257.6 651.8L1258.7 648.7L1259.7 645.6L1260.9 642.7L1262.1 639.9L1263.4 637.3L1264.9 634.8L1266.4 632.5L1268.1 630.5L1270.0 628.7L1272.1 627.2L1274.3 626.0L1276.6 625.1L1279.1 624.6L1281.6 624.4L1284.1 624.6L1286.4 625.3L1288.6 626.3L1290.6 627.8L1292.4 629.8L1294.0 632.0L1295.3 634.6L1296.5 637.4L1297.6 640.4L1298.5 643.6L1299.3 646.9L1300.0 650.2L1300.6 653.5L1301.1 656.8L1301.5 660.0L1301.9 663.2L1302.2 666.4L1302.6 669.5L1303.0 672.5L1303.4 675.6L1303.8 678.6L1304.2 681.6L1304.6 684.6L1305.0 687.6L1305.5 690.5L1305.9 693.5L1306.4 696.4L1306.8 699.3L1307.3 702.3L1307.7 705.2L1308.2 708.1L1308.6 711.1L1309.0 714.0L1309.4 716.9L1309.8 719.9L1310.2 722.9L1310.6 725.8L1311.0 728.8L1311.4 731.8L1311.7 734.8L1312.1 737.8L1312.4 740.8L1312.7 743.8L1313.1 746.9L1313.4 749.9L1313.7 752.9L1313.9 755.9L1314.2 759.0L1314.5 762.0L1314.8 765.1L1315.0 768.1L1315.3 771.2L1315.5 774.2L1315.7 777.3L1315.9 780.3L1316.1 783.4L1316.3 786.4L1316.5 789.5L1316.7 792.5L1316.9 795.6L1317.1 798.7L1317.2 801.7L1317.4 804.7L1317.5 807.8L1317.7 810.8L1317.8 813.9L1317.9 816.9L1318.0 819.9L1318.1 823.0L1318.2 826.0L1318.3 829.0L1318.4 832.0L1318.5 835.0L1318.6 838.0L1318.7 841.0L1318.7 844.0L1318.8 846.9L1318.8 849.9" fill="none" stroke="#ff0000" stroke-width="5.6" stroke-dasharray="5.6 9.2" stroke-linejoin="round"/>
<path d="M1209.9 850.5L1210.4 847.3L1210.8 844.1L1211.2 840.9L1211.7 837.7L1212.2 834.6L1212.7 831.4L1213.2 828.3L1213.7 825.2L1214.2 822.2L1214.8 819.1L1215.3 816.1L1215.9 813.1L1216.5 810.1L1217.1 807.1L1217.7 804.2L1218.3 801.2L1218.9 798.3L1219.6 795.3L1220.2 792.4L1220.9 789.5L1221.5 786.6L1222.2 783.7L1222.9 780.9L1223.6 778.0L1224.3 775.1L1225.0 772.3L1225.8 769.4L1226.5 766.6L1227.2 763.7L1228.0 760.9L1228.8 758.1L1229.5 755.2L1230.3 752.4L1231.1 749.6L1231.9 746.7L1232.7 743.9L1233.5 741.1L1234.4 738.2L1235.2 735.4L1236.0 732.5L1236.9 729.7L1237.7 726.8L1238.6 724.0L1239.5 721.1L1240.4 718.2L1241.2 715.3L1242.1 712.4L1243.0 709.5L1243.9 706.6L1244.8 703.7L1245.7 700.7L1246.7 697.8L1247.6 694.8L1248.5 691.8L1249.5 688.8L1250.4 685.8L1251.3 682.7L1252.3 679.7L1253.3 676.6L1254.2 673.5L1255.2 670.4L1256.1 667.3L1257.1 664.1L1258.1 660.9L1259.1 657.7L1260.1 654.6L1261.1 651.4L1262.2 648.4L1263.4 645.4L1264.6 642.5L1265.9 639.8L1267.4 637.3L1268.9 635.0L1270.6 633.0L1272.4 631.2L1274.4 629.7L1276.6 628.5L1279.0 627.7L1281.4 627.3L1283.9 627.2L1286.4 627.5L1288.8 628.2L1291.0 629.3L1293.1 630.8L1294.9 632.7L1296.6 635.0L1298.0 637.5L1299.3 640.3L1300.4 643.3L1301.4 646.4L1302.3 649.6L1303.0 652.9L1303.6 656.2L1304.1 659.5L1304.6 662.7L1305.0 665.9L1305.3 669.1L1305.7 672.2L1306.0 675.3L1306.4 678.3L1306.8 681.4L1307.2 684.4L1307.6 687.4L1308.1 690.4L1308.5 693.3L1308.9 696.3L1309.4 699.2L1309.8 702.2L1310.2 705.1L1310.7 708.0L1311.1 711.0L1311.6 713.9L1312.0 716.8L1312.4 719.8L1312.8 722.7L1313.2 725.7L1313.6 728.7L1314.0 731.7L1314.3 734.7L1314.7 737.7L1315.0 740.7L1315.4 743.7L1315.7 746.7L1316.0 749.7L1316.3 752.8L1316.6 755.8L1316.9 758.8L1317.2 761.9L1317.5 764.9L1317.8 768.0L1318.0 771.0L1318.3 774.1L1318.5 777.1L1318.7 780.2L1319.0 783.3L1319.2 786.3L1319.4 789.4L1319.6 792.4L1319.8 795.5L1319.9 798.5L1320.1 801.6L1320.3 804.7L1320.4 807.7L1320.6 810.8L1320.7 813.8L1320.9 816.8L1321.0 819.9L1321.1 822.9L1321.2 825.9L1321.3 829.0L1321.4 832.0L1321.5 835.0L1321.6 838.0L1321.7 841.0L1321.7 844.0L1321.8 846.9L1321.8 849.9" fill="none" stroke="#ffa500" stroke-width="5.6" stroke-dasharray="5.6 9.2" stroke-linejoin="round"/>
<path d="M1189.7 849.8L1190.6 846.9L1191.4 844.0L1192.2 841.1L1193.1 838.2L1193.9 835.2L1194.7 832.3L1195.4 829.3L1196.2 826.4L1197.0 823.4L1197.8 820.5L1198.5 817.5L1199.3 814.5L1200.1 811.6L1200.8 808.6L1201.6 805.6L1202.3 802.6L1203.1 799.6L1203.8 796.6L1204.6 793.6L1205.4 790.7L1206.1 787.7L1206.9 784.7L1207.6 781.7L1208.4 778.7L1209.2 775.7L1210.0 772.7L1210.8 769.7L1211.5 766.7L1212.3 763.7L1213.2 760.7L1214.0 757.7L1214.8 754.7L1215.6 751.8L1216.5 748.8L1217.4 745.8L1218.2 742.8L1219.1 739.9L1220.0 736.9L1220.9 734.0L1221.9 731.0L1222.8 728.1L1223.8 725.2L1224.8 722.3L1225.8 719.4L1226.8 716.4L1227.8 713.6L1228.9 710.7L1229.9 707.8L1231.0 704.9L1232.2 702.1L1233.3 699.2L1234.5 696.4L1235.7 693.6L1236.9 690.8L1238.1 688.0L1239.4 685.2L1240.7 682.5L1242.0 679.7L1243.4 677.0L1244.8 674.3L1246.2 671.6L1247.6 668.9L1249.1 666.2L1250.6 663.5L1252.1 660.9L1253.7 658.3L1255.3 655.7L1256.9 653.1L1258.6 650.5L1260.3 648.0L1262.0 645.4L1263.8 642.9L1265.6 640.5L1267.5 638.0L1269.4 635.5" fill="none" stroke="#ff0000" stroke-width="5.6" stroke-dasharray="5.6 9.2" stroke-linejoin="round"/>
<path d="M1192.7 849.7L1193.5 846.9L1194.4 844.0L1195.2 841.1L1196.1 838.2L1196.9 835.4L1197.7 832.5L1198.5 829.5L1199.3 826.6L1200.0 823.7L1200.8 820.8L1201.6 817.8L1202.3 814.9L1203.1 811.9L1203.9 809.0L1204.6 806.0L1205.4 803.0L1206.1 800.0L1206.8 797.1L1207.6 794.1L1208.3 791.1L1209.1 788.1L1209.8 785.1L1210.6 782.2L1211.3 779.2L1212.1 776.2L1212.9 773.2L1213.6 770.2L1214.4 767.2L1215.2 764.2L1216.0 761.3L1216.8 758.3L1217.6 755.3L1218.4 752.3L1219.3 749.4L1220.1 746.4L1221.0 743.5L1221.8 740.5L1222.7 737.6L1223.6 734.6L1224.5 731.7L1225.5 728.8L1226.4 725.9L1227.4 722.9L1228.4 720.1L1229.4 717.2L1230.4 714.3L1231.4 711.4L1232.5 708.6L1233.6 705.7L1234.7 702.9L1235.8 700.1L1237.0 697.3L1238.2 694.5L1239.4 691.7L1240.6 688.9L1241.9 686.2L1243.2 683.4L1244.5 680.7L1245.8 678.0L1247.2 675.3L1248.6 672.6L1250.1 670.0L1251.6 667.3L1253.1 664.7L1254.6 662.1L1256.2 659.6L1257.8 657.0L1259.5 654.5L1261.2 651.9L1262.9 649.4L1264.7 647.0L1266.5 644.5L1268.3 642.1L1270.2 639.7L1272.1 637.3" fill="none" stroke="#ffa500" stroke-width="5.6" stroke-dasharray="5.6 9.2" stroke-linejoin="round"/>
<path d="M1225.9 850.2L1226.3 847.1L1226.8 844.0L1227.2 840.9L1227.7 837.9L1228.2 834.8L1228.7 831.8L1229.3 828.8L1229.8 825.8L1230.4 822.8L1231.0 819.8L1231.6 816.8L1232.2 813.9L1232.9 810.9L1233.5 808.0L1234.2 805.1L1234.9 802.1L1235.6 799.2L1236.3 796.3L1237.0 793.4L1237.7 790.5L1238.5 787.6L1239.2 784.7L1240.0 781.9L1240.8 779.0L1241.6 776.1L1242.4 773.3L1243.2 770.4L1244.1 767.5L1244.9 764.7L1245.7 761.8L1246.6 759.0L1247.5 756.1L1248.3 753.2L1249.2 750.4L1250.1 747.5L1251.0 744.7L1251.9 741.8L1252.9 738.9L1253.8 736.1L1254.7 733.2L1255.7 730.3L1256.6 727.4L1257.5 724.5L1258.5 721.6L1259.5 718.7L1260.4 715.8L1261.4 712.9L1262.4 710.0L1263.3 707.1L1264.3 704.1L1265.3 701.2L1266.3 698.2L1267.3 695.2L1268.3 692.2L1269.2 689.3L1270.3 686.3L1271.3 683.3L1272.4 680.3L1273.5 677.4L1274.8 674.5L1276.1 671.6L1277.6 668.9L1279.2 666.2L1281.0 663.6L1282.9 661.0L1285.0 658.7L1287.3 656.6L1289.6 655.0L1291.9 654.1L1294.1 654.1L1296.2 655.0L1298.2 656.5L1300.1 658.4L1301.8 660.5L1303.5 662.7L1305.0 665.0L1306.4 667.4L1307.7 669.8L1308.9 672.4L1310.0 675.0L1311.0 677.6L1311.9 680.4L1312.8 683.1L1313.5 686.0L1314.2 688.9L1314.8 691.9L1315.4 694.8L1315.9 697.9L1316.3 701.0L1316.7 704.1L1317.1 707.2L1317.4 710.3L1317.7 713.5L1318.0 716.7L1318.2 719.9L1318.4 723.1L1318.6 726.3L1318.8 729.5L1319.0 732.7L1319.1 735.9L1319.3 739.1L1319.5 742.2L1319.7 745.3L1320.0 748.4L1320.2 751.5L1320.5 754.6L1320.8 757.6L1321.1 760.6L1321.4 763.6L1321.7 766.5L1322.0 769.5L1322.4 772.4L1322.7 775.3L1323.1 778.3L1323.5 781.2L1323.8 784.1L1324.2 786.9L1324.6 789.8L1324.9 792.7L1325.3 795.6L1325.6 798.5L1326.0 801.4L1326.3 804.3L1326.6 807.3L1326.9 810.2L1327.2 813.1L1327.5 816.1L1327.7 819.1L1328.0 822.1L1328.2 825.1L1328.4 828.2L1328.5 831.2L1328.7 834.4L1328.8 837.5L1328.9 840.7L1328.9 843.9L1328.9 847.1L1328.9 850.4" fill="none" stroke="#0000ff" stroke-width="5.6" stroke-dasharray="5.6 9.2" stroke-linejoin="round"/>
<path d="M1150.1 849.1L1152.0 846.6L1153.9 844.1L1155.8 841.6L1157.8 839.1L1159.8 836.7L1161.8 834.3L1163.8 831.9L1165.8 829.6L1167.9 827.3L1170.0 825.0L1172.1 822.7L1174.2 820.5L1176.3 818.3L1178.5 816.1L1180.7 814.0L1182.9 811.9L1185.1 809.8L1187.4 807.7L1189.6 805.7L1191.9 803.7L1194.2 801.7L1196.6 799.7L1198.9 797.8L1201.3 795.9L1203.6 794.1L1206.0 792.2L1208.5 790.4L1210.9 788.6L1213.3 786.9L1215.8 785.1L1218.3 783.4L1220.8 781.8L1223.3 780.1L1225.8 778.5L1228.4 776.9L1230.9 775.4L1233.5 773.8L1236.1 772.3L1238.7 770.8L1241.3 769.4L1244.0 768.0L1246.6 766.6L1249.3 765.2L1252.0 763.8L1254.6 762.5L1257.3 761.2L1260.1 760.0L1262.8 758.7L1265.5 757.5L1268.3 756.3L1271.0 755.2L1273.8 754.1L1276.6 752.9L1279.4 751.9L1282.2 750.8L1285.0 749.8L1287.8 748.8L1290.7 747.8L1293.5 746.9L1296.4 746.0L1299.2 745.1L1302.1 744.2L1305.0 743.4L1307.9 742.6L1310.8 741.8L1313.7 741.1L1316.6 740.3L1319.5 739.6L1322.4 739.0L1325.4 738.3L1328.3 737.7L1331.3 737.1L1334.2 736.5L1337.2 736.0L1340.1 735.5L1343.1 735.0L1346.1 734.5L1349.1 734.1L1352.0 733.7L1355.0 733.3L1358.0 732.9L1361.0 732.6L1364.0 732.3L1367.0 732.0L1370.0 731.8L1373.0 731.5L1376.0 731.3L1379.1 731.2L1382.1 731.0L1385.1 730.9L1388.1 730.8L1391.1 730.7L1394.2 730.7L1397.2 730.7L1400.2 730.7L1403.2 730.7L1406.3 730.7L1409.3 730.8L1412.3 730.9L1415.3 731.1L1418.4 731.2L1421.4 731.4L1424.4 731.6L1427.4 731.9L1430.4 732.1L1433.5 732.4L1436.5 732.7L1439.5 733.0L1442.5 733.4L1445.5 733.7L1448.5 734.1L1451.5 734.5L1454.5 734.9L1457.5 735.3L1460.6 735.8L1463.6 736.2L1466.6 736.7L1469.6 737.1L1472.6 737.6L1475.6 738.1L1478.6 738.6L1481.6 739.1L1484.6 739.6L1487.6 740.1L1490.6 740.7L1493.6 741.2L1496.6 741.7L1499.6 742.2L1502.6 742.8L1505.6 743.3L1508.5 743.8L1511.5 744.3L1514.5 744.8L1517.5 745.4L1520.5 745.9L1523.5 746.4L1526.5 746.9L1529.5 747.4L1532.5 747.9L1535.4 748.4L1538.4 748.8L1541.4 749.3L1544.4 749.8L1547.4 750.3L1550.4 750.8L1553.4 751.2L1556.3 751.7L1559.3 752.2L1562.3 752.6L1565.3 753.1L1568.3 753.5L1571.3 754.0L1574.2 754.4L1577.2 754.8L1580.2 755.3L1583.2 755.7L1586.2 756.1L1589.1 756.6L1592.1 757.0L1595.1 757.4L1598.1 757.8L1601.1 758.2L1604.1 758.6L1607.0 759.0L1610.0 759.4L1613.0 759.8L1616.0 760.2L1619.0 760.6L1621.9 761.0L1624.9 761.4L1627.9 761.7L1630.9 762.1L1633.9 762.5L1636.9 762.8L1639.9 763.2L1642.8 763.6L1645.8 763.9L1648.8 764.3L1651.8 764.6L1654.8 765.0L1657.8 765.4L1660.8 765.7L1663.8 766.1L1666.7 766.4L1669.7 766.7L1672.7 767.1L1675.7 767.4L1678.7 767.8L1681.7 768.1L1684.7 768.5L1687.7 768.8L1690.7 769.2L1693.7 769.5L1696.7 769.8L1699.7 770.2L1702.7 770.5L1705.7 770.9L1708.7 771.2L1711.7 771.6L1714.7 771.9L1717.7 772.3L1720.7 772.6L1723.7 773.0L1726.7 773.4L1729.7 773.7L1732.7 774.1L1735.7 774.4L1738.8 774.8L1741.8 775.2L1744.8 775.6L1747.8 775.9L1750.8 776.3L1753.8 776.7L1756.8 777.1L1759.9 777.5L1762.9 777.9L1765.9 778.3L1768.9 778.7L1772.0 779.1L1775.0 779.6L1778.0 780.0L1781.0 780.4L1784.1 780.9L1787.1 781.3L1790.1 781.8L1793.1 782.2L1796.1 782.7L1799.1 783.2L1802.2 783.7L1805.2 784.2L1808.2 784.8L1811.2 785.3L1814.2 785.8L1817.2 786.4L1820.1 787.0L1823.1 787.6L1826.1 788.2L1829.1 788.9L1832.0 789.5L1835.0 790.2L1837.9 790.9L1840.9 791.6L1843.8 792.3L1846.7 793.0L1849.6 793.8L1852.5 794.6L1855.4 795.4L1858.3 796.2L1861.2 797.1L1864.1 798.0L1866.9 798.9L1869.8 799.8L1872.6 800.8L1875.4 801.8L1878.2 802.8L1881.0 803.8L1883.8 804.9L1886.6 806.0L1889.3 807.1L1892.1 808.3L1894.8 809.4L1897.5 810.7L1900.2 811.9L1902.9 813.2L1905.5 814.5L1908.2 815.8L1910.8 817.2L1913.4 818.6L1916.0 820.1L1918.6 821.6L1921.2 823.1L1923.7 824.7L1926.2 826.3L1928.7 827.9L1931.2 829.6L1933.7 831.3L1936.1 833.1L1938.5 834.8L1940.9 836.7L1943.3 838.6" fill="none" stroke="#008000" stroke-width="5.6" stroke-dasharray="35.8 9.0 5.6 9.0" stroke-linejoin="round"/>
<path d="M1132.5 849.7L1133.9 847.0L1135.3 844.3L1136.7 841.6L1138.1 839.0L1139.5 836.3L1140.9 833.6L1142.3 831.0L1143.8 828.3L1145.2 825.7L1146.6 823.0L1148.0 820.4L1149.5 817.7L1150.9 815.1L1152.3 812.5L1153.8 809.8L1155.2 807.2L1156.6 804.6L1158.1 802.0L1159.5 799.3L1161.0 796.7L1162.4 794.1L1163.9 791.5L1165.3 788.9L1166.8 786.2L1168.2 783.6L1169.7 781.0L1171.1 778.4L1172.5 775.8L1174.0 773.2L1175.4 770.5L1176.9 767.9L1178.3 765.3L1179.8 762.7L1181.2 760.1L1182.7 757.4L1184.1 754.8L1185.6 752.2L1187.0 749.5L1188.4 746.9L1189.9 744.2L1191.3 741.6L1192.7 738.9L1194.2 736.3L1195.6 733.6L1197.0 730.9L1198.5 728.3L1199.9 725.6L1201.3 722.9L1202.7 720.2L1204.1 717.5L1205.5 714.8L1206.9 712.1L1208.3 709.3L1209.8 706.6L1211.2 703.9L1212.6 701.1L1214.0 698.4L1215.4 695.7L1216.8 692.9L1218.2 690.2L1219.6 687.5L1221.1 684.7L1222.5 682.0L1224.0 679.3L1225.5 676.6L1227.0 674.0L1228.5 671.3L1230.0 668.6L1231.5 666.0L1233.1 663.4L1234.7 660.8L1236.3 658.2L1238.0 655.7L1239.6 653.2L1241.3 650.7L1243.1 648.2L1244.8 645.8L1246.6 643.4L1248.4 641.1L1250.3 638.7L1252.2 636.4L1254.1 634.2L1256.1 632.0L1258.1 629.8L1260.2 627.7L1262.3 625.6L1264.4 623.6L1266.6 621.6L1268.8 619.6L1271.0 617.7L1273.3 615.9L1275.6 614.1L1277.9 612.3L1280.3 610.6L1282.7 608.9L1285.1 607.3L1287.6 605.7L1290.1 604.2L1292.6 602.7L1295.2 601.3L1297.8 599.9L1300.4 598.6L1303.0 597.4L1305.7 596.2L1308.4 595.0L1311.1 593.9L1313.8 592.9L1316.6 591.9L1319.4 591.0L1322.2 590.2L1325.0 589.4L1327.9 588.6L1330.7 587.9L1333.6 587.3L1336.5 586.7L1339.5 586.2L1342.4 585.7L1345.4 585.2L1348.3 584.8L1351.3 584.5L1354.3 584.2L1357.3 583.9L1360.4 583.6L1363.4 583.4L1366.4 583.3L1369.5 583.2L1372.6 583.1L1375.6 583.0L1378.7 583.0L1381.8 583.0L1384.9 583.0L1388.0 583.0L1391.1 583.1L1394.1 583.2L1397.2 583.3L1400.3 583.5L1403.4 583.6L1406.5 583.8L1409.6 584.0L1412.7 584.2L1415.8 584.4L1418.9 584.6L1422.0 584.8L1425.1 585.1L1428.1 585.3L1431.2 585.6L1434.3 585.8L1437.3 586.1L1440.4 586.4L1443.4 586.7L1446.5 587.0L1449.5 587.3L1452.6 587.6L1455.6 587.9L1458.6 588.2L1461.6 588.5L1464.7 588.9L1467.7 589.2L1470.7 589.5L1473.7 589.9L1476.7 590.3L1479.7 590.6L1482.7 591.0L1485.7 591.4L1488.7 591.7L1491.7 592.1L1494.7 592.5L1497.7 592.9L1500.7 593.3L1503.6 593.7L1506.6 594.1L1509.6 594.5L1512.6 594.9L1515.5 595.3L1518.5 595.8L1521.5 596.2L1524.4 596.6L1527.4 597.0L1530.4 597.5L1533.3 597.9L1536.3 598.3L1539.2 598.8L1542.2 599.2L1545.2 599.7L1548.1 600.1L1551.1 600.6L1554.0 601.0L1557.0 601.5L1559.9 601.9L1562.9 602.4L1565.8 602.8L1568.8 603.3L1571.7 603.8L1574.7 604.2L1577.6 604.7L1580.6 605.1L1583.5 605.6L1586.5 606.1L1589.4 606.5L1592.3 607.0L1595.3 607.4L1598.2 607.9L1601.2 608.4L1604.1 608.8L1607.1 609.3L1610.1 609.7L1613.0 610.2L1616.0 610.6L1618.9 611.1L1621.9 611.5L1624.8 612.0L1627.8 612.4L1630.8 612.9L1633.7 613.3L1636.7 613.7L1639.7 614.2L1642.6 614.6L1645.6 615.1L1648.6 615.5L1651.5 615.9L1654.5 616.3L1657.5 616.8L1660.4 617.2L1663.4 617.6L1666.4 618.1L1669.4 618.5L1672.4 618.9L1675.3 619.3L1678.3 619.7L1681.3 620.2L1684.3 620.6L1687.3 621.0L1690.2 621.4L1693.2 621.8L1696.2 622.2L1699.2 622.7L1702.2 623.1L1705.2 623.5L1708.2 623.9L1711.1 624.3L1714.1 624.7L1717.1 625.2L1720.1 625.6L1723.1 626.0L1726.1 626.4L1729.1 626.8L1732.1 627.2L1735.1 627.6L1738.1 628.1L1741.1 628.5L1744.0 628.9L1747.0 629.3L1750.0 629.7L1753.0 630.2L1756.0 630.6L1759.0 631.0L1762.0 631.4L1765.0 631.8L1768.0 632.3L1771.0 632.7L1774.0 633.1L1777.0 633.5L1780.0 634.0L1782.9 634.4L1785.9 634.8L1788.9 635.3L1791.9 635.7L1794.9 636.1L1797.9 636.6L1800.9 637.0L1803.9 637.5L1806.9 637.9L1809.9 638.4L1812.8 638.8L1815.8 639.3L1818.8 639.7L1821.8 640.2L1824.8 640.6L1827.8 641.1L1830.8 641.5L1833.7 642.0L1836.7 642.5L1839.7 642.9L1842.7 643.4L1845.7 643.9L1848.7 644.4L1851.6 644.9L1854.6 645.3L1857.6 645.8L1860.6 646.3L1863.5 646.8L1866.5 647.3L1869.5 647.8L1872.5 648.3L1875.4 648.8L1878.4 649.3L1881.4 649.9L1884.3 650.4L1887.3 650.9L1890.3 651.4L1893.2 651.9L1896.2 652.5L1899.1 653.0L1902.1 653.6L1905.0 654.1L1908.0 654.7L1911.0 655.2L1913.9 655.8L1916.9 656.3L1919.8 656.9L1922.8 657.5L1925.7 658.1L1928.6 658.6L1931.6 659.2L1934.5 659.8L1937.5 660.4L1940.4 661.0L1943.3 661.6L1946.3 662.2L1949.2 662.8L1952.1 663.5L1955.0 664.1L1958.0 664.7" fill="none" stroke="#ffa500" stroke-width="5.6" stroke-dasharray="35.8 9.0 5.6 9.0" stroke-linejoin="round"/>
<path d="M1127.4 849.8L1128.8 847.0L1130.2 844.3L1131.6 841.5L1133.0 838.8L1134.5 836.1L1135.9 833.4L1137.3 830.7L1138.7 828.0L1140.1 825.3L1141.6 822.7L1143.0 820.0L1144.4 817.4L1145.9 814.7L1147.3 812.1L1148.7 809.4L1150.2 806.8L1151.6 804.2L1153.0 801.6L1154.5 798.9L1155.9 796.3L1157.4 793.7L1158.8 791.1L1160.2 788.5L1161.7 785.9L1163.1 783.3L1164.6 780.7L1166.0 778.1L1167.4 775.5L1168.9 772.9L1170.3 770.3L1171.8 767.7L1173.2 765.1L1174.6 762.5L1176.1 759.9L1177.5 757.3L1178.9 754.7L1180.4 752.1L1181.8 749.5L1183.2 746.8L1184.7 744.2L1186.1 741.6L1187.5 738.9L1188.9 736.3L1190.4 733.7L1191.8 731.0L1193.2 728.3L1194.6 725.7L1196.0 723.0L1197.4 720.3L1198.8 717.6L1200.2 714.9L1201.6 712.2L1203.0 709.5L1204.4 706.7L1205.8 704.0L1207.2 701.2L1208.6 698.5L1210.0 695.7L1211.4 693.0L1212.8 690.2L1214.2 687.4L1215.7 684.7L1217.1 681.9L1218.5 679.1L1219.9 676.4L1221.4 673.6L1222.8 670.9L1224.3 668.1L1225.7 665.4L1227.2 662.6L1228.7 659.9L1230.2 657.2L1231.7 654.5L1233.2 651.8L1234.8 649.1L1236.3 646.5L1237.9 643.8L1239.5 641.2L1241.1 638.6L1242.7 636.0L1244.4 633.4L1246.1 630.9L1247.8 628.4L1249.5 625.9L1251.2 623.4L1253.0 620.9L1254.8 618.5L1256.6 616.1L1258.4 613.7L1260.3 611.4L1262.2 609.1L1264.1 606.8L1266.0 604.6L1268.0 602.4L1270.0 600.2L1272.1 598.1L1274.2 596.0L1276.3 593.9L1278.4 591.9L1280.6 589.9L1282.8 587.9L1285.1 586.0L1287.4 584.2L1289.7 582.4L1292.0 580.6L1294.4 578.9L1296.8 577.2L1299.2 575.6L1301.7 574.0L1304.2 572.5L1306.7 571.0L1309.3 569.6L1311.8 568.2L1314.4 566.9L1317.1 565.6L1319.7 564.4L1322.4 563.2L1325.1 562.1L1327.8 561.1L1330.5 560.1L1333.3 559.2L1336.1 558.3L1338.9 557.5L1341.7 556.7L1344.5 556.0L1347.4 555.3L1350.2 554.7L1353.1 554.2L1356.0 553.7L1358.9 553.2L1361.9 552.8L1364.8 552.5L1367.8 552.2L1370.8 551.9L1373.7 551.7L1376.7 551.5L1379.7 551.3L1382.8 551.2L1385.8 551.1L1388.8 551.1L1391.9 551.1L1394.9 551.1L1398.0 551.2L1401.0 551.3L1404.1 551.4L1407.2 551.5L1410.2 551.7L1413.3 551.9L1416.4 552.1L1419.5 552.3L1422.6 552.6L1425.7 552.9L1428.8 553.2L1431.9 553.5L1434.9 553.8L1438.0 554.1L1441.1 554.5L1444.2 554.8L1447.3 555.2L1450.4 555.6L1453.4 556.0L1456.5 556.4L1459.5 556.8L1462.6 557.2L1465.6 557.6L1468.7 558.0L1471.7 558.4L1474.8 558.9L1477.8 559.3L1480.8 559.7L1483.8 560.1L1486.8 560.6L1489.8 561.0L1492.9 561.5L1495.9 561.9L1498.8 562.4L1501.8 562.8L1504.8 563.3L1507.8 563.7L1510.8 564.2L1513.8 564.6L1516.8 565.1L1519.7 565.6L1522.7 566.0L1525.7 566.5L1528.6 567.0L1531.6 567.4L1534.6 567.9L1537.5 568.4L1540.5 568.9L1543.4 569.3L1546.4 569.8L1549.3 570.3L1552.3 570.8L1555.3 571.2L1558.2 571.7L1561.2 572.2L1564.1 572.7L1567.1 573.1L1570.0 573.6L1573.0 574.1L1575.9 574.6L1578.9 575.0L1581.8 575.5L1584.8 576.0L1587.7 576.4L1590.7 576.9L1593.6 577.4L1596.6 577.8L1599.5 578.3L1602.5 578.8L1605.4 579.2L1608.4 579.7L1611.4 580.1L1614.3 580.6L1617.3 581.0L1620.2 581.5L1623.2 581.9L1626.2 582.4L1629.1 582.8L1632.1 583.2L1635.1 583.7L1638.1 584.1L1641.0 584.6L1644.0 585.0L1647.0 585.4L1650.0 585.9L1652.9 586.3L1655.9 586.7L1658.9 587.2L1661.9 587.6L1664.8 588.0L1667.8 588.4L1670.8 588.9L1673.8 589.3L1676.8 589.7L1679.8 590.1L1682.7 590.5L1685.7 591.0L1688.7 591.4L1691.7 591.8L1694.7 592.2L1697.7 592.6L1700.7 593.0L1703.7 593.4L1706.6 593.9L1709.6 594.3L1712.6 594.7L1715.6 595.1L1718.6 595.5L1721.6 595.9L1724.6 596.3L1727.6 596.7L1730.6 597.1L1733.6 597.5L1736.6 597.9L1739.6 598.3L1742.6 598.7L1745.6 599.1L1748.6 599.5L1751.6 599.9L1754.6 600.3L1757.6 600.7L1760.6 601.1L1763.6 601.5L1766.5 601.9L1769.5 602.3L1772.5 602.7L1775.5 603.1L1778.5 603.5L1781.5 603.9L1784.5 604.3L1787.5 604.7L1790.5 605.1L1793.5 605.5L1796.5 605.9L1799.5 606.3L1802.5 606.7L1805.5 607.1L1808.5 607.5L1811.5 607.9L1814.5 608.3L1817.5 608.7L1820.5 609.1L1823.5 609.5L1826.5 609.9L1829.5 610.3L1832.5 610.6L1835.5 611.0L1838.5 611.4L1841.5 611.8L1844.5 612.2L1847.5 612.6L1850.5 613.0L1853.5 613.4L1856.5 613.8L1859.5 614.2L1862.5 614.6L1865.5 615.0L1868.5 615.4L1871.5 615.8L1874.5 616.2L1877.4 616.7L1880.4 617.1L1883.4 617.5L1886.4 617.9L1889.4 618.3L1892.4 618.7L1895.4 619.1L1898.4 619.5L1901.4 619.9L1904.4 620.3L1907.3 620.7L1910.3 621.1L1913.3 621.6L1916.3 622.0L1919.3 622.4L1922.3 622.8L1925.2 623.2L1928.2 623.6L1931.2 624.1L1934.2 624.5L1937.2 624.9L1940.1 625.3L1943.1 625.8L1946.1 626.2L1949.1 626.6L1952.0 627.0L1955.0 627.5L1958.0 627.9" fill="none" stroke="#ff0000" stroke-width="5.6" stroke-dasharray="35.8 9.0 5.6 9.0" stroke-linejoin="round"/>
<path d="M1115.7 738.5L1117.1 735.8L1118.6 733.2L1120.0 730.5L1121.5 727.9L1123.0 725.2L1124.5 722.6L1126.0 720.0L1127.5 717.4L1129.0 714.7L1130.6 712.1L1132.1 709.5L1133.7 707.0L1135.3 704.4L1136.9 701.8L1138.5 699.2L1140.2 696.7L1141.8 694.1L1143.5 691.6L1145.2 689.1L1146.8 686.6L1148.6 684.1L1150.3 681.6L1152.0 679.1L1153.8 676.7L1155.5 674.2L1157.3 671.8L1159.1 669.4L1161.0 667.0L1162.8 664.6L1164.7 662.3L1166.5 659.9L1168.4 657.6L1170.4 655.3L1172.3 653.0L1174.2 650.7L1176.2 648.5L1178.2 646.2L1180.2 644.0L1182.2 641.8L1184.3 639.7L1186.4 637.5L1188.4 635.4L1190.6 633.3L1192.7 631.2L1194.8 629.2L1197.0 627.1L1199.2 625.1L1201.4 623.1L1203.6 621.2L1205.9 619.2L1208.1 617.3L1210.4 615.4L1212.7 613.5L1215.0 611.6L1217.4 609.8L1219.7 607.9L1222.1 606.1L1224.4 604.3L1226.8 602.5L1229.2 600.7L1231.6 598.9L1234.1 597.2L1236.5 595.4L1239.0 593.7L1241.4 592.0L1243.9 590.2L1246.4 588.5L1248.9 586.8L1251.3 585.1L1253.9 583.4L1256.4 581.7L1258.9 580.1L1261.4 578.4L1264.0 576.7L1266.5 575.0L1269.0 573.4L1271.6 571.7L1274.1 570.0L1276.7 568.4L1279.3 566.7L1281.8 565.0L1284.4 563.3L1287.0 561.7L1289.5 560.0L1292.1 558.3L1294.7 556.6L1297.3 554.9L1299.8 553.3L1302.4 551.6L1305.0 549.9L1307.6 548.2L1310.2 546.6L1312.8 544.9L1315.4 543.3L1318.0 541.6L1320.6 540.0L1323.2 538.4L1325.8 536.8L1328.4 535.2L1331.0 533.7L1333.7 532.1L1336.3 530.6L1338.9 529.1L1341.6 527.6L1344.2 526.2L1346.9 524.8L1349.6 523.4L1352.3 522.0L1354.9 520.7L1357.6 519.3L1360.3 518.1L1363.0 516.8L1365.8 515.6L1368.5 514.5L1371.2 513.3L1374.0 512.2L1376.7 511.2L1379.5 510.2L1382.3 509.2L1385.0 508.3L1387.8 507.4L1390.6 506.6L1393.5 505.8L1396.3 505.1L1399.1 504.4L1402.0 503.8L1404.8 503.2L1407.7 502.7L1410.6 502.3L1413.5 501.9L1416.4 501.6L1419.4 501.3L1422.3 501.1L1425.3 500.9L1428.2 500.8L1431.2 500.8L1434.2 500.8L1437.2 500.9L1440.2 501.0L1443.2 501.1L1446.3 501.3L1449.3 501.6L1452.3 501.8L1455.4 502.1L1458.4 502.4L1461.5 502.8L1464.5 503.1L1467.6 503.5L1470.7 503.9L1473.7 504.3L1476.8 504.7L1479.8 505.1L1482.9 505.5L1486.0 506.0L1489.0 506.4L1492.1 506.8L1495.1 507.2L1498.1 507.6L1501.2 508.0L1504.2 508.4L1507.2 508.8L1510.3 509.2L1513.3 509.5L1516.3 509.9L1519.3 510.3L1522.4 510.6L1525.4 511.0L1528.4 511.3L1531.4 511.7L1534.4 512.0L1537.4 512.4L1540.4 512.7L1543.4 513.0L1546.4 513.4L1549.4 513.7L1552.4 514.0L1555.4 514.4L1558.4 514.7L1561.4 515.0L1564.3 515.3L1567.3 515.7L1570.3 516.0L1573.3 516.3L1576.3 516.7L1579.3 517.0L1582.3 517.3L1585.3 517.6L1588.3 518.0L1591.3 518.3L1594.2 518.6L1597.2 519.0L1600.2 519.3L1603.2 519.6L1606.2 520.0L1609.2 520.3L1612.2 520.7L1615.2 521.0L1618.2 521.4L1621.2 521.7L1624.2 522.0L1627.1 522.4L1630.1 522.7L1633.1 523.1L1636.1 523.4L1639.1 523.8L1642.1 524.1L1645.1 524.5L1648.1 524.9L1651.1 525.2L1654.1 525.6L1657.1 525.9L1660.0 526.3L1663.0 526.6L1666.0 527.0L1669.0 527.4L1672.0 527.7L1675.0 528.1L1678.0 528.5L1681.0 528.8L1684.0 529.2L1687.0 529.6L1690.0 530.0L1693.0 530.3L1695.9 530.7L1698.9 531.1L1701.9 531.5L1704.9 531.8L1707.9 532.2L1710.9 532.6L1713.9 533.0L1716.9 533.4L1719.9 533.8L1722.9 534.2L1725.9 534.5L1728.8 534.9L1731.8 535.3L1734.8 535.7L1737.8 536.1L1740.8 536.5L1743.8 536.9L1746.8 537.3L1749.8 537.7L1752.8 538.1L1755.8 538.5L1758.8 538.9L1761.7 539.3L1764.7 539.7L1767.7 540.1L1770.7 540.5L1773.7 541.0L1776.7 541.4L1779.7 541.8L1782.7 542.2L1785.7 542.6L1788.6 543.0L1791.6 543.5L1794.6 543.9L1797.6 544.3L1800.6 544.7L1803.6 545.2L1806.6 545.6L1809.6 546.0L1812.5 546.5L1815.5 546.9L1818.5 547.3L1821.5 547.8L1824.5 548.2L1827.5 548.6L1830.5 549.1L1833.4 549.5L1836.4 550.0L1839.4 550.4L1842.4 550.9L1845.4 551.3L1848.4 551.8L1851.3 552.2L1854.3 552.7L1857.3 553.1L1860.3 553.6L1863.3 554.0L1866.2 554.5L1869.2 555.0L1872.2 555.4L1875.2 555.9L1878.2 556.3L1881.2 556.8L1884.1 557.3L1887.1 557.8L1890.1 558.2L1893.1 558.7L1896.0 559.2L1899.0 559.7L1902.0 560.1L1905.0 560.6L1908.0 561.1L1910.9 561.6L1913.9 562.1L1916.9 562.6L1919.9 563.1L1922.8 563.6L1925.8 564.0L1928.8 564.5L1931.8 565.0L1934.7 565.5L1937.7 566.0L1940.7 566.5L1943.6 567.0L1946.6 567.6" fill="none" stroke="#0000ff" stroke-width="5.6" stroke-dasharray="35.8 9.0 5.6 9.0" stroke-linejoin="round"/>
<path d="M1593.1 849.3L1594.4 846.7L1595.6 844.1L1596.9 841.5L1598.1 838.9L1599.3 836.2L1600.5 833.5L1601.7 830.8L1602.8 828.1L1604.0 825.4L1605.1 822.7L1606.3 820.0L1607.4 817.2L1608.5 814.4L1609.6 811.7L1610.7 808.9L1611.8 806.1L1612.9 803.3L1614.0 800.4L1615.1 797.6L1616.1 794.8L1617.2 791.9L1618.3 789.1L1619.3 786.2L1620.4 783.4L1621.5 780.5L1622.5 777.6L1623.6 774.7L1624.6 771.9L1625.7 769.0L1626.7 766.1L1627.8 763.2L1628.9 760.3L1629.9 757.4L1631.0 754.5L1632.1 751.6L1633.1 748.7L1634.2 745.8L1635.3 742.9L1636.4 740.1L1637.5 737.2L1638.6 734.3L1639.8 731.4L1640.9 728.6L1642.0 725.7L1643.2 722.8L1644.3 720.0L1645.5 717.1L1646.7 714.3L1647.9 711.5L1649.1 708.6L1650.3 705.8L1651.6 703.0L1652.8 700.2L1654.1 697.4L1655.4 694.7L1656.7 691.9L1658.0 689.2L1659.3 686.4L1660.7 683.7L1662.1 681.0L1663.5 678.3L1664.9 675.7L1666.3 673.0L1667.8 670.4L1669.3 667.7L1670.8 665.1L1672.3 662.5L1673.8 660.0L1675.4 657.4L1677.0 654.9L1678.6 652.4L1680.3 649.9L1682.0 647.4L1683.7 645.0L1685.4 642.6L1687.2 640.2L1689.0 637.8L1690.8 635.4L1692.7 633.1L1694.6 630.8L1696.5 628.5L1698.5 626.3L1700.4 624.1L1702.5 621.9L1704.5 619.7L1706.6 617.6L1708.8 615.5L1710.9 613.5L1713.1 611.5L1715.4 609.6L1717.7 607.7L1720.0 605.9L1722.4 604.1L1724.8 602.4L1727.3 600.8L1729.8 599.3L1732.4 597.8L1735.1 596.4L1737.7 595.1L1740.5 593.9L1743.3 592.8L1746.1 591.7L1748.9 590.7L1751.8 589.8L1754.8 588.9L1757.7 588.1L1760.7 587.4L1763.7 586.7L1766.8 586.0L1769.8 585.4L1772.8 584.8L1775.9 584.2L1779.0 583.6L1782.0 583.1L1785.1 582.6L1788.2 582.1L1791.2 581.7L1794.3 581.2L1797.4 580.8L1800.4 580.3L1803.5 579.9L1806.5 579.5L1809.6 579.1L1812.6 578.7L1815.6 578.3L1818.6 578.0L1821.6 577.6L1824.6 577.2L1827.5 576.9L1830.4 576.5L1833.4 576.1L1836.3 575.8L1839.1 575.4L1842.0 575.1" fill="none" stroke="#808080" stroke-width="5.6" stroke-dasharray="20.7 9.0" stroke-linejoin="round"/>
<path d="M1563.9 850.1L1564.7 847.2L1565.6 844.2L1566.4 841.3L1567.3 838.4L1568.2 835.4L1569.1 832.5L1569.9 829.6L1570.8 826.7L1571.7 823.8L1572.6 820.9L1573.5 818.0L1574.4 815.1L1575.4 812.2L1576.3 809.3L1577.2 806.4L1578.1 803.5L1579.1 800.7L1580.0 797.8L1581.0 794.9L1581.9 792.0L1582.9 789.2L1583.8 786.3L1584.8 783.4L1585.7 780.6L1586.7 777.7L1587.7 774.8L1588.7 772.0L1589.6 769.1L1590.6 766.3L1591.6 763.4L1592.6 760.6L1593.6 757.8L1594.6 754.9L1595.6 752.1L1596.6 749.2L1597.6 746.4L1598.6 743.6L1599.7 740.7L1600.7 737.9L1601.7 735.1L1602.7 732.3L1603.8 729.4L1604.8 726.6L1605.8 723.8L1606.9 721.0L1607.9 718.2L1609.0 715.3L1610.0 712.5L1611.1 709.7L1612.1 706.9L1613.2 704.1L1614.3 701.3L1615.3 698.5L1616.4 695.7L1617.5 692.8L1618.5 690.0L1619.6 687.2L1620.7 684.4L1621.8 681.6L1622.8 678.8L1623.9 676.0L1625.0 673.2L1626.1 670.4L1627.2 667.6L1628.3 664.8L1629.4 662.0L1630.4 659.2L1631.5 656.4L1632.6 653.6L1633.7 650.8L1634.8 648.0L1635.9 645.2L1637.0 642.4L1638.2 639.6L1639.3 636.8L1640.4 634.0L1641.5 631.2L1642.6 628.4L1643.7 625.6L1644.8 622.8L1645.9 620.0L1647.0 617.1L1648.2 614.3L1649.3 611.5L1650.4 608.7L1651.5 605.9L1652.6 603.1L1653.7 600.3L1654.9 597.5L1656.0 594.7L1657.1 591.9L1658.2 589.0L1659.3 586.2L1660.5 583.4L1661.6 580.6L1662.7 577.8L1663.8 574.9L1664.9 572.1L1666.1 569.3L1667.2 566.5L1668.3 563.6L1669.4 560.8L1670.6 558.0L1671.7 555.1L1672.8 552.3L1673.9 549.5L1675.0 546.6L1676.2 543.8L1677.3 541.0L1678.4 538.1L1679.6 535.3L1680.7 532.5L1681.9 529.6L1683.0 526.8L1684.2 524.0L1685.4 521.2L1686.5 518.4L1687.7 515.5L1688.9 512.7L1690.1 510.0L1691.3 507.2L1692.6 504.4L1693.8 501.6L1695.1 498.8L1696.3 496.1L1697.6 493.3L1698.9 490.6L1700.2 487.9L1701.5 485.1L1702.9 482.4L1704.2 479.7L1705.6 477.0L1707.0 474.4L1708.4 471.7L1709.8 469.1L1711.3 466.4L1712.8 463.8L1714.2 461.2L1715.8 458.6L1717.3 456.0L1718.9 453.5L1720.4 450.9L1722.0 448.4L1723.7 445.9L1725.3 443.4L1727.0 440.9L1728.7 438.5L1730.5 436.1L1732.2 433.7L1734.0 431.3L1735.9 428.9L1737.7 426.6L1739.7 424.4L1741.7 422.2L1743.7 420.1L1745.8 418.1L1748.0 416.2L1750.3 414.3L1752.6 412.6L1755.0 410.9L1757.5 409.4L1760.1 408.1L1762.8 406.8L1765.6 405.7L1768.5 404.7L1771.4 403.9L1774.4 403.2L1777.5 402.6L1780.6 402.1L1783.7 401.7L1786.8 401.5L1790.0 401.4L1793.2 401.4L1796.4 401.5L1799.6 401.7L1802.8 402.0L1805.9 402.5L1809.1 403.0L1812.2 403.7L1815.2 404.5L1818.2 405.3L1821.1 406.3L1824.0 407.4L1826.8 408.5L1829.5 409.8L1832.1 411.2L1834.6 412.6L1837.1 414.1L1839.5 415.8L1841.8 417.5L1844.0 419.3L1846.2 421.1L1848.3 423.0L1850.3 425.1L1852.3 427.1L1854.2 429.3L1856.1 431.5L1857.9 433.7L1859.6 436.1L1861.3 438.4L1863.0 440.9L1864.6 443.3L1866.1 445.9L1867.6 448.4L1869.1 451.0L1870.5 453.7L1872.0 456.4L1873.3 459.1L1874.7 461.8L1876.0 464.6L1877.3 467.4L1878.5 470.2L1879.8 473.1L1881.0 475.9L1882.2 478.8L1883.4 481.7L1884.6 484.5L1885.7 487.4L1886.9 490.3L1888.0 493.2L1889.2 496.1L1890.3 499.0L1891.5 501.9L1892.7 504.7L1893.8 507.6L1895.0 510.4L1896.2 513.2L1897.3 516.0L1898.5 518.8L1899.7 521.6L1900.9 524.4L1902.1 527.2L1903.3 530.0L1904.5 532.7L1905.7 535.5L1906.9 538.2L1908.2 540.9L1909.4 543.7L1910.6 546.4L1911.8 549.1L1913.1 551.8L1914.3 554.5L1915.6 557.2L1916.8 559.9L1918.1 562.6L1919.3 565.3L1920.6 568.0L1921.8 570.7L1923.1 573.3L1924.4 576.0L1925.7 578.7L1926.9 581.4L1928.2 584.1L1929.5 586.8L1930.8 589.5L1932.1 592.2L1933.4 594.8L1934.7 597.5L1936.0 600.2L1937.3 602.9L1938.6 605.6L1939.9 608.4L1941.2 611.1L1942.5 613.8L1943.8 616.5L1945.1 619.3L1946.4 622.0L1947.7 624.8L1949.1 627.5L1950.4 630.3L1951.7 633.1L1953.0 635.9L1954.4 638.7L1955.7 641.5L1957.0 644.3L1958.4 647.1" fill="none" stroke="#008000" stroke-width="5.6" stroke-dasharray="20.7 9.0" stroke-linejoin="round"/>
<path d="M1541.7 849.7L1542.6 846.9L1543.4 844.1L1544.3 841.2L1545.2 838.4L1546.1 835.5L1547.0 832.7L1547.9 829.8L1548.8 827.0L1549.7 824.1L1550.6 821.3L1551.5 818.4L1552.4 815.6L1553.3 812.7L1554.3 809.9L1555.2 807.1L1556.1 804.2L1557.1 801.4L1558.0 798.5L1558.9 795.7L1559.9 792.8L1560.8 790.0L1561.8 787.1L1562.7 784.3L1563.7 781.4L1564.7 778.6L1565.6 775.7L1566.6 772.9L1567.6 770.0L1568.6 767.2L1569.5 764.3L1570.5 761.5L1571.5 758.6L1572.5 755.8L1573.5 752.9L1574.5 750.1L1575.5 747.2L1576.5 744.4L1577.5 741.6L1578.5 738.7L1579.5 735.9L1580.5 733.0L1581.5 730.2L1582.6 727.3L1583.6 724.5L1584.6 721.6L1585.6 718.8L1586.6 715.9L1587.7 713.1L1588.7 710.3L1589.7 707.4L1590.8 704.6L1591.8 701.7L1592.9 698.9L1593.9 696.0L1594.9 693.2L1596.0 690.4L1597.0 687.5L1598.1 684.7L1599.1 681.8L1600.2 679.0L1601.2 676.1L1602.3 673.3L1603.4 670.5L1604.4 667.6L1605.5 664.8L1606.6 662.0L1607.6 659.1L1608.7 656.3L1609.8 653.5L1610.8 650.6L1611.9 647.8L1613.0 644.9L1614.0 642.1L1615.1 639.3L1616.2 636.5L1617.3 633.6L1618.3 630.8L1619.4 628.0L1620.5 625.1L1621.6 622.3L1622.7 619.5L1623.7 616.7L1624.8 613.8L1625.9 611.0L1627.0 608.2L1628.1 605.4L1629.2 602.5L1630.2 599.7L1631.3 596.9L1632.4 594.1L1633.5 591.2L1634.6 588.4L1635.7 585.6L1636.8 582.8L1637.9 580.0L1638.9 577.2L1640.0 574.4L1641.1 571.5L1642.2 568.7L1643.3 565.9L1644.4 563.1L1645.5 560.3L1646.6 557.5L1647.6 554.7L1648.7 551.9L1649.8 549.1L1650.9 546.3L1652.0 543.5L1653.1 540.7L1654.2 537.9L1655.3 535.1L1656.3 532.3L1657.4 529.5L1658.5 526.7L1659.6 523.9L1660.7 521.1L1661.8 518.3L1662.8 515.5L1663.9 512.7L1665.0 509.9L1666.1 507.1L1667.1 504.4L1668.2 501.6L1669.3 498.8L1670.4 496.0L1671.4 493.2L1672.5 490.5L1673.6 487.7L1674.6 484.9L1675.7 482.1L1676.8 479.4L1677.8 476.6L1678.9 473.8L1680.0 471.0L1681.0 468.3L1682.1 465.5L1683.2 462.7L1684.2 460.0L1685.3 457.2L1686.4 454.4L1687.4 451.6L1688.5 448.9L1689.5 446.1L1690.6 443.3L1691.7 440.6L1692.8 437.8L1693.8 435.0L1694.9 432.2L1696.0 429.4L1697.0 426.7L1698.1 423.9L1699.2 421.1L1700.3 418.3L1701.4 415.5L1702.4 412.7L1703.5 409.9L1704.6 407.2L1705.7 404.4L1706.8 401.6L1707.9 398.8L1709.0 395.9L1710.1 393.1L1711.2 390.3L1712.4 387.5L1713.5 384.7L1714.6 381.9L1715.7 379.0L1716.8 376.2L1718.0 373.4L1719.1 370.5L1720.3 367.7L1721.4 364.9L1722.6 362.0L1723.7 359.1L1724.9 356.3L1726.1 353.4L1727.2 350.5L1728.4 347.7L1729.6 344.8L1730.8 341.9L1732.0 339.0L1733.2 336.1L1734.4 333.2L1735.6 330.3L1736.9 327.4L1738.1 324.4L1739.3 321.5L1740.6 318.6L1741.8 315.6L1743.1 312.7L1744.4 309.7L1745.7 306.8L1747.0 303.9L1748.4 301.1L1749.8 298.3L1751.2 295.6L1752.7 293.1L1754.3 290.6L1755.9 288.3L1757.7 286.1L1759.5 284.0L1761.4 282.1L1763.4 280.5L1765.5 279.0L1767.7 277.7L1770.1 276.7L1772.5 275.9L1775.1 275.4L1777.8 275.2L1780.6 275.2L1783.4 275.5L1786.2 276.0L1789.0 276.8L1791.7 277.8L1794.3 279.1L1796.8 280.6L1799.1 282.3L1801.3 284.3L1803.3 286.5L1805.3 288.8L1807.1 291.3L1808.8 293.9L1810.5 296.6L1812.0 299.5L1813.6 302.3L1815.0 305.3L1816.5 308.2L1817.9 311.2L1819.4 314.1L1820.8 317.1L1822.3 319.9L1823.8 322.7L1825.3 325.5L1826.8 328.2L1828.3 330.9L1829.9 333.5L1831.4 336.1L1833.0 338.7L1834.6 341.2L1836.1 343.8L1837.7 346.3L1839.2 348.8L1840.8 351.3L1842.3 353.8L1843.8 356.4L1845.3 358.9L1846.8 361.4L1848.2 364.0L1849.7 366.5L1851.1 369.1L1852.5 371.7L1853.9 374.3L1855.2 377.0L1856.6 379.6L1857.9 382.3L1859.2 385.0L1860.5 387.6L1861.8 390.4L1863.0 393.1L1864.3 395.8L1865.5 398.5L1866.7 401.3L1867.9 404.0L1869.1 406.8L1870.3 409.6L1871.4 412.4L1872.6 415.2L1873.7 418.0L1874.9 420.8L1876.0 423.6L1877.1 426.4L1878.2 429.2L1879.3 432.1L1880.4 434.9L1881.5 437.7L1882.6 440.6L1883.7 443.4L1884.7 446.3L1885.8 449.1L1886.9 452.0L1887.9 454.8L1889.0 457.6L1890.1 460.5L1891.1 463.3L1892.2 466.2L1893.3 469.0L1894.3 471.8L1895.4 474.7L1896.5 477.5L1897.5 480.3L1898.6 483.1L1899.7 485.9L1900.7 488.7L1901.8 491.6L1902.9 494.4L1904.0 497.2L1905.1 499.9L1906.2 502.7L1907.3 505.5L1908.4 508.3L1909.5 511.1L1910.7 513.9L1911.8 516.6L1912.9 519.4L1914.1 522.2L1915.2 524.9L1916.4 527.7L1917.6 530.5L1918.8 533.2L1920.0 536.0L1921.2 538.7L1922.4 541.4L1923.6 544.2L1924.8 546.9L1926.1 549.7L1927.3 552.4L1928.6 555.1L1929.9 557.8L1931.2 560.5L1932.5 563.3L1933.8 566.0L1935.1 568.7L1936.5 571.4L1937.8 574.1L1939.2 576.8L1940.6 579.5L1941.9 582.2L1943.2 585.0L1944.4 587.7L1945.5 590.5L1946.6 593.3L1947.5 596.1L1948.4 599.0L1949.0 601.9L1949.6 604.9L1949.9 607.9L1950.1 611.0" fill="none" stroke="#ffa500" stroke-width="5.6" stroke-dasharray="20.7 9.0" stroke-linejoin="round"/>
<path d="M1535.7 849.8L1536.5 846.9L1537.4 844.1L1538.3 841.2L1539.2 838.4L1540.1 835.5L1540.9 832.7L1541.8 829.8L1542.7 827.0L1543.6 824.1L1544.6 821.3L1545.5 818.4L1546.4 815.6L1547.3 812.7L1548.2 809.9L1549.2 807.0L1550.1 804.2L1551.0 801.3L1552.0 798.5L1552.9 795.6L1553.8 792.8L1554.8 789.9L1555.7 787.1L1556.7 784.2L1557.7 781.4L1558.6 778.5L1559.6 775.7L1560.6 772.9L1561.5 770.0L1562.5 767.2L1563.5 764.3L1564.5 761.5L1565.5 758.6L1566.5 755.8L1567.5 752.9L1568.4 750.1L1569.4 747.2L1570.5 744.4L1571.5 741.5L1572.5 738.7L1573.5 735.9L1574.5 733.0L1575.5 730.2L1576.5 727.3L1577.5 724.5L1578.6 721.6L1579.6 718.8L1580.6 716.0L1581.6 713.1L1582.7 710.3L1583.7 707.4L1584.8 704.6L1585.8 701.8L1586.8 698.9L1587.9 696.1L1588.9 693.2L1590.0 690.4L1591.0 687.6L1592.1 684.7L1593.1 681.9L1594.2 679.1L1595.3 676.2L1596.3 673.4L1597.4 670.6L1598.4 667.7L1599.5 664.9L1600.6 662.1L1601.6 659.2L1602.7 656.4L1603.8 653.6L1604.8 650.7L1605.9 647.9L1607.0 645.1L1608.1 642.3L1609.2 639.4L1610.2 636.6L1611.3 633.8L1612.4 631.0L1613.5 628.1L1614.6 625.3L1615.6 622.5L1616.7 619.7L1617.8 616.8L1618.9 614.0L1620.0 611.2L1621.1 608.4L1622.2 605.6L1623.3 602.7L1624.4 599.9L1625.4 597.1L1626.5 594.3L1627.6 591.5L1628.7 588.7L1629.8 585.9L1630.9 583.0L1632.0 580.2L1633.1 577.4L1634.2 574.6L1635.3 571.8L1636.4 569.0L1637.5 566.2L1638.6 563.4L1639.7 560.6L1640.8 557.8L1641.9 555.0L1643.0 552.2L1644.0 549.4L1645.1 546.6L1646.2 543.8L1647.3 541.0L1648.4 538.2L1649.5 535.4L1650.6 532.6L1651.7 529.8L1652.8 527.0L1653.9 524.2L1655.0 521.4L1656.1 518.6L1657.2 515.9L1658.2 513.1L1659.3 510.3L1660.4 507.5L1661.5 504.7L1662.6 501.9L1663.7 499.1L1664.8 496.4L1665.8 493.6L1666.9 490.8L1668.0 488.0L1669.1 485.3L1670.1 482.5L1671.2 479.7L1672.3 476.9L1673.4 474.2L1674.5 471.4L1675.5 468.6L1676.6 465.9L1677.7 463.1L1678.7 460.3L1679.8 457.5L1680.9 454.8L1682.0 452.0L1683.0 449.2L1684.1 446.5L1685.2 443.7L1686.3 440.9L1687.3 438.1L1688.4 435.4L1689.5 432.6L1690.6 429.8L1691.7 427.0L1692.7 424.3L1693.8 421.5L1694.9 418.7L1696.0 415.9L1697.1 413.1L1698.2 410.3L1699.3 407.5L1700.4 404.7L1701.5 401.9L1702.6 399.1L1703.7 396.3L1704.8 393.5L1705.9 390.7L1707.0 387.9L1708.1 385.1L1709.2 382.3L1710.4 379.5L1711.5 376.6L1712.6 373.8L1713.7 371.0L1714.9 368.1L1716.0 365.3L1717.2 362.5L1718.3 359.6L1719.5 356.8L1720.6 353.9L1721.8 351.0L1723.0 348.2L1724.1 345.3L1725.3 342.4L1726.5 339.5L1727.7 336.6L1728.9 333.7L1730.0 330.9L1731.3 327.9L1732.5 325.0L1733.7 322.1L1734.9 319.2L1736.1 316.3L1737.3 313.3L1738.6 310.4L1739.8 307.5L1741.1 304.6L1742.5 301.8L1743.8 299.0L1745.2 296.3L1746.7 293.7L1748.3 291.1L1749.9 288.7L1751.6 286.4L1753.4 284.3L1755.2 282.3L1757.2 280.5L1759.3 278.8L1761.5 277.4L1763.9 276.1L1766.4 275.1L1769.0 274.3L1771.8 273.8L1774.7 273.5L1777.7 273.5L1780.7 273.7L1783.7 274.1L1786.7 274.8L1789.7 275.7L1792.5 276.8L1795.2 278.2L1797.7 279.8L1800.1 281.7L1802.2 283.7L1804.2 285.9L1806.0 288.3L1807.7 290.8L1809.3 293.4L1810.7 296.2L1812.1 299.0L1813.5 301.9L1814.8 304.8L1816.1 307.8L1817.4 310.7L1818.7 313.7L1820.0 316.5L1821.4 319.4L1822.9 322.2L1824.3 324.9L1825.9 327.6L1827.4 330.2L1829.0 332.8L1830.6 335.4L1832.2 338.0L1833.9 340.5L1835.5 343.0L1837.2 345.5L1838.8 348.0L1840.4 350.5L1842.1 353.0L1843.7 355.5L1845.3 358.0L1846.9 360.5L1848.4 363.0L1849.9 365.6L1851.4 368.2L1852.8 370.7L1854.2 373.4L1855.6 376.0L1856.9 378.6L1858.3 381.3L1859.6 384.0L1860.9 386.7L1862.1 389.4L1863.3 392.1L1864.6 394.8L1865.7 397.6L1866.9 400.4L1868.1 403.1L1869.2 405.9L1870.4 408.7L1871.5 411.5L1872.6 414.3L1873.7 417.1L1874.7 419.9L1875.8 422.8L1876.9 425.6L1877.9 428.4L1879.0 431.3L1880.0 434.1L1881.1 437.0L1882.1 439.8L1883.2 442.7L1884.2 445.5L1885.2 448.4L1886.3 451.2L1887.3 454.1L1888.4 456.9L1889.5 459.8L1890.5 462.6L1891.6 465.4L1892.7 468.2L1893.8 471.1L1894.9 473.9L1896.0 476.7L1897.1 479.5L1898.3 482.3L1899.4 485.1L1900.6 487.9L1901.7 490.7L1902.9 493.4L1904.1 496.2L1905.2 499.0L1906.4 501.7L1907.6 504.5L1908.8 507.3L1910.0 510.0L1911.2 512.8L1912.4 515.5L1913.6 518.3L1914.8 521.0L1916.0 523.8L1917.3 526.5L1918.5 529.2L1919.7 532.0L1920.9 534.7L1922.1 537.5L1923.3 540.2L1924.5 543.0L1925.7 545.7L1926.9 548.5L1928.1 551.2L1929.3 553.9L1930.5 556.7L1931.6 559.4L1932.8 562.2L1934.0 565.0L1935.1 567.7L1936.3 570.5L1937.4 573.2L1938.5 576.0L1939.7 578.8L1940.8 581.6L1941.9 584.4L1942.9 587.1L1944.0 589.9L1945.1 592.7L1946.1 595.5L1947.1 598.4L1948.2 601.2L1949.2 604.0L1950.2 606.8L1951.1 609.7" fill="none" stroke="#ff0000" stroke-width="5.6" stroke-dasharray="20.7 9.0" stroke-linejoin="round"/>
<path d="M1402.9 849.6L1403.9 846.8L1405.0 844.0L1406.0 841.2L1407.0 838.3L1408.0 835.5L1409.0 832.7L1410.0 829.9L1411.0 827.1L1412.1 824.2L1413.1 821.4L1414.1 818.6L1415.1 815.8L1416.1 813.0L1417.2 810.1L1418.2 807.3L1419.2 804.5L1420.2 801.7L1421.3 798.8L1422.3 796.0L1423.3 793.2L1424.3 790.4L1425.4 787.5L1426.4 784.7L1427.4 781.9L1428.4 779.1L1429.5 776.2L1430.5 773.4L1431.5 770.6L1432.6 767.7L1433.6 764.9L1434.6 762.1L1435.7 759.3L1436.7 756.4L1437.7 753.6L1438.8 750.8L1439.8 747.9L1440.8 745.1L1441.9 742.3L1442.9 739.4L1444.0 736.6L1445.0 733.8L1446.0 731.0L1447.1 728.1L1448.1 725.3L1449.2 722.5L1450.2 719.6L1451.2 716.8L1452.3 714.0L1453.3 711.1L1454.4 708.3L1455.4 705.5L1456.5 702.6L1457.5 699.8L1458.6 697.0L1459.6 694.1L1460.7 691.3L1461.7 688.5L1462.8 685.7L1463.8 682.8L1464.9 680.0L1465.9 677.2L1467.0 674.3L1468.0 671.5L1469.1 668.7L1470.1 665.9L1471.2 663.0L1472.2 660.2L1473.3 657.4L1474.3 654.5L1475.4 651.7L1476.5 648.9L1477.5 646.1L1478.6 643.2L1479.6 640.4L1480.7 637.6L1481.8 634.8L1482.8 631.9L1483.9 629.1L1484.9 626.3L1486.0 623.5L1487.1 620.6L1488.1 617.8L1489.2 615.0L1490.3 612.2L1491.3 609.4L1492.4 606.5L1493.5 603.7L1494.5 600.9L1495.6 598.1L1496.7 595.3L1497.7 592.4L1498.8 589.6L1499.9 586.8L1500.9 584.0L1502.0 581.2L1503.1 578.4L1504.2 575.6L1505.2 572.8L1506.3 569.9L1507.4 567.1L1508.4 564.3L1509.5 561.5L1510.6 558.7L1511.7 555.9L1512.7 553.1L1513.8 550.3L1514.9 547.5L1516.0 544.7L1517.1 541.9L1518.1 539.1L1519.2 536.3L1520.3 533.5L1521.4 530.7L1522.4 527.9L1523.5 525.1L1524.6 522.3L1525.7 519.5L1526.8 516.7L1527.9 513.9L1528.9 511.1L1530.0 508.4L1531.1 505.6L1532.2 502.8L1533.3 500.0L1534.4 497.2L1535.5 494.4L1536.6 491.6L1537.7 488.8L1538.8 486.1L1539.9 483.3L1541.0 480.5L1542.1 477.7L1543.2 474.9L1544.3 472.1L1545.5 469.4L1546.6 466.6L1547.7 463.8L1548.8 461.0L1550.0 458.2L1551.1 455.5L1552.2 452.7L1553.4 449.9L1554.5 447.1L1555.6 444.3L1556.8 441.6L1557.9 438.8L1559.1 436.0L1560.3 433.2L1561.4 430.4L1562.6 427.7L1563.8 424.9L1565.0 422.1L1566.1 419.3L1567.3 416.5L1568.5 413.8L1569.7 411.0L1570.9 408.2L1572.1 405.4L1573.3 402.6L1574.5 399.9L1575.8 397.1L1577.0 394.3L1578.2 391.5L1579.5 388.7L1580.7 386.0L1582.0 383.2L1583.2 380.4L1584.5 377.6L1585.7 374.8L1587.0 372.0L1588.3 369.3L1589.6 366.5L1590.9 363.7L1592.2 360.9L1593.5 358.1L1594.8 355.3L1596.1 352.5L1597.5 349.8L1598.8 347.0L1600.2 344.2L1601.6 341.5L1603.0 338.8L1604.4 336.1L1605.9 333.4L1607.4 330.8L1608.9 328.2L1610.5 325.7L1612.1 323.2L1613.8 320.7L1615.5 318.3L1617.2 316.0L1619.0 313.7L1620.9 311.5L1622.8 309.4L1624.8 307.3L1626.9 305.3L1629.0 303.4L1631.2 301.5L1633.5 299.8L1635.8 298.2L1638.2 296.6L1640.7 295.1L1643.3 293.8L1645.9 292.5L1648.6 291.3L1651.3 290.2L1654.1 289.1L1657.0 288.1L1659.9 287.3L1662.8 286.4L1665.8 285.7L1668.8 285.0L1671.8 284.4L1674.9 283.9L1678.0 283.4L1681.1 283.0L1684.3 282.7L1687.4 282.4L1690.6 282.1L1693.7 281.9L1696.9 281.8L1700.1 281.7L1703.3 281.7L1706.4 281.7L1709.6 281.8L1712.7 281.9L1715.8 282.1L1718.9 282.4L1722.0 282.7L1725.0 283.1L1728.0 283.6L1731.0 284.2L1733.9 284.9L1736.8 285.6L1739.6 286.5L1742.3 287.4L1745.0 288.5L1747.7 289.7L1750.3 291.0L1752.8 292.4L1755.2 293.9L1757.5 295.5L1759.8 297.3L1762.0 299.2L1764.1 301.2L1766.2 303.3L1768.2 305.4L1770.1 307.7L1772.0 310.0L1773.8 312.4L1775.6 314.8L1777.3 317.3L1779.0 319.8L1780.7 322.3L1782.3 324.8L1783.9 327.3L1785.4 329.9L1787.0 332.5L1788.5 335.1L1790.0 337.7L1791.4 340.4L1792.8 343.1L1794.2 345.7L1795.6 348.4L1796.9 351.2L1798.3 353.9L1799.6 356.6L1800.9 359.4L1802.1 362.1L1803.4 364.9L1804.6 367.7L1805.9 370.5L1807.1 373.2L1808.3 376.0L1809.5 378.8L1810.6 381.7L1811.8 384.5L1813.0 387.3L1814.1 390.1L1815.3 392.9L1816.4 395.7L1817.6 398.5L1818.7 401.3L1819.9 404.1L1821.0 407.0L1822.1 409.8L1823.2 412.6L1824.4 415.4L1825.5 418.2L1826.6 421.0L1827.7 423.8L1828.8 426.6L1829.9 429.4L1831.0 432.2L1832.1 435.0L1833.2 437.9L1834.3 440.7L1835.4 443.5L1836.5 446.3L1837.6 449.1L1838.6 451.9L1839.7 454.7L1840.8 457.5L1841.9 460.3L1842.9 463.1L1844.0 465.9L1845.1 468.7L1846.1 471.5L1847.2 474.3L1848.3 477.2L1849.3 480.0L1850.4 482.8L1851.4 485.6L1852.5 488.4L1853.5 491.2L1854.6 494.0L1855.6 496.8L1856.7 499.6L1857.7 502.4L1858.8 505.2L1859.8 508.1L1860.9 510.9L1861.9 513.7L1863.0 516.5L1864.0 519.3L1865.1 522.1L1866.1 524.9L1867.2 527.7L1868.2 530.6L1869.2 533.4L1870.3 536.2L1871.3 539.0L1872.4 541.8L1873.4 544.6L1874.5 547.5L1875.5 550.3L1876.6 553.1L1877.6 555.9L1878.7 558.7L1879.7 561.6L1880.7 564.4L1881.8 567.2L1882.8 570.0L1883.9 572.8L1884.9 575.7L1886.0 578.5L1887.1 581.3L1888.1 584.1L1889.2 587.0L1890.2 589.8L1891.3 592.6L1892.4 595.4L1893.5 598.3L1894.5 601.1L1895.6 603.9L1896.7 606.7L1897.9 609.5L1899.0 612.3L1900.1 615.1L1901.3 617.9L1902.4 620.7L1903.6 623.5L1904.8 626.3L1906.0 629.1L1907.2 631.8L1908.4 634.6L1909.7 637.3L1910.9 640.1L1912.2 642.8L1913.5 645.5L1914.9 648.2L1916.2 650.9L1917.6 653.6L1919.0 656.3L1920.4 658.9L1921.8 661.6L1923.3 664.2L1924.7 666.9L1926.2 669.5L1927.6 672.1L1929.1 674.8L1930.5 677.4L1931.9 680.1L1933.2 682.7L1934.5 685.4L1935.8 688.1L1937.0 690.8L1938.1 693.5L1939.2 696.2L1940.1 699.0L1941.0 701.8L1941.8 704.6L1942.6 707.4L1943.2 710.3L1943.8 713.2L1944.3 716.1L1944.8 719.0L1945.2 721.9L1945.6 724.9L1945.9 727.9L1946.2 730.9L1946.5 733.8L1946.7 736.8L1947.0 739.9L1947.2 742.9L1947.4 745.9L1947.7 748.9L1947.9 751.9L1948.2 754.9L1948.4 757.9L1948.8 761.0L1949.1 764.0L1949.5 766.9L1950.0 769.9L1950.5 772.9L1951.1 775.8L1951.8 778.7L1952.6 781.6L1953.5 784.5L1954.5 787.3L1955.6 790.1" fill="none" stroke="#0000ff" stroke-width="5.6" stroke-dasharray="20.7 9.0" stroke-linejoin="round"/>
<path d="M1115.3 770.5L1117.6 768.6L1120.1 766.7L1122.5 765.0L1125.1 763.3L1127.6 761.7L1130.2 760.2L1132.9 758.7L1135.5 757.3L1138.2 755.9L1140.9 754.6L1143.7 753.2L1146.4 751.9L1149.1 750.6L1151.9 749.4L1154.6 748.0L1157.3 746.7L1160.0 745.4L1162.7 744.0L1165.3 742.6L1167.9 741.1L1170.5 739.6L1173.0 738.0L1175.5 736.4L1177.9 734.7L1180.2 732.8L1182.5 730.9L1184.7 728.9L1186.9 726.8L1189.0 724.6L1191.0 722.3L1192.9 720.0L1194.8 717.6L1196.6 715.2L1198.4 712.6L1200.1 710.1L1201.7 707.5L1203.3 704.8L1204.8 702.1L1206.2 699.4L1207.6 696.7L1208.9 693.9L1210.1 691.1L1211.3 688.4L1212.4 685.6L1213.5 682.8L1214.5 680.0L1215.4 677.2L1216.3 674.5L1217.2 671.7L1218.1 668.9L1218.9 666.1L1219.8 663.3L1220.6 660.5L1221.5 657.7L1222.4 654.9L1223.3 652.1L1224.2 649.3L1225.2 646.5L1226.3 643.6L1227.4 640.8L1228.6 637.9L1229.8 635.1L1231.1 632.2L1232.6 629.3L1234.1 626.4L1235.7 623.5L1237.5 620.6L1239.3 617.8L1241.2 615.0L1243.3 612.5L1245.4 610.3L1247.5 608.3L1249.8 606.8L1252.0 605.7L1254.3 605.1L1256.7 605.1L1259.0 605.6L1261.3 606.7L1263.5 608.3L1265.6 610.3L1267.4 612.5L1269.0 615.0L1270.3 617.7L1271.4 620.6L1272.2 623.5L1272.9 626.6L1273.3 629.8L1273.7 633.0L1273.9 636.4L1274.0 639.7L1274.2 643.1L1274.3 646.4L1274.4 649.8L1274.6 653.1L1274.9 656.4L1275.3 659.6L1275.9 662.7L1276.7 665.6L1277.6 668.5L1278.9 671.2L1280.4 673.7L1282.1 676.0L1284.1 678.0L1286.3 679.5L1288.7 680.6L1291.3 681.2L1294.0 681.5L1296.7 681.5L1299.5 681.4L1302.2 681.1L1304.9 680.7L1307.7 680.2L1310.4 679.5L1313.1 678.7L1315.8 677.8L1318.6 676.8L1321.3 675.7L1324.0 674.5L1326.7 673.3L1329.5 672.0L1332.2 670.7L1334.9 669.3L1337.6 667.9L1340.3 666.5L1343.0 665.1L1345.8 663.6L1348.5 662.2L1351.2 660.8L1353.9 659.3L1356.6 657.9L1359.3 656.4L1362.0 654.9L1364.7 653.5L1367.4 652.0L1370.1 650.5L1372.8 649.1L1375.5 647.6L1378.2 646.1L1380.9 644.6L1383.6 643.2L1386.3 641.7L1389.0 640.2L1391.7 638.7L1394.4 637.3L1397.1 635.8L1399.8 634.3L1402.5 632.8L1405.2 631.4L1407.9 629.9L1410.5 628.5L1413.2 627.0L1415.9 625.6L1418.6 624.1L1421.4 622.7L1424.1 621.3L1426.8 619.8L1429.5 618.4L1432.2 617.0L1434.9 615.6L1437.6 614.2L1440.3 612.8L1443.0 611.4L1445.7 610.1L1448.5 608.7L1451.2 607.4L1453.9 606.0L1456.6 604.7L1459.3 603.4L1462.1 602.1L1464.8 600.8L1467.5 599.5L1470.3 598.3L1473.0 597.0L1475.8 595.8L1478.5 594.6L1481.3 593.4L1484.0 592.2L1486.8 591.0L1489.6 589.8L1492.3 588.7L1495.1 587.6L1497.9 586.5L1500.7 585.4L1503.4 584.3L1506.2 583.3L1509.0 582.2L1511.8 581.2L1514.6 580.2L1517.4 579.3L1520.2 578.3L1523.1 577.4L1525.9 576.5L1528.7 575.6L1531.6 574.8L1534.4 573.9L1537.2 573.1L1540.1 572.3L1542.9 571.6L1545.8 570.8L1548.7 570.1L1551.6 569.4L1554.4 568.8L1557.3 568.1L1560.2 567.5L1563.1 567.0L1566.0 566.4L1568.9 565.9L1571.9 565.4L1574.8 564.9L1577.7 564.5L1580.7 564.1L1583.6 563.7L1586.6 563.4L1589.5 563.1L1592.5 562.8L1595.5 562.6L1598.5 562.4L1601.5 562.2L1604.5 562.0L1607.5 561.9L1610.5 561.8L1613.5 561.8L1616.6 561.7L1619.6 561.7L1622.6 561.7L1625.7 561.7L1628.7 561.8L1631.8 561.8L1634.8 561.9L1637.9 562.0L1640.9 562.1L1644.0 562.2L1647.1 562.4L1650.1 562.5L1653.2 562.6L1656.2 562.8L1659.3 562.9L1662.4 563.1L1665.4 563.3L1668.5 563.4L1671.5 563.6L1674.6 563.8L1677.6 563.9L1680.7 564.1L1683.7 564.3L1686.8 564.4L1689.8 564.5L1692.8 564.7L1695.9 564.8L1698.9 564.9L1701.9 565.0L1704.9 565.1L1707.9 565.1L1710.9 565.2L1713.9 565.2L1716.9 565.2L1719.9 565.3L1722.9 565.3L1725.9 565.3L1728.8 565.3L1731.8 565.3L1734.8 565.3L1737.7 565.3L1740.7 565.3L1743.7 565.3L1746.6 565.3L1749.6 565.3L1752.6 565.3L1755.5 565.3L1758.5 565.3L1761.5 565.3L1764.4 565.4L1767.4 565.4L1770.4 565.5L1773.4 565.5L1776.3 565.6L1779.3 565.7L1782.3 565.8L1785.3 565.9L1788.3 566.1L1791.3 566.2L1794.3 566.4L1797.3 566.6L1800.3 566.8L1803.4 567.0L1806.4 567.3L1809.4 567.6L1812.5 567.9L1815.5 568.2L1818.6 568.6L1821.7 569.0L1824.7 569.4L1827.8 569.9L1830.9 570.4L1834.0 570.9L1837.0 571.5L1840.1 572.2L1843.1 572.8L1846.1 573.6L1849.1 574.4L1852.0 575.2L1855.0 576.1L1857.8 577.1L1860.7 578.2L1863.5 579.3L1866.2 580.5L1868.9 581.8L1871.5 583.1L1874.1 584.5L1876.6 586.1L1879.0 587.7L1881.3 589.4L1883.6 591.2L1885.8 593.1L1887.9 595.1L1889.9 597.2L1891.8 599.4L1893.7 601.7L1895.5 604.0L1897.3 606.4L1899.0 608.9L1900.6 611.4L1902.2 614.0L1903.7 616.7L1905.2 619.3L1906.7 622.0L1908.2 624.8L1909.6 627.5L1911.0 630.3L1912.4 633.0L1913.8 635.8L1915.2 638.5L1916.5 641.3L1917.9 644.0L1919.3 646.7L1920.7 649.4L1922.1 652.1L1923.6 654.8L1925.0 657.4L1926.4 660.1L1927.8 662.7L1929.3 665.3L1930.7 667.9L1932.2 670.5L1933.6 673.1L1935.0 675.7L1936.5 678.3L1937.9 680.9L1939.4 683.5L1940.8 686.1L1942.3 688.7L1943.7 691.3L1945.2 694.0L1946.6 696.6L1948.0 699.2L1949.5 701.9L1950.9 704.6L1952.3 707.2L1953.7 709.9L1955.1 712.7L1956.5 715.4L1957.9 718.2" fill="none" stroke="#808080" stroke-width="5.6" stroke-linejoin="round"/>
<path d="M1115.4 720.5L1116.8 717.7L1118.3 714.9L1119.9 712.2L1121.4 709.6L1123.0 706.9L1124.6 704.3L1126.3 701.8L1127.9 699.2L1129.6 696.7L1131.4 694.2L1133.1 691.8L1134.9 689.3L1136.7 686.9L1138.5 684.5L1140.3 682.1L1142.1 679.8L1144.0 677.4L1145.8 675.1L1147.7 672.8L1149.6 670.5L1151.6 668.2L1153.5 666.0L1155.4 663.7L1157.4 661.5L1159.3 659.2L1161.3 657.0L1163.2 654.7L1165.2 652.5L1167.2 650.3L1169.2 648.1L1171.1 645.8L1173.1 643.6L1175.1 641.4L1177.1 639.1L1179.1 636.9L1181.0 634.6L1183.0 632.4L1185.0 630.1L1186.9 627.8L1188.9 625.5L1190.8 623.2L1192.8 620.9L1194.7 618.6L1196.6 616.2L1198.5 613.9L1200.4 611.5L1202.3 609.1L1204.1 606.6L1206.0 604.2L1207.8 601.7L1209.6 599.2L1211.4 596.7L1213.1 594.1L1214.9 591.5L1216.6 588.9L1218.4 586.3L1220.1 583.8L1221.9 581.2L1223.7 578.7L1225.5 576.2L1227.4 573.8L1229.2 571.4L1231.2 569.1L1233.1 566.9L1235.2 564.8L1237.3 562.7L1239.5 560.8L1241.7 559.0L1244.0 557.3L1246.4 555.7L1248.9 554.2L1251.4 552.8L1254.0 551.4L1256.6 550.2L1259.3 549.0L1262.0 547.9L1264.8 546.8L1267.6 545.8L1270.4 544.8L1273.2 543.9L1276.1 542.9L1279.0 542.0L1281.8 541.1L1284.7 540.2L1287.6 539.3L1290.5 538.3L1293.3 537.4L1296.2 536.4L1299.0 535.4L1301.9 534.4L1304.7 533.4L1307.5 532.3L1310.3 531.3L1313.2 530.2L1316.0 529.2L1318.8 528.1L1321.6 527.0L1324.4 525.9L1327.2 524.8L1330.0 523.7L1332.7 522.5L1335.5 521.4L1338.3 520.3L1341.1 519.2L1343.9 518.0L1346.6 516.9L1349.4 515.8L1352.2 514.6L1355.0 513.5L1357.8 512.4L1360.5 511.2L1363.3 510.1L1366.1 509.0L1368.9 507.8L1371.7 506.7L1374.4 505.6L1377.2 504.5L1380.0 503.4L1382.8 502.3L1385.6 501.1L1388.4 500.0L1391.1 498.9L1393.9 497.8L1396.7 496.6L1399.5 495.5L1402.3 494.4L1405.1 493.3L1407.8 492.1L1410.6 491.0L1413.4 489.9L1416.2 488.7L1419.0 487.6L1421.7 486.4L1424.5 485.2L1427.3 484.1L1430.0 482.9L1432.8 481.7L1435.6 480.6L1438.3 479.4L1441.1 478.2L1443.8 477.0L1446.6 475.7L1449.3 474.5L1452.1 473.3L1454.8 472.0L1457.6 470.8L1460.3 469.5L1463.1 468.3L1465.8 467.0L1468.5 465.7L1471.2 464.4L1474.0 463.1L1476.7 461.7L1479.4 460.4L1482.1 459.1L1484.8 457.7L1487.5 456.3L1490.2 454.9L1492.9 453.5L1495.6 452.1L1498.3 450.7L1501.0 449.2L1503.6 447.8L1506.3 446.3L1509.0 444.9L1511.7 443.5L1514.3 442.0L1517.0 440.6L1519.7 439.1L1522.4 437.7L1525.0 436.3L1527.7 434.9L1530.4 433.5L1533.1 432.1L1535.8 430.7L1538.5 429.4L1541.2 428.1L1543.9 426.7L1546.6 425.5L1549.4 424.2L1552.1 423.0L1554.8 421.8L1557.6 420.6L1560.4 419.5L1563.1 418.4L1565.9 417.3L1568.7 416.3L1571.5 415.4L1574.3 414.4L1577.1 413.5L1580.0 412.7L1582.8 411.9L1585.7 411.2L1588.6 410.5L1591.5 409.8L1594.4 409.2L1597.3 408.7L1600.3 408.3L1603.2 407.8L1606.2 407.5L1609.2 407.2L1612.2 406.9L1615.2 406.7L1618.2 406.5L1621.3 406.4L1624.3 406.3L1627.3 406.3L1630.4 406.3L1633.4 406.3L1636.5 406.3L1639.6 406.4L1642.6 406.6L1645.7 406.7L1648.7 406.9L1651.8 407.0L1654.8 407.2L1657.9 407.4L1660.9 407.6L1664.0 407.8L1667.0 408.0L1670.1 408.2L1673.1 408.3L1676.1 408.5L1679.1 408.6L1682.1 408.7L1685.1 408.7L1688.1 408.7L1691.1 408.7L1694.1 408.6L1697.1 408.5L1700.0 408.3L1702.9 408.1L1705.9 407.8L1708.8 407.4L1711.7 407.0L1714.6 406.4L1717.4 405.8L1720.3 405.1L1723.1 404.3L1725.9 403.4L1728.8 402.5L1731.6 401.5L1734.3 400.5L1737.1 399.4L1739.9 398.3L1742.7 397.3L1745.5 396.2L1748.3 395.2L1751.1 394.3L1754.0 393.4L1756.8 392.5L1759.7 391.8L1762.5 391.2L1765.4 390.7L1768.4 390.3L1771.3 390.0L1774.3 389.7L1777.2 389.6L1780.2 389.6L1783.2 389.7L1786.2 389.9L1789.2 390.2L1792.2 390.5L1795.2 391.0L1798.3 391.6L1801.3 392.2L1804.3 393.0L1807.3 393.8L1810.2 394.7L1813.2 395.7L1816.1 396.8L1818.9 398.0L1821.8 399.3L1824.6 400.6L1827.3 402.1L1830.0 403.6L1832.6 405.2L1835.2 406.9L1837.7 408.6L1840.1 410.5L1842.4 412.4L1844.7 414.4L1846.8 416.5L1848.9 418.6L1850.9 420.8L1852.7 423.1L1854.5 425.5L1856.3 427.9L1857.9 430.3L1859.5 432.9L1861.0 435.4L1862.5 438.0L1863.9 440.6L1865.3 443.3L1866.7 446.0L1868.0 448.7L1869.3 451.4L1870.6 454.1L1871.9 456.9L1873.1 459.6L1874.4 462.4L1875.6 465.1L1876.9 467.9L1878.1 470.6L1879.4 473.3L1880.6 476.1L1881.9 478.8L1883.1 481.6L1884.3 484.4L1885.5 487.1L1886.8 489.9L1888.0 492.6L1889.2 495.4L1890.4 498.1L1891.6 500.9L1892.8 503.7L1894.0 506.4L1895.2 509.2L1896.4 511.9L1897.6 514.7L1898.8 517.5L1900.0 520.2L1901.2 523.0L1902.4 525.8L1903.6 528.5L1904.8 531.3L1906.0 534.0L1907.2 536.8L1908.4 539.6L1909.6 542.3L1910.9 545.1L1912.1 547.8L1913.3 550.6L1914.5 553.3L1915.7 556.1L1916.9 558.8L1918.1 561.6L1919.3 564.4L1920.6 567.1L1921.8 569.8L1923.0 572.6L1924.3 575.3L1925.5 578.1L1926.8 580.8L1928.0 583.6L1929.3 586.3L1930.5 589.0L1931.8 591.8L1933.1 594.5L1934.3 597.2L1935.6 599.9L1936.9 602.6L1938.2 605.4L1939.5 608.1L1940.8 610.8L1942.1 613.5L1943.5 616.2L1944.8 618.9L1946.1 621.6L1947.5 624.3L1948.9 627.0L1950.2 629.7L1951.6 632.4L1953.0 635.0L1954.4 637.7L1955.8 640.4L1957.2 643.1L1958.6 645.7" fill="none" stroke="#008000" stroke-width="5.6" stroke-linejoin="round"/>
<path d="M1115.2 735.1L1116.2 732.2L1117.2 729.3L1118.3 726.5L1119.5 723.7L1120.7 721.0L1122.0 718.3L1123.4 715.6L1124.8 713.0L1126.3 710.3L1127.8 707.8L1129.4 705.2L1131.0 702.6L1132.6 700.1L1134.2 697.6L1135.9 695.1L1137.6 692.6L1139.4 690.1L1141.1 687.7L1142.8 685.2L1144.6 682.7L1146.4 680.3L1148.1 677.8L1149.9 675.3L1151.6 672.9L1153.3 670.4L1155.0 667.9L1156.7 665.4L1158.4 662.9L1160.0 660.3L1161.6 657.8L1163.1 655.2L1164.7 652.6L1166.2 650.0L1167.7 647.4L1169.1 644.8L1170.5 642.1L1172.0 639.5L1173.4 636.8L1174.7 634.1L1176.1 631.4L1177.4 628.7L1178.8 626.0L1180.1 623.3L1181.4 620.6L1182.8 617.9L1184.1 615.2L1185.4 612.4L1186.7 609.7L1188.0 607.0L1189.3 604.3L1190.7 601.6L1192.0 598.9L1193.3 596.2L1194.7 593.5L1196.1 590.8L1197.4 588.1L1198.8 585.4L1200.3 582.8L1201.7 580.1L1203.2 577.5L1204.7 574.8L1206.2 572.2L1207.7 569.6L1209.3 567.1L1210.8 564.5L1212.4 561.9L1214.1 559.4L1215.7 556.9L1217.4 554.4L1219.1 551.9L1220.8 549.4L1222.5 546.9L1224.3 544.5L1226.0 542.0L1227.8 539.6L1229.6 537.2L1231.5 534.8L1233.3 532.5L1235.2 530.1L1237.1 527.8L1239.0 525.5L1241.0 523.2L1242.9 520.9L1244.9 518.6L1246.9 516.4L1248.9 514.1L1251.0 511.9L1253.0 509.7L1255.1 507.6L1257.2 505.4L1259.3 503.3L1261.4 501.2L1263.6 499.1L1265.7 497.0L1267.9 494.9L1270.1 492.9L1272.3 490.9L1274.5 488.9L1276.8 486.9L1279.1 484.9L1281.3 483.0L1283.6 481.1L1285.9 479.2L1288.3 477.3L1290.6 475.5L1293.0 473.6L1295.4 471.8L1297.7 470.0L1300.2 468.3L1302.6 466.5L1305.0 464.8L1307.5 463.1L1309.9 461.5L1312.4 459.8L1314.9 458.2L1317.4 456.6L1319.9 455.0L1322.4 453.4L1325.0 451.8L1327.5 450.3L1330.1 448.8L1332.7 447.3L1335.3 445.8L1337.9 444.4L1340.5 442.9L1343.1 441.5L1345.7 440.1L1348.3 438.7L1351.0 437.3L1353.6 435.9L1356.3 434.5L1359.0 433.2L1361.7 431.9L1364.4 430.5L1367.1 429.2L1369.8 427.9L1372.5 426.6L1375.2 425.4L1377.9 424.1L1380.6 422.8L1383.4 421.6L1386.1 420.3L1388.9 419.1L1391.6 417.8L1394.4 416.6L1397.1 415.4L1399.9 414.2L1402.7 413.0L1405.4 411.8L1408.2 410.6L1411.0 409.4L1413.8 408.2L1416.5 407.0L1419.3 405.8L1422.1 404.6L1424.9 403.4L1427.7 402.2L1430.5 401.0L1433.3 399.8L1436.0 398.7L1438.8 397.5L1441.6 396.3L1444.4 395.1L1447.2 393.9L1450.0 392.7L1452.8 391.5L1455.5 390.3L1458.3 389.1L1461.1 387.8L1463.9 386.6L1466.6 385.4L1469.4 384.1L1472.2 382.9L1474.9 381.6L1477.7 380.4L1480.4 379.1L1483.2 377.8L1485.9 376.5L1488.6 375.3L1491.4 373.9L1494.1 372.6L1496.8 371.3L1499.5 370.0L1502.2 368.6L1505.0 367.3L1507.7 366.0L1510.4 364.6L1513.1 363.3L1515.8 361.9L1518.5 360.6L1521.2 359.3L1523.9 357.9L1526.6 356.6L1529.3 355.3L1532.0 354.0L1534.7 352.7L1537.4 351.4L1540.1 350.1L1542.8 348.8L1545.5 347.5L1548.2 346.3L1550.9 345.0L1553.7 343.8L1556.4 342.6L1559.1 341.4L1561.9 340.2L1564.6 339.0L1567.3 337.9L1570.1 336.8L1572.9 335.7L1575.6 334.6L1578.4 333.6L1581.2 332.5L1584.0 331.5L1586.8 330.6L1589.6 329.6L1592.4 328.7L1595.3 327.8L1598.1 327.0L1600.9 326.1L1603.8 325.4L1606.7 324.6L1609.6 323.9L1612.5 323.2L1615.4 322.6L1618.3 321.9L1621.2 321.4L1624.2 320.9L1627.2 320.4L1630.1 319.9L1633.1 319.5L1636.2 319.2L1639.2 318.9L1642.2 318.6L1645.3 318.4L1648.4 318.2L1651.5 318.1L1654.6 318.0L1657.7 318.0L1660.9 318.1L1664.0 318.1L1667.2 318.2L1670.4 318.3L1673.5 318.4L1676.7 318.5L1679.8 318.6L1682.9 318.7L1686.0 318.7L1689.1 318.7L1692.2 318.6L1695.2 318.4L1698.2 318.2L1701.1 317.9L1704.0 317.5L1706.8 317.0L1709.6 316.3L1712.3 315.6L1714.9 314.6L1717.5 313.6L1720.0 312.4L1722.4 311.0L1724.7 309.4L1727.0 307.7L1729.1 305.8L1731.2 303.8L1733.3 301.6L1735.2 299.4L1737.1 297.0L1739.0 294.4L1740.8 291.8L1742.6 289.1L1744.3 286.3L1745.9 283.5L1747.6 280.6L1749.2 277.6L1750.7 274.6L1752.3 271.5L1753.8 268.4L1755.3 265.3L1756.8 262.3L1758.3 259.2L1759.8 256.3L1761.4 253.6L1762.9 251.1L1764.6 248.9L1766.3 247.1L1768.0 245.7L1769.9 244.8L1771.9 244.5L1774.0 244.7L1776.2 245.3L1778.4 246.4L1780.7 247.8L1783.0 249.5L1785.3 251.4L1787.6 253.5L1789.9 255.6L1792.1 257.8L1794.3 260.0L1796.5 262.3L1798.6 264.6L1800.7 266.9L1802.7 269.2L1804.7 271.5L1806.7 273.9L1808.6 276.3L1810.4 278.8L1812.3 281.2L1814.1 283.7L1815.9 286.2L1817.6 288.7L1819.4 291.2L1821.0 293.7L1822.7 296.3L1824.3 298.9L1825.9 301.4L1827.5 304.0L1829.1 306.7L1830.6 309.3L1832.1 311.9L1833.6 314.6L1835.1 317.2L1836.6 319.9L1838.0 322.5L1839.4 325.2L1840.8 327.9L1842.2 330.6L1843.6 333.3L1845.0 336.0L1846.3 338.7L1847.6 341.4L1848.9 344.1L1850.2 346.8L1851.5 349.5L1852.8 352.3L1854.1 355.0L1855.3 357.7L1856.5 360.5L1857.8 363.2L1859.0 366.0L1860.2 368.7L1861.3 371.5L1862.5 374.3L1863.7 377.0L1864.8 379.8L1866.0 382.6L1867.1 385.4L1868.2 388.1L1869.4 390.9L1870.5 393.7L1871.6 396.5L1872.6 399.3L1873.7 402.1L1874.8 404.9L1875.9 407.7L1876.9 410.5L1878.0 413.3L1879.0 416.2L1880.1 419.0L1881.1 421.8L1882.1 424.6L1883.1 427.4L1884.2 430.3L1885.2 433.1L1886.2 435.9L1887.2 438.8L1888.2 441.6L1889.2 444.4L1890.2 447.2L1891.2 450.1L1892.2 452.9L1893.2 455.8L1894.1 458.6L1895.1 461.4L1896.1 464.3L1897.1 467.1L1898.1 469.9L1899.1 472.8L1900.0 475.6L1901.0 478.5L1902.0 481.3L1903.0 484.1L1904.0 487.0L1905.0 489.8L1906.0 492.7L1906.9 495.5L1907.9 498.3L1908.9 501.2L1909.9 504.0L1910.9 506.8L1911.9 509.7L1913.0 512.5L1914.0 515.3L1915.0 518.2L1916.0 521.0L1917.0 523.8L1918.1 526.6L1919.1 529.4L1920.2 532.3L1921.2 535.1L1922.3 537.9L1923.4 540.7L1924.4 543.5L1925.5 546.3L1926.6 549.1L1927.7 551.9L1928.8 554.7L1929.9 557.5L1931.1 560.3L1932.2 563.1L1933.3 565.9L1934.5 568.6L1935.7 571.4L1936.8 574.2L1938.0 576.9L1939.2 579.7L1940.4 582.5L1941.7 585.2L1942.9 588.0L1944.2 590.7L1945.4 593.5L1946.7 596.2L1948.0 598.9L1949.3 601.6L1950.6 604.4L1951.9 607.1L1953.3 609.8L1954.7 612.5L1956.0 615.2L1957.4 617.9" fill="none" stroke="#ff0000" stroke-width="5.6" stroke-linejoin="round"/>
<path d="M1114.3 737.7L1115.9 735.1L1117.4 732.5L1118.9 729.9L1120.5 727.2L1122.0 724.6L1123.5 722.0L1125.1 719.4L1126.6 716.9L1128.1 714.3L1129.7 711.7L1131.2 709.1L1132.7 706.5L1134.3 703.9L1135.8 701.4L1137.3 698.8L1138.9 696.2L1140.4 693.6L1141.9 691.0L1143.4 688.5L1144.9 685.9L1146.5 683.3L1148.0 680.7L1149.5 678.2L1151.0 675.6L1152.5 673.0L1154.0 670.4L1155.5 667.8L1157.0 665.2L1158.5 662.7L1160.0 660.1L1161.5 657.5L1163.0 654.9L1164.4 652.3L1165.9 649.7L1167.4 647.1L1168.8 644.4L1170.3 641.8L1171.8 639.2L1173.2 636.6L1174.7 633.9L1176.1 631.3L1177.5 628.7L1179.0 626.0L1180.4 623.4L1181.8 620.7L1183.2 618.0L1184.6 615.3L1186.0 612.7L1187.4 610.0L1188.8 607.3L1190.2 604.6L1191.6 601.9L1193.0 599.2L1194.5 596.6L1195.9 593.9L1197.3 591.2L1198.8 588.6L1200.2 585.9L1201.7 583.3L1203.2 580.6L1204.6 578.0L1206.2 575.4L1207.7 572.8L1209.2 570.2L1210.8 567.6L1212.4 565.1L1214.0 562.6L1215.6 560.0L1217.3 557.5L1219.0 555.1L1220.7 552.6L1222.5 550.2L1224.2 547.8L1226.1 545.4L1227.9 543.1L1229.8 540.8L1231.7 538.5L1233.6 536.2L1235.6 533.9L1237.6 531.7L1239.6 529.5L1241.6 527.3L1243.7 525.2L1245.8 523.0L1247.9 520.9L1250.1 518.8L1252.2 516.8L1254.4 514.7L1256.7 512.7L1258.9 510.7L1261.2 508.7L1263.5 506.8L1265.8 504.9L1268.1 502.9L1270.4 501.1L1272.8 499.2L1275.2 497.3L1277.6 495.5L1280.0 493.7L1282.4 491.9L1284.9 490.1L1287.4 488.4L1289.8 486.6L1292.3 484.9L1294.8 483.2L1297.4 481.5L1299.9 479.9L1302.4 478.2L1305.0 476.6L1307.6 475.0L1310.1 473.4L1312.7 471.8L1315.3 470.3L1317.9 468.7L1320.6 467.2L1323.2 465.7L1325.8 464.2L1328.4 462.7L1331.1 461.2L1333.7 459.8L1336.4 458.3L1339.0 456.9L1341.7 455.5L1344.4 454.1L1347.0 452.7L1349.7 451.4L1352.4 450.0L1355.1 448.7L1357.7 447.3L1360.4 446.0L1363.1 444.7L1365.8 443.4L1368.5 442.1L1371.2 440.8L1373.9 439.5L1376.6 438.2L1379.4 437.0L1382.1 435.7L1384.8 434.5L1387.5 433.2L1390.2 432.0L1393.0 430.8L1395.7 429.6L1398.4 428.3L1401.2 427.1L1403.9 425.9L1406.6 424.7L1409.4 423.5L1412.1 422.3L1414.9 421.1L1417.6 420.0L1420.4 418.8L1423.1 417.6L1425.9 416.4L1428.6 415.2L1431.4 414.0L1434.1 412.9L1436.9 411.7L1439.6 410.5L1442.4 409.3L1445.1 408.1L1447.9 407.0L1450.7 405.8L1453.4 404.6L1456.2 403.4L1458.9 402.2L1461.7 401.0L1464.4 399.8L1467.2 398.6L1469.9 397.4L1472.7 396.2L1475.4 395.0L1478.2 393.8L1480.9 392.5L1483.7 391.3L1486.4 390.0L1489.2 388.8L1491.9 387.5L1494.7 386.3L1497.4 385.0L1500.1 383.7L1502.9 382.4L1505.6 381.1L1508.4 379.8L1511.1 378.5L1513.8 377.2L1516.5 375.8L1519.3 374.5L1522.0 373.1L1524.7 371.8L1527.4 370.5L1530.2 369.1L1532.9 367.8L1535.6 366.4L1538.3 365.1L1541.1 363.8L1543.8 362.5L1546.6 361.2L1549.3 359.9L1552.0 358.6L1554.8 357.4L1557.6 356.2L1560.3 354.9L1563.1 353.8L1565.9 352.6L1568.6 351.5L1571.4 350.4L1574.2 349.3L1577.0 348.2L1579.8 347.2L1582.7 346.2L1585.5 345.3L1588.3 344.4L1591.2 343.5L1594.1 342.7L1596.9 341.9L1599.8 341.2L1602.7 340.5L1605.6 339.9L1608.6 339.3L1611.5 338.7L1614.5 338.3L1617.4 337.8L1620.4 337.5L1623.4 337.1L1626.4 336.8L1629.4 336.6L1632.4 336.3L1635.5 336.2L1638.5 336.0L1641.5 335.9L1644.6 335.8L1647.6 335.7L1650.7 335.6L1653.7 335.5L1656.8 335.5L1659.8 335.4L1662.9 335.4L1665.9 335.3L1668.9 335.3L1672.0 335.2L1675.0 335.2L1678.0 335.1L1681.0 335.0L1684.1 334.9L1687.1 334.8L1690.0 334.6L1693.0 334.4L1696.0 334.2L1698.9 334.0L1701.9 333.7L1704.8 333.3L1707.7 332.9L1710.5 332.4L1713.3 331.8L1716.0 331.0L1718.6 330.1L1721.2 328.9L1723.6 327.6L1726.0 326.1L1728.3 324.4L1730.5 322.5L1732.6 320.5L1734.7 318.3L1736.7 316.0L1738.6 313.5L1740.5 311.0L1742.4 308.4L1744.3 305.7L1746.1 302.9L1747.9 300.2L1749.8 297.4L1751.6 294.6L1753.4 291.9L1755.3 289.3L1757.2 286.7L1759.1 284.4L1761.1 282.1L1763.1 280.1L1765.1 278.3L1767.2 276.7L1769.4 275.4L1771.7 274.4L1774.1 273.7L1776.5 273.4L1779.0 273.3L1781.6 273.6L1784.1 274.2L1786.7 275.0L1789.2 276.0L1791.7 277.3L1794.1 278.8L1796.5 280.5L1798.7 282.4L1800.9 284.5L1802.9 286.7L1804.9 289.0L1806.9 291.4L1808.7 294.0L1810.6 296.6L1812.3 299.4L1814.0 302.1L1815.7 305.0L1817.4 307.8L1819.0 310.7L1820.6 313.5L1822.1 316.4L1823.7 319.2L1825.3 322.0L1826.8 324.8L1828.3 327.6L1829.8 330.3L1831.3 333.0L1832.8 335.7L1834.3 338.4L1835.8 341.1L1837.2 343.8L1838.7 346.4L1840.1 349.1L1841.5 351.7L1842.9 354.4L1844.3 357.0L1845.7 359.6L1847.1 362.2L1848.4 364.8L1849.8 367.4L1851.1 370.0L1852.5 372.7L1853.8 375.3L1855.1 377.9L1856.4 380.5L1857.7 383.1L1859.0 385.8L1860.3 388.4L1861.5 391.1L1862.8 393.7L1864.0 396.4L1865.3 399.1L1866.5 401.8L1867.7 404.5L1868.9 407.2L1870.1 409.9L1871.3 412.6L1872.5 415.3L1873.7 418.0L1874.9 420.8L1876.0 423.5L1877.2 426.3L1878.4 429.0L1879.5 431.8L1880.7 434.5L1881.8 437.3L1882.9 440.1L1884.1 442.9L1885.2 445.7L1886.3 448.4L1887.5 451.2L1888.6 454.0L1889.7 456.8L1890.8 459.6L1891.9 462.4L1893.0 465.2L1894.1 468.1L1895.2 470.9L1896.3 473.7L1897.4 476.5L1898.5 479.3L1899.6 482.1L1900.7 485.0L1901.8 487.8L1902.9 490.6L1904.0 493.4L1905.1 496.2L1906.2 499.1L1907.3 501.9L1908.4 504.7L1909.5 507.5L1910.7 510.4L1911.8 513.2L1912.9 516.0L1914.0 518.8L1915.1 521.6L1916.2 524.4L1917.3 527.3L1918.5 530.1L1919.6 532.9L1920.7 535.7L1921.9 538.5L1923.0 541.3L1924.2 544.1L1925.3 546.8L1926.5 549.6L1927.7 552.4L1928.8 555.2L1930.0 558.0L1931.2 560.7L1932.4 563.5L1933.6 566.2L1934.8 569.0L1936.0 571.7L1937.2 574.5L1938.5 577.2L1939.7 579.9L1941.0 582.6L1942.2 585.3L1943.5 588.0L1944.8 590.7L1946.0 593.4L1947.3 596.1L1948.6 598.8L1950.0 601.4L1951.3 604.1L1952.6 606.7L1954.0 609.4L1955.3 612.0L1956.7 614.6L1958.1 617.2" fill="none" stroke="#ffa500" stroke-width="5.6" stroke-linejoin="round"/>
<path d="M1115.0 755.1L1116.4 752.4L1117.9 749.7L1119.3 747.1L1120.7 744.4L1122.2 741.8L1123.6 739.1L1125.1 736.5L1126.6 733.8L1128.1 731.2L1129.5 728.6L1131.0 726.0L1132.5 723.3L1134.0 720.7L1135.5 718.1L1137.0 715.5L1138.5 712.9L1140.1 710.3L1141.6 707.7L1143.1 705.1L1144.6 702.5L1146.1 700.0L1147.7 697.4L1149.2 694.8L1150.7 692.2L1152.3 689.6L1153.8 687.1L1155.3 684.5L1156.9 681.9L1158.4 679.3L1159.9 676.8L1161.5 674.2L1163.0 671.6L1164.5 669.0L1166.1 666.5L1167.6 663.9L1169.1 661.3L1170.7 658.7L1172.2 656.2L1173.7 653.6L1175.2 651.0L1176.7 648.4L1178.3 645.8L1179.8 643.2L1181.3 640.7L1182.8 638.1L1184.3 635.5L1185.7 632.9L1187.2 630.3L1188.7 627.7L1190.2 625.1L1191.7 622.5L1193.1 619.9L1194.6 617.2L1196.0 614.6L1197.5 612.0L1198.9 609.4L1200.3 606.7L1201.7 604.1L1203.1 601.4L1204.5 598.8L1205.9 596.1L1207.3 593.5L1208.7 590.8L1210.1 588.1L1211.4 585.4L1212.7 582.8L1214.1 580.1L1215.4 577.4L1216.7 574.6L1218.0 571.9L1219.3 569.2L1220.6 566.5L1221.9 563.8L1223.2 561.0L1224.5 558.3L1225.8 555.6L1227.0 552.9L1228.3 550.1L1229.6 547.4L1230.9 544.7L1232.2 542.0L1233.5 539.2L1234.8 536.5L1236.1 533.8L1237.4 531.1L1238.8 528.4L1240.1 525.7L1241.5 523.1L1242.8 520.4L1244.2 517.7L1245.6 515.1L1247.0 512.4L1248.4 509.8L1249.9 507.2L1251.4 504.6L1252.8 502.0L1254.4 499.4L1255.9 496.8L1257.4 494.3L1259.0 491.7L1260.6 489.2L1262.3 486.7L1263.9 484.2L1265.6 481.8L1267.4 479.3L1269.1 476.9L1270.9 474.5L1272.7 472.1L1274.6 469.8L1276.5 467.4L1278.4 465.1L1280.4 462.8L1282.3 460.6L1284.3 458.3L1286.3 456.0L1288.4 453.8L1290.4 451.5L1292.4 449.2L1294.4 446.9L1296.4 444.6L1298.3 442.3L1300.3 440.0L1302.2 437.6L1304.1 435.2L1305.9 432.8L1307.8 430.4L1309.7 428.0L1311.6 425.6L1313.5 423.3L1315.4 420.9L1317.3 418.6L1319.3 416.4L1321.3 414.1L1323.3 411.9L1325.4 409.8L1327.5 407.7L1329.6 405.6L1331.8 403.5L1333.9 401.5L1336.1 399.5L1338.4 397.6L1340.6 395.6L1342.9 393.8L1345.2 391.9L1347.5 390.1L1349.9 388.3L1352.2 386.5L1354.6 384.8L1357.1 383.0L1359.5 381.4L1362.0 379.7L1364.4 378.0L1366.9 376.4L1369.5 374.8L1372.0 373.3L1374.5 371.7L1377.1 370.2L1379.7 368.7L1382.3 367.2L1384.9 365.8L1387.6 364.3L1390.2 362.9L1392.9 361.5L1395.5 360.1L1398.2 358.7L1400.9 357.4L1403.6 356.0L1406.3 354.7L1409.1 353.4L1411.8 352.1L1414.6 350.8L1417.3 349.6L1420.1 348.3L1422.8 347.0L1425.6 345.8L1428.4 344.6L1431.2 343.3L1434.0 342.1L1436.8 340.9L1439.6 339.7L1442.4 338.5L1445.2 337.3L1448.0 336.1L1450.8 335.0L1453.6 333.8L1456.4 332.6L1459.2 331.4L1462.0 330.3L1464.9 329.1L1467.7 327.9L1470.5 326.8L1473.3 325.6L1476.0 324.4L1478.8 323.2L1481.6 322.1L1484.4 320.9L1487.2 319.7L1489.9 318.5L1492.7 317.3L1495.4 316.1L1498.2 314.9L1500.9 313.7L1503.6 312.4L1506.4 311.2L1509.1 310.0L1511.8 308.7L1514.5 307.4L1517.1 306.2L1519.8 304.9L1522.5 303.6L1525.2 302.4L1527.8 301.1L1530.5 299.8L1533.1 298.5L1535.8 297.2L1538.5 295.9L1541.1 294.6L1543.7 293.2L1546.4 291.9L1549.0 290.6L1551.7 289.3L1554.3 287.9L1556.9 286.6L1559.6 285.2L1562.2 283.9L1564.9 282.5L1567.5 281.2L1570.2 279.8L1572.8 278.5L1575.5 277.1L1578.1 275.7L1580.8 274.4L1583.4 273.0L1586.1 271.6L1588.8 270.2L1591.5 268.9L1594.1 267.5L1596.8 266.1L1599.5 264.7L1602.2 263.3L1604.9 261.9L1607.6 260.6L1610.4 259.2L1613.1 257.8L1615.9 256.4L1618.6 255.0L1621.4 253.6L1624.1 252.3L1626.9 250.9L1629.7 249.6L1632.5 248.3L1635.3 247.1L1638.1 245.9L1641.0 244.8L1643.8 243.7L1646.7 242.7L1649.5 241.8L1652.4 241.0L1655.3 240.2L1658.2 239.5L1661.0 238.8L1663.9 238.2L1666.8 237.7L1669.8 237.3L1672.7 236.9L1675.6 236.5L1678.5 236.3L1681.5 236.1L1684.4 235.9L1687.3 235.8L1690.3 235.8L1693.2 235.8L1696.2 235.9L1699.1 236.0L1702.1 236.2L1705.0 236.4L1708.0 236.7L1710.9 237.0L1713.8 237.4L1716.8 237.8L1719.7 238.3L1722.7 238.8L1725.6 239.4L1728.6 240.0L1731.5 240.7L1734.4 241.4L1737.4 242.1L1740.3 242.9L1743.2 243.7L1746.1 244.6L1749.0 245.5L1751.9 246.4L1754.8 247.4L1757.7 248.4L1760.6 249.4L1763.4 250.5L1766.3 251.6L1769.2 252.7L1772.0 253.9L1774.8 255.1L1777.7 256.3L1780.5 257.6L1783.3 258.8L1786.1 260.1L1788.8 261.4L1791.6 262.8L1794.3 264.2L1797.1 265.6L1799.8 267.0L1802.5 268.4L1805.2 269.8L1807.9 271.3L1810.5 272.8L1813.2 274.3L1815.8 275.8L1818.4 277.3L1821.0 278.9L1823.6 280.5L1826.1 282.1L1828.6 283.7L1831.1 285.4L1833.6 287.0L1836.0 288.7L1838.4 290.5L1840.8 292.2L1843.1 294.0L1845.4 295.8L1847.7 297.7L1849.9 299.6L1852.1 301.5L1854.3 303.5L1856.4 305.5L1858.5 307.5L1860.5 309.6L1862.5 311.7L1864.5 313.8L1866.4 316.0L1868.2 318.3L1870.0 320.6L1871.7 322.9L1873.4 325.3L1875.1 327.7L1876.7 330.2L1878.2 332.7L1879.7 335.3L1881.1 337.9L1882.5 340.6L1883.8 343.3L1885.1 346.1L1886.3 348.8L1887.5 351.6L1888.6 354.5L1889.8 357.3L1890.8 360.2L1891.9 363.1L1892.8 366.1L1893.8 369.0L1894.7 371.9L1895.7 374.9L1896.5 377.9L1897.4 380.8L1898.2 383.8L1899.0 386.8L1899.8 389.7L1900.6 392.7L1901.3 395.6L1902.0 398.6L1902.7 401.5L1903.4 404.5L1904.1 407.4L1904.8 410.4L1905.4 413.3L1906.0 416.3L1906.6 419.2L1907.2 422.2L1907.8 425.1L1908.3 428.0L1908.9 431.0L1909.4 433.9L1909.9 436.9L1910.4 439.8L1910.9 442.7L1911.4 445.7L1911.9 448.6L1912.3 451.6L1912.8 454.5L1913.2 457.4L1913.6 460.4L1914.0 463.3L1914.5 466.3L1914.9 469.2L1915.3 472.2L1915.6 475.1L1916.0 478.1L1916.4 481.0L1916.8 484.0L1917.1 487.0L1917.5 489.9L1917.9 492.9L1918.2 495.9L1918.6 498.8L1918.9 501.8L1919.3 504.8L1919.6 507.8L1920.0 510.8L1920.3 513.7L1920.7 516.7L1921.0 519.7L1921.4 522.7L1921.7 525.8L1922.1 528.8L1922.4 531.8L1922.8 534.8L1923.1 537.8L1923.5 540.9L1923.9 543.9L1924.2 546.9L1924.6 550.0L1925.0 553.0L1925.4 556.0L1925.8 559.0L1926.2 562.1L1926.6 565.1L1927.0 568.1L1927.4 571.1L1927.8 574.1L1928.2 577.1L1928.7 580.1L1929.1 583.0L1929.5 586.0L1930.0 589.0L1930.5 591.9L1930.9 594.8L1931.4 597.8L1931.9 600.7L1932.4 603.6L1932.9 606.4L1933.4 609.3L1933.9 612.1L1934.4 615.0L1935.0 617.8L1935.5 620.6L1936.1 623.3L1936.6 626.1L1937.3 628.7L1938.6 630.9L1941.2 632.2L1945.7 632.0L1951.1 631.2L1952.4 633.7" fill="none" stroke="#0000ff" stroke-width="5.6" stroke-linejoin="round"/>
<path d="M1424.0 575.0L1425.9 574.8L1427.8 574.6L1429.8 574.5L1431.8 574.3L1433.8 574.2L1435.9 574.0L1438.0 573.8L1440.1 573.6L1442.2 573.4L1444.3 573.1L1446.4 572.9L1448.5 572.6L1450.6 572.3L1452.8 571.9L1454.9 571.5L1456.9 571.1L1459.0 570.6L1461.0 570.0L1463.0 569.5L1465.0 568.8L1467.0 568.1L1468.9 567.3L1470.7 566.5L1472.5 565.6L1474.3 564.6L1475.9 563.5L1477.6 562.4L1479.1 561.1L1480.6 559.8L1482.0 558.4L1483.4 556.9L1484.6 555.3L1485.8 553.6L1487.0 551.9L1488.1 550.2L1489.2 548.4L1490.2 546.5L1491.2 544.6L1492.2 542.7L1493.1 540.8L1494.0 538.9L1494.9 537.0L1495.8 535.1L1496.7 533.2L1497.6 531.3L1498.5 529.5L1499.4 527.7L1500.3 526.0L1501.3 524.3L1502.2 522.6L1503.1 520.9L1504.0 519.1L1504.9 517.3L1505.7 515.3L1506.4 513.3L1507.0 511.1L1507.1 624.5L1505.1 623.1L1503.2 622.0L1501.2 621.1L1499.2 620.5L1497.1 620.2L1495.1 620.0L1493.2 620.1L1491.2 620.5L1489.3 621.0L1487.5 621.7L1485.7 622.6L1484.1 623.7L1482.5 624.9L1481.1 626.3L1479.7 627.8L1478.4 629.4L1477.2 631.1L1476.0 632.8L1474.9 634.6L1473.8 636.3L1472.8 638.1L1471.9 640.0L1470.9 641.8L1470.1 643.7L1469.2 645.5L1468.3 647.4L1467.5 649.3L1466.7 651.1L1465.9 653.0L1465.1 654.9L1464.4 656.8L1463.6 658.7L1462.8 660.6L1462.0 662.5L1461.2 664.3L1460.4 666.2L1459.6 668.1L1458.8 670.0L1458.0 671.9L1457.2 673.7L1456.4 675.6L1455.6 677.5L1454.8 679.4L1454.0 681.3L1453.2 683.1L1452.4 685.0L1451.6 686.9L1450.8 688.8L1450.0 690.7L1449.3 692.5L1448.5 694.4L1447.7 696.3L1446.9 698.2L1446.1 700.1L1445.3 702.0L1444.6 703.9L1443.8 705.7L1443.0 707.6L1442.3 709.5L1441.5 711.4L1440.8 713.3L1440.0 715.2L1439.3 717.1L1438.5 719.0L1437.8 720.9L1437.1 722.8L1436.3 724.7L1435.6 726.6L1434.9 728.5L1434.2 730.4L1433.5 732.4L1432.8 734.3L1432.1 736.2L1431.4 738.1L1430.8 740.1L1430.1 742.0L1429.5 743.9L1428.8 745.9L1428.2 747.8L1427.6 749.8L1426.9 751.7L1426.3 753.7L1425.7 755.6L1425.1 757.6L1424.6 759.5L1424.0 761.5Z" fill="none" stroke="#808080" stroke-width="7.2" stroke-linejoin="round"/>
<path d="M1424 475C1438 467.7 1452 460.3 1466 453C1480 445.7 1494 438.3 1508 431L1508.1 465.1L1506.0 465.4L1503.9 465.8L1501.9 466.2L1499.8 466.6L1497.8 467.1L1495.8 467.7L1493.9 468.3L1491.9 468.9L1490.0 469.6L1488.1 470.3L1486.2 471.1L1484.3 471.9L1482.5 472.7L1480.6 473.6L1478.8 474.5L1477.0 475.4L1475.3 476.4L1473.5 477.4L1471.8 478.4L1470.0 479.5L1468.3 480.6L1466.6 481.7L1464.9 482.9L1463.3 484.1L1461.6 485.3L1460.0 486.5L1458.3 487.7L1456.7 489.0L1455.1 490.3L1453.6 491.6L1452.0 492.9L1450.4 494.3L1448.9 495.6L1447.3 497.0L1445.8 498.4L1444.3 499.8L1442.8 501.2L1441.3 502.6L1439.8 504.0L1438.3 505.5L1436.9 506.9L1435.4 508.4L1434.0 509.8L1432.5 511.3L1431.1 512.7L1429.7 514.2L1428.2 515.7L1426.8 517.1L1425.4 518.6L1424.0 520.0Z" fill="none" stroke="#008000" stroke-width="7.2" stroke-linejoin="round"/>
<path d="M1424 399C1438 394.3 1452 389.5 1466 385C1480 380.5 1494 376.3 1508 372L1508.1 402.7L1506.0 403.0L1503.9 403.3L1501.8 403.7L1499.8 404.1L1497.8 404.5L1495.7 405.0L1493.7 405.5L1491.7 406.1L1489.7 406.6L1487.8 407.3L1485.8 407.9L1483.9 408.6L1482.0 409.4L1480.1 410.2L1478.2 411.0L1476.3 411.8L1474.5 412.7L1472.7 413.7L1470.9 414.6L1469.1 415.6L1467.3 416.7L1465.6 417.8L1463.9 418.9L1462.2 420.1L1460.5 421.3L1458.9 422.5L1457.2 423.7L1455.6 425.0L1454.0 426.3L1452.4 427.7L1450.9 429.0L1449.3 430.4L1447.8 431.8L1446.3 433.3L1444.8 434.7L1443.3 436.2L1441.8 437.7L1440.4 439.1L1438.9 440.7L1437.5 442.2L1436.1 443.7L1434.7 445.3L1433.3 446.8L1432.0 448.4L1430.6 449.9L1429.3 451.5L1427.9 453.0L1426.6 454.6L1425.3 456.2L1424.0 457.7Z" fill="none" stroke="#ffa500" stroke-width="7.2" stroke-linejoin="round"/>
<path d="M1424 395C1438 386.7 1452 378.5 1466 370C1480 361.5 1494 352.7 1508 344L1508 378C1494 382.7 1480.1 387.8 1466 392C1452.1 396.1 1438 399.3 1424 403Z" fill="none" stroke="#ff0000" stroke-width="7.2" stroke-linejoin="round"/>
<path d="M1424 350C1438 341.7 1452 333.3 1466 325C1480 316.7 1494 308.3 1508 300L1508.1 313.6L1506.1 314.2L1504.1 314.7L1502.1 315.3L1500.1 316.0L1498.1 316.6L1496.2 317.3L1494.2 318.0L1492.3 318.7L1490.4 319.4L1488.4 320.2L1486.5 321.0L1484.6 321.8L1482.8 322.6L1480.9 323.5L1479.0 324.4L1477.2 325.3L1475.3 326.2L1473.5 327.2L1471.7 328.2L1469.9 329.2L1468.1 330.2L1466.4 331.3L1464.6 332.4L1462.9 333.5L1461.2 334.6L1459.5 335.7L1457.8 336.9L1456.1 338.1L1454.4 339.3L1452.8 340.6L1451.2 341.8L1449.6 343.1L1448.0 344.4L1446.4 345.8L1444.9 347.1L1443.3 348.5L1441.8 349.9L1440.3 351.3L1438.9 352.8L1437.4 354.2L1436.0 355.7L1434.6 357.2L1433.2 358.8L1431.8 360.3L1430.5 361.9L1429.1 363.5L1427.8 365.1L1426.5 366.7L1425.3 368.4L1424.0 370.1Z" fill="none" stroke="#0000ff" stroke-width="7.2" stroke-linejoin="round"/>
<path d="M1764.1 177.9L1765.2 179.7L1766.3 181.4L1767.3 183.2L1768.4 185.0L1769.5 186.8L1770.6 188.6L1771.6 190.4L1772.7 192.2L1773.8 193.9L1775.0 195.7L1776.1 197.5L1777.2 199.2L1778.4 201.0L1779.6 202.7L1780.8 204.4L1782.1 206.0L1783.4 207.7L1784.7 209.3L1786.1 210.8L1787.4 212.4L1788.9 213.8L1790.3 215.3L1791.8 216.7L1793.4 218.0L1795.0 219.4L1796.6 220.6L1798.3 221.8L1800.1 222.9L1801.9 224.0L1803.7 225.1L1805.6 226.1L1807.4 227.0L1809.4 227.9L1811.3 228.8L1813.2 229.6L1815.2 230.4L1817.2 231.1L1819.2 231.8L1821.2 232.5L1823.1 233.2L1825.1 233.8L1827.1 234.4L1829.0 235.0L1829.0 348.9L1828.0 347.3L1827.1 345.5L1826.2 343.8L1825.3 342.0L1824.4 340.2L1823.5 338.4L1822.6 336.6L1821.7 334.7L1820.9 332.9L1820.0 331.0L1819.2 329.1L1818.3 327.2L1817.4 325.3L1816.6 323.4L1815.7 321.5L1814.9 319.6L1814.0 317.7L1813.1 315.8L1812.2 313.9L1811.3 312.0L1810.4 310.1L1809.5 308.2L1808.6 306.3L1807.6 304.4L1806.6 302.6L1805.7 300.8L1804.6 299.0L1803.6 297.2L1802.6 295.4L1801.5 293.7L1800.4 292.0L1799.2 290.3L1798.0 288.6L1796.8 287.0L1795.6 285.4L1794.3 283.8L1793.0 282.3L1791.7 280.8L1790.3 279.4L1788.9 278.0L1787.4 276.6L1785.9 275.3L1784.4 274.1L1782.8 272.9L1781.1 271.7L1779.4 270.6L1777.7 269.5L1775.9 268.6L1774.0 267.6L1772.1 266.8L1770.2 265.9L1768.1 265.2L1766.0 264.5L1763.9 263.9Z" fill="none" stroke="#0000ff" stroke-width="7.2" stroke-linejoin="round"/>
<path d="M1764.1 181.9L1765.1 183.8L1766.0 185.6L1767.0 187.4L1768.0 189.2L1768.9 191.1L1769.9 192.9L1770.9 194.7L1772.0 196.5L1773.0 198.3L1774.0 200.1L1775.1 201.9L1776.2 203.7L1777.2 205.5L1778.3 207.2L1779.5 209.0L1780.6 210.7L1781.7 212.5L1782.9 214.2L1784.1 215.9L1785.2 217.6L1786.5 219.3L1787.7 220.9L1788.9 222.6L1790.2 224.2L1791.5 225.8L1792.8 227.4L1794.1 229.0L1795.5 230.6L1796.9 232.1L1798.3 233.6L1799.7 235.1L1801.1 236.6L1802.6 238.0L1804.1 239.4L1805.6 240.8L1807.1 242.2L1808.7 243.6L1810.3 244.9L1811.9 246.2L1813.5 247.5L1815.2 248.7L1816.8 250.0L1818.5 251.2L1820.2 252.3L1822.0 253.5L1823.7 254.6L1825.5 255.7L1827.3 256.8L1829.1 257.9L1829.1 343.6L1828.7 341.6L1828.4 339.7L1828.0 337.7L1827.6 335.8L1827.1 333.8L1826.7 331.8L1826.2 329.8L1825.7 327.9L1825.2 325.9L1824.7 323.9L1824.1 322.0L1823.6 320.0L1823.0 318.0L1822.3 316.1L1821.7 314.1L1821.0 312.1L1820.3 310.2L1819.6 308.3L1818.9 306.3L1818.2 304.4L1817.4 302.5L1816.6 300.6L1815.8 298.7L1814.9 296.8L1814.0 294.9L1813.2 293.0L1812.2 291.2L1811.3 289.3L1810.3 287.5L1809.3 285.7L1808.3 283.9L1807.3 282.1L1806.2 280.4L1805.2 278.6L1804.0 276.9L1802.9 275.2L1801.7 273.5L1800.6 271.9L1799.3 270.2L1798.1 268.6L1796.8 267.0L1795.6 265.4L1794.2 263.9L1792.9 262.3L1791.5 260.8L1790.1 259.4L1788.7 257.9L1787.3 256.5L1785.8 255.1L1784.3 253.7L1782.8 252.4L1781.2 251.1L1779.6 249.8L1778.0 248.6L1776.4 247.4L1774.7 246.2L1773.0 245.1L1771.3 243.9L1769.5 242.9L1767.7 241.8L1765.9 240.8L1764.1 239.9Z" fill="none" stroke="#ff0000" stroke-width="7.2" stroke-linejoin="round"/>
<path d="M1269 600V658" stroke="#808080" stroke-width="4" fill="none"/>
<path d="M1269 603L1272.1 612.7L1282.3 612.7L1274.1 618.7L1277.2 628.3L1269 622.3L1260.8 628.3L1263.9 618.7L1255.7 612.7L1265.9 612.7Z" fill="#fff" stroke="#808080" stroke-width="3.2" stroke-linejoin="round"/>
<path d="M1262 530.8L1265.1 540.5L1275.3 540.5L1267.1 546.5L1270.2 556.1L1262 550.1L1253.8 556.1L1256.9 546.5L1248.7 540.5L1258.9 540.5Z" fill="#fff" stroke="#008000" stroke-width="3.2" stroke-linejoin="round"/>
<path d="M1271 524.8L1274.1 534.5L1284.3 534.5L1276.1 540.5L1279.2 550.1L1271 544.1L1262.8 550.1L1265.9 540.5L1257.7 534.5L1267.9 534.5Z" fill="#fff" stroke="#008000" stroke-width="3.2" stroke-linejoin="round"/>
<path d="M1297.9 515.8L1301 525.5L1311.2 525.5L1303 531.5L1306.1 541.1L1297.9 535.1L1289.7 541.1L1292.8 531.5L1284.6 525.5L1294.8 525.5Z" fill="#fff" stroke="#008000" stroke-width="3.2" stroke-linejoin="round"/>
<path d="M1291.9 524.8L1295 534.5L1305.2 534.5L1297 540.5L1300.1 550.1L1291.9 544.1L1283.7 550.1L1286.8 540.5L1278.6 534.5L1288.8 534.5Z" fill="#fff" stroke="#008000" stroke-width="3.2" stroke-linejoin="round"/>
<path d="M1260.5 509.8L1263.6 519.5L1273.8 519.5L1265.6 525.5L1268.7 535.1L1260.5 529.1L1252.3 535.1L1255.4 525.5L1247.2 519.5L1257.4 519.5Z" fill="#fff" stroke="#ffa500" stroke-width="3.2" stroke-linejoin="round"/>
<path d="M1269.4 503.8L1272.5 513.5L1282.7 513.5L1274.5 519.5L1277.6 529.1L1269.4 523.1L1261.2 529.1L1264.3 519.5L1256.1 513.5L1266.3 513.5Z" fill="#fff" stroke="#ffa500" stroke-width="3.2" stroke-linejoin="round"/>
<path d="M1297.9 466.4L1301 476.1L1311.2 476.1L1303 482.1L1306.1 491.7L1297.9 485.7L1289.7 491.7L1292.8 482.1L1284.6 476.1L1294.8 476.1Z" fill="#fff" stroke="#ffa500" stroke-width="3.2" stroke-linejoin="round"/>
<path d="M1278.4 475.4L1281.5 485.1L1291.7 485.1L1283.5 491.1L1286.6 500.7L1278.4 494.7L1270.2 500.7L1273.3 491.1L1265.1 485.1L1275.3 485.1Z" fill="#fff" stroke="#ff0000" stroke-width="3.2" stroke-linejoin="round"/>
<path d="M1282.9 460.4L1286 470.1L1296.2 470.1L1288 476.1L1291.1 485.7L1282.9 479.7L1274.7 485.7L1277.8 476.1L1269.6 470.1L1279.8 470.1Z" fill="#fff" stroke="#ff0000" stroke-width="3.2" stroke-linejoin="round"/>
<path d="M1280 450L1283.1 459.7L1293.3 459.7L1285.1 465.7L1288.2 475.3L1280 469.3L1271.8 475.3L1274.9 465.7L1266.7 459.7L1276.9 459.7Z" fill="#fff" stroke="#0000ff" stroke-width="3.2" stroke-linejoin="round"/>
<path d="M1288 444L1291.1 453.7L1301.3 453.7L1293.1 459.7L1296.2 469.3L1288 463.3L1279.8 469.3L1282.9 459.7L1274.7 453.7L1284.9 453.7Z" fill="#fff" stroke="#0000ff" stroke-width="3.2" stroke-linejoin="round"/>
<path d="M1294 438L1297.1 447.7L1307.3 447.7L1299.1 453.7L1302.2 463.3L1294 457.3L1285.8 463.3L1288.9 453.7L1280.7 447.7L1290.9 447.7Z" fill="#fff" stroke="#0000ff" stroke-width="3.2" stroke-linejoin="round"/>
<path d="M1302.4 432.7L1305.5 442.4L1315.7 442.4L1307.5 448.4L1310.6 458L1302.4 452L1294.2 458L1297.3 448.4L1289.1 442.4L1299.3 442.4Z" fill="#fff" stroke="#0000ff" stroke-width="3.2" stroke-linejoin="round"/>
</g>
<path d="M1250.7 54.5v12M1250.7 835.5v-12M1379 54.5v12M1379 835.5v-12M1507.4 54.5v12M1507.4 835.5v-12M1635.7 54.5v12M1635.7 835.5v-12M1764.1 54.5v12M1764.1 835.5v-12M1892.4 54.5v12M1892.4 835.5v-12" stroke="#000" stroke-width="2.6" fill="none"/>
<path d="M1122.3 95.9h12M1956.6 95.9h-12M1122.3 182.7h12M1956.6 182.7h-12M1122.3 269.5h12M1956.6 269.5h-12M1122.3 356.2h12M1956.6 356.2h-12M1122.3 443h12M1956.6 443h-12M1122.3 529.8h12M1956.6 529.8h-12M1122.3 616.6h12M1956.6 616.6h-12M1122.3 703.3h12M1956.6 703.3h-12M1122.3 790.1h12M1956.6 790.1h-12" stroke="#000" stroke-width="2.6" fill="none"/>
<rect x="1122.3" y="54.5" width="834.3" height="781" fill="none" stroke="#000" stroke-width="2.8"/>
<text x="1119.3" y="876.8" text-anchor="middle" font-size="42.4">10<tspan dy="-14" font-size="29.6">−5</tspan></text>
<text x="1247.7" y="876.8" text-anchor="middle" font-size="42.4">10<tspan dy="-14" font-size="29.6">−3</tspan></text>
<text x="1376" y="876.8" text-anchor="middle" font-size="42.4">10<tspan dy="-14" font-size="29.6">−1</tspan></text>
<text x="1504.4" y="876.8" text-anchor="middle" font-size="42.4">10<tspan dy="-14" font-size="29.6">1</tspan></text>
<text x="1632.7" y="876.8" text-anchor="middle" font-size="42.4">10<tspan dy="-14" font-size="29.6">3</tspan></text>
<text x="1761.1" y="876.8" text-anchor="middle" font-size="42.4">10<tspan dy="-14" font-size="29.6">5</tspan></text>
<text x="1889.4" y="876.8" text-anchor="middle" font-size="42.4">10<tspan dy="-14" font-size="29.6">7</tspan></text>
<text x="1970.5" y="109.5" text-anchor="start" font-size="42.4">10<tspan dy="-14" font-size="29.6">−8</tspan></text>
<text x="1970.5" y="196.3" text-anchor="start" font-size="42.4">10<tspan dy="-14" font-size="29.6">−9</tspan></text>
<text x="1970.5" y="283.1" text-anchor="start" font-size="42.4">10<tspan dy="-14" font-size="29.6">−10</tspan></text>
<text x="1970.5" y="369.8" text-anchor="start" font-size="42.4">10<tspan dy="-14" font-size="29.6">−11</tspan></text>
<text x="1970.5" y="456.6" text-anchor="start" font-size="42.4">10<tspan dy="-14" font-size="29.6">−12</tspan></text>
<text x="1970.5" y="543.4" text-anchor="start" font-size="42.4">10<tspan dy="-14" font-size="29.6">−13</tspan></text>
<text x="1970.5" y="630.2" text-anchor="start" font-size="42.4">10<tspan dy="-14" font-size="29.6">−14</tspan></text>
<text x="1970.5" y="716.9" text-anchor="start" font-size="42.4">10<tspan dy="-14" font-size="29.6">−15</tspan></text>
<text x="1970.5" y="803.7" text-anchor="start" font-size="42.4">10<tspan dy="-14" font-size="29.6">−16</tspan></text>
<path d="M1157.3 107.6H1247.6" stroke="#000" stroke-width="5.8"/>
<path d="M1160 167.7H1247" stroke="#000" stroke-width="5.8" stroke-dasharray="5.8 9.6"/>
<path d="M1160 227.5H1247" stroke="#000" stroke-width="5.8" stroke-dasharray="21.4 9"/>
<path d="M1160 287.3H1246" stroke="#000" stroke-width="5.8" stroke-dasharray="37 9 6 9"/>
<text x="1279" y="122.5" font-size="42.4">Forward shock + kilonova + EIC</text>
<text x="1279" y="182.5" font-size="42.4">Kilonova</text>
<text x="1279" y="242.3" font-size="42.4">EIC</text>
<text x="1279" y="302" font-size="42.4">Jet synchrotron</text>
<text x="1456" y="933" font-size="47" font-style="italic" letter-spacing="4">hν</text><text x="1521" y="932.9" font-size="42.4">[keV]</text>
<text x="1564" y="992" text-anchor="middle" font-size="42.4">(b)</text>
<text transform="translate(2118,448) rotate(-90)" text-anchor="middle" font-size="42.4" textLength="345" lengthAdjust="spacing"><tspan font-style="italic">νF</tspan><tspan font-style="italic" font-size="29.6" dy="8">ν</tspan><tspan dy="-8"> [erg s</tspan><tspan dy="-17" font-size="29.6">−1</tspan><tspan dy="17"> cm</tspan><tspan dy="-17" font-size="29.6">−2</tspan><tspan dy="17">]</tspan></text>
</svg></body></html>
